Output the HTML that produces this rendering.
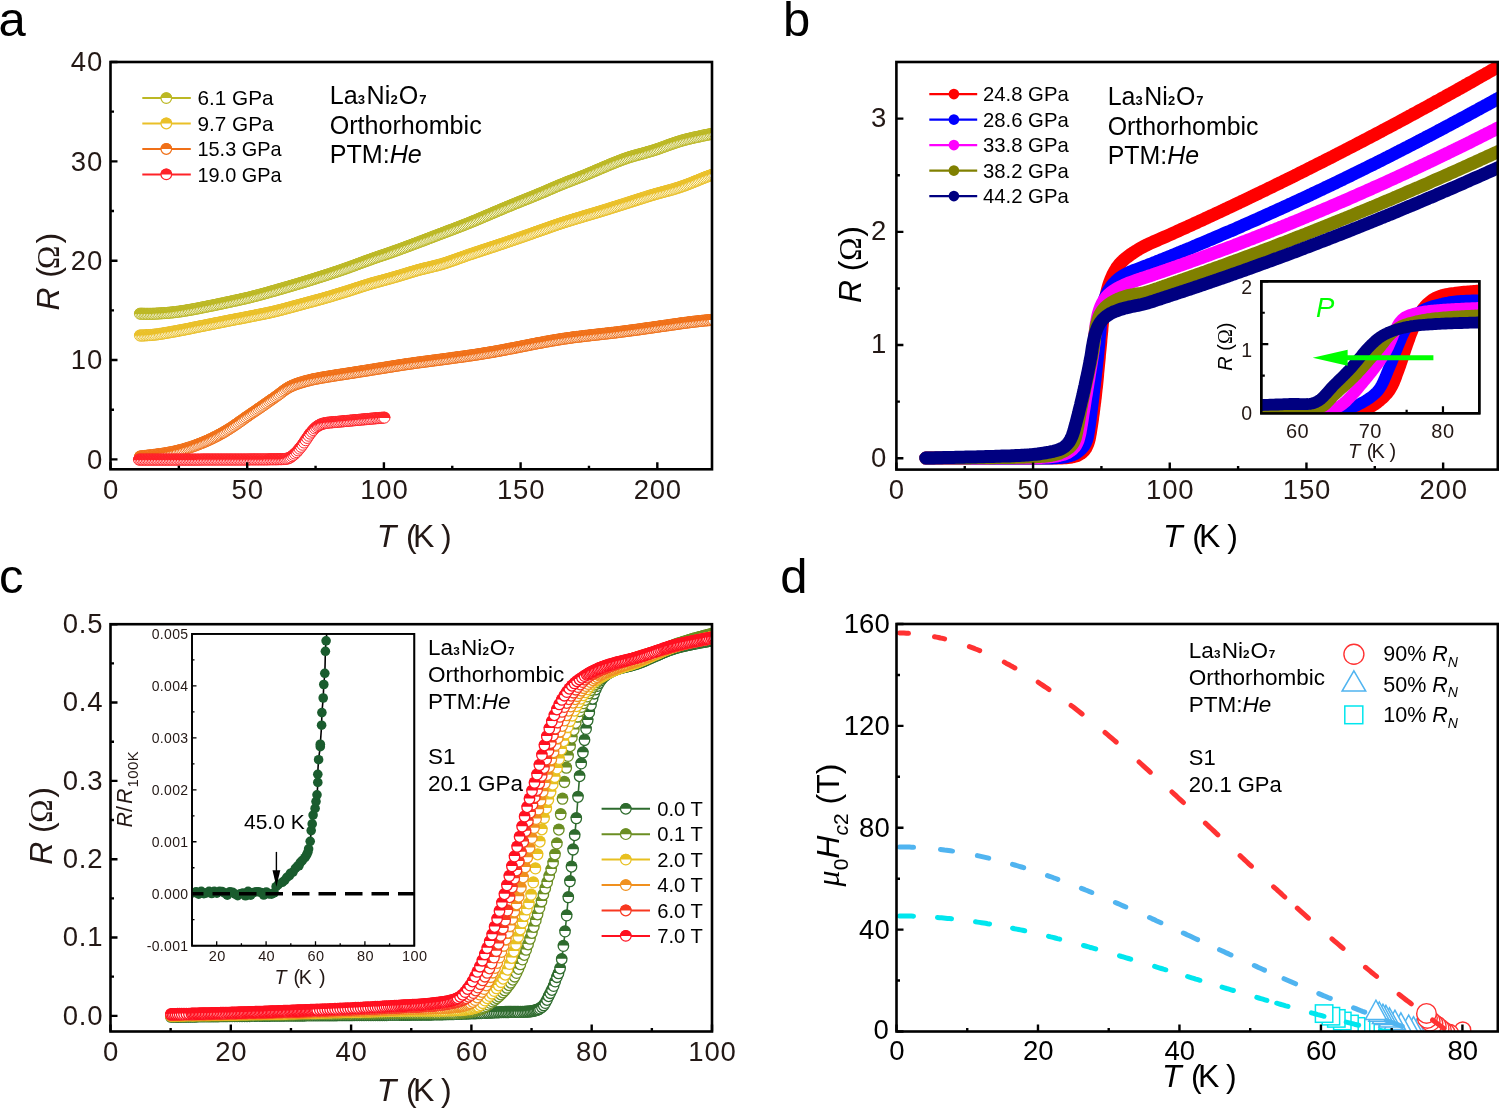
<!DOCTYPE html><html><head><meta charset="utf-8"><style>html,body{margin:0;padding:0;background:#fff;overflow:hidden}svg{display:block;will-change:transform}</style></head><body>
<svg width="1499" height="1108" viewBox="0 0 1499 1108" font-family='"Liberation Sans", sans-serif'>
<rect width="1499" height="1108" fill="#fff"/>
<text x="-1.5" y="36" text-anchor="start" fill="#000" style="font-size:49px;" font-family='"Liberation Sans", sans-serif' >a</text>
<text x="783" y="36" text-anchor="start" fill="#000" style="font-size:49px;" font-family='"Liberation Sans", sans-serif' >b</text>
<text x="-1" y="593" text-anchor="start" fill="#000" style="font-size:49px;" font-family='"Liberation Sans", sans-serif' >c</text>
<text x="780.2" y="593" text-anchor="start" fill="#000" style="font-size:49px;" font-family='"Liberation Sans", sans-serif' >d</text>
<defs><g id="hm"><circle r="5.3" fill="#fff" stroke="currentColor" stroke-width="1.2"/><path d="M-5.9 0A5.9 5.9 0 0 1 5.9 0Z" fill="currentColor"/></g><g id="hma"><circle r="5.55" fill="#fff" stroke="currentColor" stroke-width="1.0"/><path d="M-6.05 0.3A6.05 6.05 0 0 1 6.05 0.3Z" fill="currentColor"/></g><g id="hmc"><circle r="5.2" fill="#fff" stroke="currentColor" stroke-width="1.3"/><path d="M-5.85 -0.6A5.85 5.85 0 0 1 5.85 -0.6Z" fill="currentColor"/></g><clipPath id="clipA"><rect x="110.5" y="62.0" width="601.5" height="407.3"/></clipPath><clipPath id="clipB"><rect x="896.4" y="62.0" width="601.4" height="407.6"/></clipPath><clipPath id="clipBI"><rect x="1261.3" y="281.3" width="218.0" height="132.0"/></clipPath><clipPath id="clipC"><rect x="110.5" y="624.2" width="601.5" height="407.3"/></clipPath><clipPath id="clipCI"><rect x="192.0" y="633.9" width="222.3" height="311.8"/></clipPath><clipPath id="clipD"><rect x="896.5" y="624.0" width="601.3" height="407.5"/></clipPath></defs>
<g clip-path="url(#clipA)">
<g style="color:#bcb824"><use href="#hma" x="140.0" y="313.7"/><use href="#hma" x="141.5" y="313.7"/><use href="#hma" x="143.0" y="313.7"/><use href="#hma" x="144.6" y="313.8"/><use href="#hma" x="146.1" y="313.8"/><use href="#hma" x="147.6" y="313.8"/><use href="#hma" x="149.1" y="313.8"/><use href="#hma" x="150.7" y="313.8"/><use href="#hma" x="152.2" y="313.8"/><use href="#hma" x="153.7" y="313.7"/><use href="#hma" x="155.3" y="313.7"/><use href="#hma" x="156.8" y="313.6"/><use href="#hma" x="158.3" y="313.5"/><use href="#hma" x="159.8" y="313.4"/><use href="#hma" x="161.4" y="313.3"/><use href="#hma" x="162.9" y="313.2"/><use href="#hma" x="164.4" y="313.1"/><use href="#hma" x="166.0" y="313.0"/><use href="#hma" x="167.5" y="312.9"/><use href="#hma" x="169.0" y="312.7"/><use href="#hma" x="170.5" y="312.6"/><use href="#hma" x="172.1" y="312.4"/><use href="#hma" x="173.6" y="312.3"/><use href="#hma" x="175.1" y="312.1"/><use href="#hma" x="176.6" y="311.9"/><use href="#hma" x="178.2" y="311.7"/><use href="#hma" x="179.7" y="311.5"/><use href="#hma" x="181.2" y="311.3"/><use href="#hma" x="182.7" y="311.1"/><use href="#hma" x="184.2" y="310.8"/><use href="#hma" x="185.7" y="310.6"/><use href="#hma" x="187.3" y="310.3"/><use href="#hma" x="188.8" y="310.1"/><use href="#hma" x="190.3" y="309.8"/><use href="#hma" x="191.8" y="309.5"/><use href="#hma" x="193.3" y="309.3"/><use href="#hma" x="194.8" y="309.0"/><use href="#hma" x="196.3" y="308.7"/><use href="#hma" x="197.8" y="308.4"/><use href="#hma" x="199.3" y="308.1"/><use href="#hma" x="200.8" y="307.8"/><use href="#hma" x="202.3" y="307.5"/><use href="#hma" x="203.8" y="307.2"/><use href="#hma" x="205.3" y="306.9"/><use href="#hma" x="206.8" y="306.6"/><use href="#hma" x="208.3" y="306.3"/><use href="#hma" x="209.8" y="306.0"/><use href="#hma" x="211.3" y="305.7"/><use href="#hma" x="212.8" y="305.4"/><use href="#hma" x="214.3" y="305.1"/><use href="#hma" x="215.8" y="304.8"/><use href="#hma" x="217.3" y="304.5"/><use href="#hma" x="218.8" y="304.1"/><use href="#hma" x="220.3" y="303.8"/><use href="#hma" x="221.8" y="303.5"/><use href="#hma" x="223.3" y="303.2"/><use href="#hma" x="224.8" y="302.9"/><use href="#hma" x="226.3" y="302.5"/><use href="#hma" x="227.8" y="302.2"/><use href="#hma" x="229.3" y="301.9"/><use href="#hma" x="230.8" y="301.6"/><use href="#hma" x="232.3" y="301.2"/><use href="#hma" x="233.8" y="300.9"/><use href="#hma" x="235.3" y="300.6"/><use href="#hma" x="236.8" y="300.3"/><use href="#hma" x="238.3" y="300.0"/><use href="#hma" x="239.8" y="299.6"/><use href="#hma" x="241.3" y="299.3"/><use href="#hma" x="242.8" y="299.0"/><use href="#hma" x="244.3" y="298.6"/><use href="#hma" x="245.8" y="298.3"/><use href="#hma" x="247.3" y="297.9"/><use href="#hma" x="248.8" y="297.6"/><use href="#hma" x="250.3" y="297.2"/><use href="#hma" x="251.8" y="296.8"/><use href="#hma" x="253.3" y="296.4"/><use href="#hma" x="254.7" y="296.1"/><use href="#hma" x="256.2" y="295.7"/><use href="#hma" x="257.7" y="295.3"/><use href="#hma" x="259.2" y="294.9"/><use href="#hma" x="260.7" y="294.5"/><use href="#hma" x="262.2" y="294.1"/><use href="#hma" x="263.6" y="293.7"/><use href="#hma" x="265.1" y="293.3"/><use href="#hma" x="266.6" y="292.9"/><use href="#hma" x="268.1" y="292.5"/><use href="#hma" x="269.5" y="292.0"/><use href="#hma" x="271.0" y="291.6"/><use href="#hma" x="272.5" y="291.2"/><use href="#hma" x="274.0" y="290.8"/><use href="#hma" x="275.4" y="290.4"/><use href="#hma" x="276.9" y="290.0"/><use href="#hma" x="278.4" y="289.5"/><use href="#hma" x="279.9" y="289.1"/><use href="#hma" x="281.3" y="288.7"/><use href="#hma" x="282.8" y="288.3"/><use href="#hma" x="284.3" y="287.8"/><use href="#hma" x="285.8" y="287.4"/><use href="#hma" x="287.2" y="287.0"/><use href="#hma" x="288.7" y="286.6"/><use href="#hma" x="290.2" y="286.1"/><use href="#hma" x="291.6" y="285.7"/><use href="#hma" x="293.1" y="285.3"/><use href="#hma" x="294.6" y="284.8"/><use href="#hma" x="296.1" y="284.4"/><use href="#hma" x="297.5" y="283.9"/><use href="#hma" x="299.0" y="283.5"/><use href="#hma" x="300.5" y="283.1"/><use href="#hma" x="301.9" y="282.6"/><use href="#hma" x="303.4" y="282.2"/><use href="#hma" x="304.9" y="281.7"/><use href="#hma" x="306.3" y="281.3"/><use href="#hma" x="307.8" y="280.8"/><use href="#hma" x="309.3" y="280.4"/><use href="#hma" x="310.7" y="279.9"/><use href="#hma" x="312.2" y="279.5"/><use href="#hma" x="313.7" y="279.0"/><use href="#hma" x="315.1" y="278.6"/><use href="#hma" x="316.6" y="278.1"/><use href="#hma" x="318.0" y="277.6"/><use href="#hma" x="319.5" y="277.2"/><use href="#hma" x="321.0" y="276.7"/><use href="#hma" x="322.4" y="276.2"/><use href="#hma" x="323.9" y="275.8"/><use href="#hma" x="325.4" y="275.3"/><use href="#hma" x="326.8" y="274.8"/><use href="#hma" x="328.3" y="274.4"/><use href="#hma" x="329.7" y="273.9"/><use href="#hma" x="331.2" y="273.4"/><use href="#hma" x="332.6" y="272.9"/><use href="#hma" x="334.1" y="272.4"/><use href="#hma" x="335.5" y="272.0"/><use href="#hma" x="337.0" y="271.5"/><use href="#hma" x="338.5" y="271.0"/><use href="#hma" x="339.9" y="270.5"/><use href="#hma" x="341.4" y="270.0"/><use href="#hma" x="342.8" y="269.5"/><use href="#hma" x="344.3" y="269.0"/><use href="#hma" x="345.7" y="268.5"/><use href="#hma" x="347.1" y="268.0"/><use href="#hma" x="348.6" y="267.5"/><use href="#hma" x="350.0" y="266.9"/><use href="#hma" x="351.5" y="266.4"/><use href="#hma" x="352.9" y="265.9"/><use href="#hma" x="354.4" y="265.4"/><use href="#hma" x="355.8" y="264.8"/><use href="#hma" x="357.2" y="264.3"/><use href="#hma" x="358.7" y="263.8"/><use href="#hma" x="360.1" y="263.2"/><use href="#hma" x="361.5" y="262.7"/><use href="#hma" x="363.0" y="262.2"/><use href="#hma" x="364.4" y="261.6"/><use href="#hma" x="365.9" y="261.1"/><use href="#hma" x="367.3" y="260.6"/><use href="#hma" x="368.7" y="260.1"/><use href="#hma" x="370.2" y="259.6"/><use href="#hma" x="371.6" y="259.0"/><use href="#hma" x="373.1" y="258.5"/><use href="#hma" x="374.5" y="258.0"/><use href="#hma" x="376.0" y="257.5"/><use href="#hma" x="377.4" y="257.0"/><use href="#hma" x="378.9" y="256.5"/><use href="#hma" x="380.3" y="256.0"/><use href="#hma" x="381.8" y="255.5"/><use href="#hma" x="383.2" y="255.1"/><use href="#hma" x="384.7" y="254.6"/><use href="#hma" x="386.1" y="254.1"/><use href="#hma" x="387.6" y="253.6"/><use href="#hma" x="389.0" y="253.1"/><use href="#hma" x="390.5" y="252.6"/><use href="#hma" x="391.9" y="252.1"/><use href="#hma" x="393.4" y="251.5"/><use href="#hma" x="394.8" y="251.0"/><use href="#hma" x="396.3" y="250.5"/><use href="#hma" x="397.7" y="250.0"/><use href="#hma" x="399.2" y="249.5"/><use href="#hma" x="400.6" y="248.9"/><use href="#hma" x="402.0" y="248.4"/><use href="#hma" x="403.5" y="247.9"/><use href="#hma" x="404.9" y="247.4"/><use href="#hma" x="406.3" y="246.8"/><use href="#hma" x="407.8" y="246.3"/><use href="#hma" x="409.2" y="245.8"/><use href="#hma" x="410.7" y="245.2"/><use href="#hma" x="412.1" y="244.7"/><use href="#hma" x="413.5" y="244.1"/><use href="#hma" x="415.0" y="243.6"/><use href="#hma" x="416.4" y="243.1"/><use href="#hma" x="417.8" y="242.5"/><use href="#hma" x="419.3" y="242.0"/><use href="#hma" x="420.7" y="241.4"/><use href="#hma" x="422.1" y="240.9"/><use href="#hma" x="423.6" y="240.4"/><use href="#hma" x="425.0" y="239.8"/><use href="#hma" x="426.4" y="239.3"/><use href="#hma" x="427.9" y="238.7"/><use href="#hma" x="429.3" y="238.2"/><use href="#hma" x="430.7" y="237.6"/><use href="#hma" x="432.2" y="237.1"/><use href="#hma" x="433.6" y="236.5"/><use href="#hma" x="435.0" y="236.0"/><use href="#hma" x="436.5" y="235.4"/><use href="#hma" x="437.9" y="234.9"/><use href="#hma" x="439.3" y="234.3"/><use href="#hma" x="440.8" y="233.8"/><use href="#hma" x="442.2" y="233.3"/><use href="#hma" x="443.6" y="232.7"/><use href="#hma" x="445.1" y="232.2"/><use href="#hma" x="446.5" y="231.6"/><use href="#hma" x="447.9" y="231.1"/><use href="#hma" x="449.4" y="230.5"/><use href="#hma" x="450.8" y="230.0"/><use href="#hma" x="452.2" y="229.5"/><use href="#hma" x="453.7" y="228.9"/><use href="#hma" x="455.1" y="228.4"/><use href="#hma" x="456.5" y="227.8"/><use href="#hma" x="458.0" y="227.3"/><use href="#hma" x="459.4" y="226.7"/><use href="#hma" x="460.8" y="226.2"/><use href="#hma" x="462.3" y="225.6"/><use href="#hma" x="463.7" y="225.1"/><use href="#hma" x="465.1" y="224.5"/><use href="#hma" x="466.5" y="223.9"/><use href="#hma" x="468.0" y="223.4"/><use href="#hma" x="469.4" y="222.8"/><use href="#hma" x="470.8" y="222.2"/><use href="#hma" x="472.2" y="221.6"/><use href="#hma" x="473.6" y="221.1"/><use href="#hma" x="475.1" y="220.5"/><use href="#hma" x="476.5" y="219.9"/><use href="#hma" x="477.9" y="219.3"/><use href="#hma" x="479.3" y="218.7"/><use href="#hma" x="480.7" y="218.1"/><use href="#hma" x="482.1" y="217.5"/><use href="#hma" x="483.5" y="216.9"/><use href="#hma" x="484.9" y="216.3"/><use href="#hma" x="486.3" y="215.7"/><use href="#hma" x="487.8" y="215.1"/><use href="#hma" x="489.2" y="214.5"/><use href="#hma" x="490.6" y="213.9"/><use href="#hma" x="492.0" y="213.3"/><use href="#hma" x="493.4" y="212.7"/><use href="#hma" x="494.8" y="212.1"/><use href="#hma" x="496.2" y="211.5"/><use href="#hma" x="497.6" y="210.9"/><use href="#hma" x="499.1" y="210.3"/><use href="#hma" x="500.5" y="209.7"/><use href="#hma" x="501.9" y="209.1"/><use href="#hma" x="503.3" y="208.5"/><use href="#hma" x="504.7" y="207.9"/><use href="#hma" x="506.1" y="207.3"/><use href="#hma" x="507.5" y="206.7"/><use href="#hma" x="509.0" y="206.2"/><use href="#hma" x="510.4" y="205.6"/><use href="#hma" x="511.8" y="205.0"/><use href="#hma" x="513.2" y="204.4"/><use href="#hma" x="514.6" y="203.8"/><use href="#hma" x="516.1" y="203.2"/><use href="#hma" x="517.5" y="202.7"/><use href="#hma" x="518.9" y="202.1"/><use href="#hma" x="520.3" y="201.5"/><use href="#hma" x="521.7" y="200.9"/><use href="#hma" x="523.2" y="200.4"/><use href="#hma" x="524.6" y="199.8"/><use href="#hma" x="526.0" y="199.2"/><use href="#hma" x="527.4" y="198.7"/><use href="#hma" x="528.9" y="198.1"/><use href="#hma" x="530.3" y="197.5"/><use href="#hma" x="531.7" y="196.9"/><use href="#hma" x="533.1" y="196.4"/><use href="#hma" x="534.5" y="195.8"/><use href="#hma" x="536.0" y="195.2"/><use href="#hma" x="537.4" y="194.6"/><use href="#hma" x="538.8" y="194.0"/><use href="#hma" x="540.2" y="193.4"/><use href="#hma" x="541.6" y="192.9"/><use href="#hma" x="543.0" y="192.3"/><use href="#hma" x="544.4" y="191.7"/><use href="#hma" x="545.9" y="191.1"/><use href="#hma" x="547.3" y="190.4"/><use href="#hma" x="548.7" y="189.8"/><use href="#hma" x="550.1" y="189.2"/><use href="#hma" x="551.5" y="188.6"/><use href="#hma" x="552.9" y="188.0"/><use href="#hma" x="554.3" y="187.4"/><use href="#hma" x="555.7" y="186.8"/><use href="#hma" x="557.1" y="186.2"/><use href="#hma" x="558.5" y="185.6"/><use href="#hma" x="560.0" y="185.0"/><use href="#hma" x="561.4" y="184.4"/><use href="#hma" x="562.8" y="183.9"/><use href="#hma" x="564.2" y="183.3"/><use href="#hma" x="565.6" y="182.7"/><use href="#hma" x="567.1" y="182.1"/><use href="#hma" x="568.5" y="181.6"/><use href="#hma" x="569.9" y="181.0"/><use href="#hma" x="571.3" y="180.5"/><use href="#hma" x="572.8" y="179.9"/><use href="#hma" x="574.2" y="179.4"/><use href="#hma" x="575.6" y="178.8"/><use href="#hma" x="577.1" y="178.3"/><use href="#hma" x="578.5" y="177.7"/><use href="#hma" x="579.9" y="177.1"/><use href="#hma" x="581.4" y="176.6"/><use href="#hma" x="582.8" y="176.0"/><use href="#hma" x="584.2" y="175.5"/><use href="#hma" x="585.6" y="174.9"/><use href="#hma" x="587.0" y="174.3"/><use href="#hma" x="588.5" y="173.7"/><use href="#hma" x="589.9" y="173.1"/><use href="#hma" x="591.3" y="172.5"/><use href="#hma" x="592.7" y="171.9"/><use href="#hma" x="594.1" y="171.3"/><use href="#hma" x="595.5" y="170.7"/><use href="#hma" x="596.9" y="170.1"/><use href="#hma" x="598.3" y="169.5"/><use href="#hma" x="599.7" y="168.9"/><use href="#hma" x="601.1" y="168.3"/><use href="#hma" x="602.5" y="167.7"/><use href="#hma" x="604.0" y="167.1"/><use href="#hma" x="605.4" y="166.5"/><use href="#hma" x="606.8" y="165.9"/><use href="#hma" x="608.2" y="165.3"/><use href="#hma" x="609.6" y="164.7"/><use href="#hma" x="611.0" y="164.1"/><use href="#hma" x="612.5" y="163.5"/><use href="#hma" x="613.9" y="163.0"/><use href="#hma" x="615.3" y="162.4"/><use href="#hma" x="616.7" y="161.8"/><use href="#hma" x="618.1" y="161.3"/><use href="#hma" x="619.6" y="160.7"/><use href="#hma" x="621.0" y="160.2"/><use href="#hma" x="622.4" y="159.6"/><use href="#hma" x="623.9" y="159.1"/><use href="#hma" x="625.3" y="158.6"/><use href="#hma" x="626.8" y="158.1"/><use href="#hma" x="628.2" y="157.6"/><use href="#hma" x="629.7" y="157.1"/><use href="#hma" x="631.2" y="156.7"/><use href="#hma" x="632.6" y="156.2"/><use href="#hma" x="634.1" y="155.8"/><use href="#hma" x="635.6" y="155.4"/><use href="#hma" x="637.0" y="155.0"/><use href="#hma" x="638.5" y="154.6"/><use href="#hma" x="640.0" y="154.2"/><use href="#hma" x="641.5" y="153.8"/><use href="#hma" x="643.0" y="153.4"/><use href="#hma" x="644.4" y="153.0"/><use href="#hma" x="645.9" y="152.6"/><use href="#hma" x="647.4" y="152.1"/><use href="#hma" x="648.9" y="151.7"/><use href="#hma" x="650.3" y="151.3"/><use href="#hma" x="651.8" y="150.9"/><use href="#hma" x="653.3" y="150.4"/><use href="#hma" x="654.7" y="149.9"/><use href="#hma" x="656.2" y="149.5"/><use href="#hma" x="657.6" y="149.0"/><use href="#hma" x="659.1" y="148.5"/><use href="#hma" x="660.5" y="148.0"/><use href="#hma" x="662.0" y="147.4"/><use href="#hma" x="663.4" y="146.9"/><use href="#hma" x="664.9" y="146.4"/><use href="#hma" x="666.3" y="145.9"/><use href="#hma" x="667.7" y="145.3"/><use href="#hma" x="669.2" y="144.8"/><use href="#hma" x="670.6" y="144.3"/><use href="#hma" x="672.1" y="143.8"/><use href="#hma" x="673.5" y="143.3"/><use href="#hma" x="675.0" y="142.8"/><use href="#hma" x="676.4" y="142.3"/><use href="#hma" x="677.9" y="141.8"/><use href="#hma" x="679.3" y="141.4"/><use href="#hma" x="680.8" y="140.9"/><use href="#hma" x="682.3" y="140.5"/><use href="#hma" x="683.8" y="140.1"/><use href="#hma" x="685.2" y="139.7"/><use href="#hma" x="686.7" y="139.3"/><use href="#hma" x="688.2" y="138.9"/><use href="#hma" x="689.7" y="138.6"/><use href="#hma" x="691.2" y="138.2"/><use href="#hma" x="692.7" y="137.9"/><use href="#hma" x="694.2" y="137.5"/><use href="#hma" x="695.7" y="137.2"/><use href="#hma" x="697.2" y="136.9"/><use href="#hma" x="698.7" y="136.6"/><use href="#hma" x="700.2" y="136.3"/><use href="#hma" x="701.7" y="135.9"/><use href="#hma" x="703.2" y="135.6"/><use href="#hma" x="704.7" y="135.3"/><use href="#hma" x="706.2" y="135.0"/><use href="#hma" x="707.6" y="134.7"/><use href="#hma" x="709.2" y="134.4"/><use href="#hma" x="710.7" y="134.1"/><use href="#hma" x="712.2" y="133.8"/><use href="#hma" x="713.6" y="133.5"/><use href="#hma" x="715.1" y="133.3"/></g>
<g style="color:#eac028"><use href="#hma" x="140.0" y="335.5"/><use href="#hma" x="141.5" y="335.5"/><use href="#hma" x="143.0" y="335.5"/><use href="#hma" x="144.6" y="335.4"/><use href="#hma" x="146.1" y="335.3"/><use href="#hma" x="147.6" y="335.2"/><use href="#hma" x="149.1" y="335.1"/><use href="#hma" x="150.6" y="335.0"/><use href="#hma" x="152.2" y="334.9"/><use href="#hma" x="153.7" y="334.7"/><use href="#hma" x="155.2" y="334.6"/><use href="#hma" x="156.7" y="334.4"/><use href="#hma" x="158.3" y="334.2"/><use href="#hma" x="159.8" y="333.9"/><use href="#hma" x="161.3" y="333.7"/><use href="#hma" x="162.8" y="333.5"/><use href="#hma" x="164.3" y="333.2"/><use href="#hma" x="165.8" y="333.0"/><use href="#hma" x="167.3" y="332.7"/><use href="#hma" x="168.9" y="332.4"/><use href="#hma" x="170.4" y="332.2"/><use href="#hma" x="171.9" y="331.9"/><use href="#hma" x="173.4" y="331.6"/><use href="#hma" x="174.9" y="331.4"/><use href="#hma" x="176.4" y="331.1"/><use href="#hma" x="177.9" y="330.8"/><use href="#hma" x="179.4" y="330.5"/><use href="#hma" x="180.9" y="330.2"/><use href="#hma" x="182.4" y="329.9"/><use href="#hma" x="183.9" y="329.7"/><use href="#hma" x="185.4" y="329.4"/><use href="#hma" x="186.9" y="329.1"/><use href="#hma" x="188.4" y="328.8"/><use href="#hma" x="189.9" y="328.5"/><use href="#hma" x="191.4" y="328.1"/><use href="#hma" x="192.9" y="327.8"/><use href="#hma" x="194.5" y="327.5"/><use href="#hma" x="196.0" y="327.2"/><use href="#hma" x="197.5" y="326.9"/><use href="#hma" x="199.0" y="326.6"/><use href="#hma" x="200.5" y="326.3"/><use href="#hma" x="202.0" y="326.0"/><use href="#hma" x="203.5" y="325.7"/><use href="#hma" x="205.0" y="325.4"/><use href="#hma" x="206.5" y="325.1"/><use href="#hma" x="208.0" y="324.8"/><use href="#hma" x="209.5" y="324.5"/><use href="#hma" x="211.0" y="324.2"/><use href="#hma" x="212.5" y="323.9"/><use href="#hma" x="214.0" y="323.6"/><use href="#hma" x="215.5" y="323.3"/><use href="#hma" x="217.0" y="323.0"/><use href="#hma" x="218.5" y="322.7"/><use href="#hma" x="220.0" y="322.4"/><use href="#hma" x="221.5" y="322.1"/><use href="#hma" x="223.0" y="321.8"/><use href="#hma" x="224.5" y="321.5"/><use href="#hma" x="226.0" y="321.2"/><use href="#hma" x="227.5" y="320.9"/><use href="#hma" x="229.0" y="320.6"/><use href="#hma" x="230.5" y="320.3"/><use href="#hma" x="232.0" y="320.0"/><use href="#hma" x="233.5" y="319.7"/><use href="#hma" x="235.0" y="319.4"/><use href="#hma" x="236.6" y="319.1"/><use href="#hma" x="238.1" y="318.8"/><use href="#hma" x="239.6" y="318.6"/><use href="#hma" x="241.1" y="318.3"/><use href="#hma" x="242.6" y="318.0"/><use href="#hma" x="244.1" y="317.7"/><use href="#hma" x="245.6" y="317.4"/><use href="#hma" x="247.1" y="317.1"/><use href="#hma" x="248.6" y="316.8"/><use href="#hma" x="250.1" y="316.5"/><use href="#hma" x="251.6" y="316.2"/><use href="#hma" x="253.1" y="315.9"/><use href="#hma" x="254.6" y="315.6"/><use href="#hma" x="256.1" y="315.3"/><use href="#hma" x="257.6" y="315.0"/><use href="#hma" x="259.1" y="314.7"/><use href="#hma" x="260.6" y="314.4"/><use href="#hma" x="262.1" y="314.1"/><use href="#hma" x="263.6" y="313.8"/><use href="#hma" x="265.1" y="313.5"/><use href="#hma" x="266.6" y="313.2"/><use href="#hma" x="268.1" y="312.9"/><use href="#hma" x="269.6" y="312.5"/><use href="#hma" x="271.1" y="312.2"/><use href="#hma" x="272.6" y="311.9"/><use href="#hma" x="274.1" y="311.5"/><use href="#hma" x="275.6" y="311.2"/><use href="#hma" x="277.1" y="310.8"/><use href="#hma" x="278.6" y="310.4"/><use href="#hma" x="280.1" y="310.0"/><use href="#hma" x="281.6" y="309.7"/><use href="#hma" x="283.0" y="309.3"/><use href="#hma" x="284.5" y="308.9"/><use href="#hma" x="286.0" y="308.5"/><use href="#hma" x="287.5" y="308.1"/><use href="#hma" x="289.0" y="307.7"/><use href="#hma" x="290.4" y="307.3"/><use href="#hma" x="291.9" y="306.9"/><use href="#hma" x="293.4" y="306.5"/><use href="#hma" x="294.9" y="306.1"/><use href="#hma" x="296.4" y="305.7"/><use href="#hma" x="297.8" y="305.3"/><use href="#hma" x="299.3" y="304.9"/><use href="#hma" x="300.8" y="304.5"/><use href="#hma" x="302.3" y="304.1"/><use href="#hma" x="303.8" y="303.7"/><use href="#hma" x="305.2" y="303.3"/><use href="#hma" x="306.7" y="302.9"/><use href="#hma" x="308.2" y="302.5"/><use href="#hma" x="309.7" y="302.1"/><use href="#hma" x="311.2" y="301.7"/><use href="#hma" x="312.7" y="301.3"/><use href="#hma" x="314.1" y="300.9"/><use href="#hma" x="315.6" y="300.5"/><use href="#hma" x="317.1" y="300.1"/><use href="#hma" x="318.6" y="299.7"/><use href="#hma" x="320.1" y="299.3"/><use href="#hma" x="321.5" y="298.9"/><use href="#hma" x="323.0" y="298.5"/><use href="#hma" x="324.5" y="298.1"/><use href="#hma" x="326.0" y="297.6"/><use href="#hma" x="327.4" y="297.2"/><use href="#hma" x="328.9" y="296.8"/><use href="#hma" x="330.4" y="296.4"/><use href="#hma" x="331.8" y="295.9"/><use href="#hma" x="333.3" y="295.5"/><use href="#hma" x="334.8" y="295.0"/><use href="#hma" x="336.2" y="294.6"/><use href="#hma" x="337.7" y="294.1"/><use href="#hma" x="339.2" y="293.7"/><use href="#hma" x="340.6" y="293.2"/><use href="#hma" x="342.1" y="292.8"/><use href="#hma" x="343.6" y="292.3"/><use href="#hma" x="345.0" y="291.9"/><use href="#hma" x="346.5" y="291.4"/><use href="#hma" x="348.0" y="291.0"/><use href="#hma" x="349.4" y="290.5"/><use href="#hma" x="350.9" y="290.0"/><use href="#hma" x="352.3" y="289.6"/><use href="#hma" x="353.8" y="289.1"/><use href="#hma" x="355.3" y="288.6"/><use href="#hma" x="356.7" y="288.1"/><use href="#hma" x="358.2" y="287.7"/><use href="#hma" x="359.6" y="287.2"/><use href="#hma" x="361.1" y="286.7"/><use href="#hma" x="362.6" y="286.2"/><use href="#hma" x="364.0" y="285.8"/><use href="#hma" x="365.5" y="285.3"/><use href="#hma" x="366.9" y="284.9"/><use href="#hma" x="368.4" y="284.4"/><use href="#hma" x="369.9" y="284.0"/><use href="#hma" x="371.3" y="283.5"/><use href="#hma" x="372.8" y="283.1"/><use href="#hma" x="374.3" y="282.7"/><use href="#hma" x="375.8" y="282.3"/><use href="#hma" x="377.2" y="281.9"/><use href="#hma" x="378.7" y="281.5"/><use href="#hma" x="380.2" y="281.1"/><use href="#hma" x="381.7" y="280.7"/><use href="#hma" x="383.2" y="280.3"/><use href="#hma" x="384.6" y="279.9"/><use href="#hma" x="386.1" y="279.5"/><use href="#hma" x="387.6" y="279.1"/><use href="#hma" x="389.1" y="278.7"/><use href="#hma" x="390.6" y="278.2"/><use href="#hma" x="392.0" y="277.8"/><use href="#hma" x="393.5" y="277.4"/><use href="#hma" x="395.0" y="277.0"/><use href="#hma" x="396.5" y="276.6"/><use href="#hma" x="397.9" y="276.1"/><use href="#hma" x="399.4" y="275.7"/><use href="#hma" x="400.9" y="275.3"/><use href="#hma" x="402.3" y="274.8"/><use href="#hma" x="403.8" y="274.4"/><use href="#hma" x="405.3" y="273.9"/><use href="#hma" x="406.7" y="273.5"/><use href="#hma" x="408.2" y="273.0"/><use href="#hma" x="409.7" y="272.6"/><use href="#hma" x="411.1" y="272.1"/><use href="#hma" x="412.6" y="271.7"/><use href="#hma" x="414.1" y="271.3"/><use href="#hma" x="415.6" y="270.8"/><use href="#hma" x="417.0" y="270.4"/><use href="#hma" x="418.5" y="270.0"/><use href="#hma" x="420.0" y="269.6"/><use href="#hma" x="421.5" y="269.2"/><use href="#hma" x="423.0" y="268.8"/><use href="#hma" x="424.4" y="268.5"/><use href="#hma" x="425.9" y="268.1"/><use href="#hma" x="427.4" y="267.8"/><use href="#hma" x="428.9" y="267.4"/><use href="#hma" x="430.4" y="267.0"/><use href="#hma" x="431.9" y="266.7"/><use href="#hma" x="433.4" y="266.3"/><use href="#hma" x="434.9" y="265.9"/><use href="#hma" x="436.4" y="265.6"/><use href="#hma" x="437.8" y="265.2"/><use href="#hma" x="439.3" y="264.8"/><use href="#hma" x="440.8" y="264.4"/><use href="#hma" x="442.3" y="264.0"/><use href="#hma" x="443.7" y="263.5"/><use href="#hma" x="445.2" y="263.1"/><use href="#hma" x="446.7" y="262.6"/><use href="#hma" x="448.1" y="262.1"/><use href="#hma" x="449.6" y="261.6"/><use href="#hma" x="451.0" y="261.1"/><use href="#hma" x="452.5" y="260.6"/><use href="#hma" x="453.9" y="260.1"/><use href="#hma" x="455.4" y="259.6"/><use href="#hma" x="456.8" y="259.1"/><use href="#hma" x="458.2" y="258.5"/><use href="#hma" x="459.7" y="258.0"/><use href="#hma" x="461.1" y="257.5"/><use href="#hma" x="462.6" y="257.0"/><use href="#hma" x="464.0" y="256.5"/><use href="#hma" x="465.5" y="256.0"/><use href="#hma" x="466.9" y="255.4"/><use href="#hma" x="468.3" y="254.9"/><use href="#hma" x="469.8" y="254.4"/><use href="#hma" x="471.3" y="254.0"/><use href="#hma" x="472.7" y="253.5"/><use href="#hma" x="474.2" y="253.0"/><use href="#hma" x="475.6" y="252.5"/><use href="#hma" x="477.1" y="252.0"/><use href="#hma" x="478.5" y="251.6"/><use href="#hma" x="480.0" y="251.1"/><use href="#hma" x="481.4" y="250.6"/><use href="#hma" x="482.9" y="250.1"/><use href="#hma" x="484.4" y="249.6"/><use href="#hma" x="485.8" y="249.2"/><use href="#hma" x="487.3" y="248.7"/><use href="#hma" x="488.7" y="248.2"/><use href="#hma" x="490.2" y="247.7"/><use href="#hma" x="491.6" y="247.2"/><use href="#hma" x="493.1" y="246.8"/><use href="#hma" x="494.6" y="246.3"/><use href="#hma" x="496.0" y="245.8"/><use href="#hma" x="497.5" y="245.3"/><use href="#hma" x="498.9" y="244.8"/><use href="#hma" x="500.4" y="244.3"/><use href="#hma" x="501.8" y="243.9"/><use href="#hma" x="503.3" y="243.4"/><use href="#hma" x="504.7" y="242.9"/><use href="#hma" x="506.2" y="242.4"/><use href="#hma" x="507.6" y="241.9"/><use href="#hma" x="509.1" y="241.4"/><use href="#hma" x="510.5" y="240.9"/><use href="#hma" x="512.0" y="240.4"/><use href="#hma" x="513.4" y="239.9"/><use href="#hma" x="514.9" y="239.4"/><use href="#hma" x="516.3" y="238.9"/><use href="#hma" x="517.8" y="238.4"/><use href="#hma" x="519.2" y="237.9"/><use href="#hma" x="520.7" y="237.4"/><use href="#hma" x="522.1" y="236.9"/><use href="#hma" x="523.6" y="236.4"/><use href="#hma" x="525.0" y="235.9"/><use href="#hma" x="526.5" y="235.4"/><use href="#hma" x="527.9" y="234.9"/><use href="#hma" x="529.4" y="234.4"/><use href="#hma" x="530.8" y="233.9"/><use href="#hma" x="532.3" y="233.4"/><use href="#hma" x="533.7" y="232.8"/><use href="#hma" x="535.2" y="232.3"/><use href="#hma" x="536.6" y="231.8"/><use href="#hma" x="538.1" y="231.3"/><use href="#hma" x="539.5" y="230.8"/><use href="#hma" x="540.9" y="230.3"/><use href="#hma" x="542.4" y="229.8"/><use href="#hma" x="543.8" y="229.3"/><use href="#hma" x="545.3" y="228.8"/><use href="#hma" x="546.7" y="228.3"/><use href="#hma" x="548.2" y="227.8"/><use href="#hma" x="549.6" y="227.2"/><use href="#hma" x="551.1" y="226.7"/><use href="#hma" x="552.5" y="226.2"/><use href="#hma" x="554.0" y="225.7"/><use href="#hma" x="555.4" y="225.2"/><use href="#hma" x="556.9" y="224.7"/><use href="#hma" x="558.3" y="224.2"/><use href="#hma" x="559.8" y="223.7"/><use href="#hma" x="561.2" y="223.3"/><use href="#hma" x="562.7" y="222.8"/><use href="#hma" x="564.1" y="222.3"/><use href="#hma" x="565.6" y="221.8"/><use href="#hma" x="567.1" y="221.4"/><use href="#hma" x="568.5" y="220.9"/><use href="#hma" x="570.0" y="220.5"/><use href="#hma" x="571.4" y="220.0"/><use href="#hma" x="572.9" y="219.6"/><use href="#hma" x="574.4" y="219.1"/><use href="#hma" x="575.8" y="218.7"/><use href="#hma" x="577.3" y="218.2"/><use href="#hma" x="578.8" y="217.8"/><use href="#hma" x="580.3" y="217.4"/><use href="#hma" x="581.7" y="216.9"/><use href="#hma" x="583.2" y="216.5"/><use href="#hma" x="584.7" y="216.0"/><use href="#hma" x="586.1" y="215.6"/><use href="#hma" x="587.6" y="215.2"/><use href="#hma" x="589.1" y="214.7"/><use href="#hma" x="590.5" y="214.3"/><use href="#hma" x="592.0" y="213.9"/><use href="#hma" x="593.5" y="213.4"/><use href="#hma" x="595.0" y="213.0"/><use href="#hma" x="596.4" y="212.6"/><use href="#hma" x="597.9" y="212.1"/><use href="#hma" x="599.4" y="211.7"/><use href="#hma" x="600.8" y="211.2"/><use href="#hma" x="602.3" y="210.8"/><use href="#hma" x="603.8" y="210.3"/><use href="#hma" x="605.2" y="209.9"/><use href="#hma" x="606.7" y="209.4"/><use href="#hma" x="608.2" y="209.0"/><use href="#hma" x="609.6" y="208.5"/><use href="#hma" x="611.1" y="208.0"/><use href="#hma" x="612.5" y="207.6"/><use href="#hma" x="614.0" y="207.1"/><use href="#hma" x="615.5" y="206.7"/><use href="#hma" x="616.9" y="206.2"/><use href="#hma" x="618.4" y="205.7"/><use href="#hma" x="619.9" y="205.3"/><use href="#hma" x="621.3" y="204.8"/><use href="#hma" x="622.8" y="204.4"/><use href="#hma" x="624.2" y="203.9"/><use href="#hma" x="625.7" y="203.4"/><use href="#hma" x="627.2" y="203.0"/><use href="#hma" x="628.6" y="202.5"/><use href="#hma" x="630.1" y="202.0"/><use href="#hma" x="631.5" y="201.6"/><use href="#hma" x="633.0" y="201.1"/><use href="#hma" x="634.5" y="200.6"/><use href="#hma" x="635.9" y="200.2"/><use href="#hma" x="637.4" y="199.7"/><use href="#hma" x="638.8" y="199.2"/><use href="#hma" x="640.3" y="198.8"/><use href="#hma" x="641.8" y="198.3"/><use href="#hma" x="643.2" y="197.8"/><use href="#hma" x="644.7" y="197.4"/><use href="#hma" x="646.2" y="196.9"/><use href="#hma" x="647.6" y="196.4"/><use href="#hma" x="649.1" y="196.0"/><use href="#hma" x="650.5" y="195.5"/><use href="#hma" x="652.0" y="195.1"/><use href="#hma" x="653.5" y="194.7"/><use href="#hma" x="655.0" y="194.2"/><use href="#hma" x="656.4" y="193.8"/><use href="#hma" x="657.9" y="193.4"/><use href="#hma" x="659.4" y="193.0"/><use href="#hma" x="660.9" y="192.6"/><use href="#hma" x="662.3" y="192.2"/><use href="#hma" x="663.8" y="191.8"/><use href="#hma" x="665.3" y="191.4"/><use href="#hma" x="666.8" y="191.0"/><use href="#hma" x="668.3" y="190.6"/><use href="#hma" x="669.7" y="190.2"/><use href="#hma" x="671.2" y="189.8"/><use href="#hma" x="672.7" y="189.4"/><use href="#hma" x="674.2" y="188.9"/><use href="#hma" x="675.6" y="188.5"/><use href="#hma" x="677.1" y="188.0"/><use href="#hma" x="678.6" y="187.6"/><use href="#hma" x="680.0" y="187.1"/><use href="#hma" x="681.5" y="186.6"/><use href="#hma" x="682.9" y="186.1"/><use href="#hma" x="684.4" y="185.6"/><use href="#hma" x="685.8" y="185.1"/><use href="#hma" x="687.2" y="184.5"/><use href="#hma" x="688.7" y="184.0"/><use href="#hma" x="690.1" y="183.4"/><use href="#hma" x="691.5" y="182.9"/><use href="#hma" x="692.9" y="182.3"/><use href="#hma" x="694.4" y="181.7"/><use href="#hma" x="695.8" y="181.1"/><use href="#hma" x="697.2" y="180.6"/><use href="#hma" x="698.6" y="180.0"/><use href="#hma" x="700.0" y="179.4"/><use href="#hma" x="701.5" y="178.8"/><use href="#hma" x="702.9" y="178.2"/><use href="#hma" x="704.3" y="177.7"/><use href="#hma" x="705.7" y="177.1"/><use href="#hma" x="707.1" y="176.6"/><use href="#hma" x="708.6" y="176.1"/><use href="#hma" x="710.0" y="175.5"/><use href="#hma" x="711.4" y="175.1"/><use href="#hma" x="712.9" y="174.6"/><use href="#hma" x="714.3" y="174.2"/></g>
<g style="color:#f07018"><use href="#hma" x="140.1" y="456.5"/><use href="#hma" x="141.6" y="456.3"/><use href="#hma" x="143.1" y="456.2"/><use href="#hma" x="144.6" y="456.0"/><use href="#hma" x="146.2" y="455.8"/><use href="#hma" x="147.7" y="455.6"/><use href="#hma" x="149.2" y="455.5"/><use href="#hma" x="150.7" y="455.3"/><use href="#hma" x="152.3" y="455.1"/><use href="#hma" x="153.8" y="454.9"/><use href="#hma" x="155.3" y="454.7"/><use href="#hma" x="156.8" y="454.5"/><use href="#hma" x="158.4" y="454.3"/><use href="#hma" x="159.9" y="454.1"/><use href="#hma" x="161.4" y="453.9"/><use href="#hma" x="162.9" y="453.7"/><use href="#hma" x="164.4" y="453.4"/><use href="#hma" x="165.9" y="453.2"/><use href="#hma" x="167.4" y="452.9"/><use href="#hma" x="169.0" y="452.6"/><use href="#hma" x="170.5" y="452.4"/><use href="#hma" x="172.0" y="452.1"/><use href="#hma" x="173.5" y="451.7"/><use href="#hma" x="175.0" y="451.4"/><use href="#hma" x="176.5" y="451.1"/><use href="#hma" x="177.9" y="450.7"/><use href="#hma" x="179.4" y="450.3"/><use href="#hma" x="180.9" y="450.0"/><use href="#hma" x="182.4" y="449.6"/><use href="#hma" x="183.9" y="449.2"/><use href="#hma" x="185.4" y="448.7"/><use href="#hma" x="186.8" y="448.3"/><use href="#hma" x="188.3" y="447.8"/><use href="#hma" x="189.7" y="447.4"/><use href="#hma" x="191.2" y="446.9"/><use href="#hma" x="192.7" y="446.4"/><use href="#hma" x="194.1" y="445.9"/><use href="#hma" x="195.5" y="445.4"/><use href="#hma" x="197.0" y="444.8"/><use href="#hma" x="198.4" y="444.3"/><use href="#hma" x="199.8" y="443.7"/><use href="#hma" x="201.3" y="443.2"/><use href="#hma" x="202.7" y="442.6"/><use href="#hma" x="204.1" y="442.0"/><use href="#hma" x="205.5" y="441.4"/><use href="#hma" x="206.9" y="440.8"/><use href="#hma" x="208.3" y="440.2"/><use href="#hma" x="209.7" y="439.5"/><use href="#hma" x="211.1" y="438.9"/><use href="#hma" x="212.5" y="438.2"/><use href="#hma" x="213.8" y="437.5"/><use href="#hma" x="215.2" y="436.8"/><use href="#hma" x="216.6" y="436.2"/><use href="#hma" x="217.9" y="435.4"/><use href="#hma" x="219.3" y="434.7"/><use href="#hma" x="220.6" y="434.0"/><use href="#hma" x="222.0" y="433.2"/><use href="#hma" x="223.3" y="432.5"/><use href="#hma" x="224.6" y="431.7"/><use href="#hma" x="226.2" y="430.8"/><use href="#hma" x="227.7" y="429.8"/><use href="#hma" x="229.2" y="428.9"/><use href="#hma" x="230.7" y="427.9"/><use href="#hma" x="232.3" y="426.9"/><use href="#hma" x="233.8" y="425.9"/><use href="#hma" x="235.3" y="424.8"/><use href="#hma" x="236.9" y="423.8"/><use href="#hma" x="238.4" y="422.7"/><use href="#hma" x="239.9" y="421.6"/><use href="#hma" x="241.5" y="420.6"/><use href="#hma" x="243.0" y="419.5"/><use href="#hma" x="244.5" y="418.4"/><use href="#hma" x="246.0" y="417.3"/><use href="#hma" x="247.6" y="416.3"/><use href="#hma" x="249.1" y="415.2"/><use href="#hma" x="250.6" y="414.1"/><use href="#hma" x="252.2" y="413.1"/><use href="#hma" x="253.7" y="412.0"/><use href="#hma" x="255.3" y="411.0"/><use href="#hma" x="256.8" y="409.9"/><use href="#hma" x="258.3" y="408.8"/><use href="#hma" x="259.9" y="407.8"/><use href="#hma" x="261.4" y="406.7"/><use href="#hma" x="262.9" y="405.7"/><use href="#hma" x="264.5" y="404.6"/><use href="#hma" x="266.0" y="403.5"/><use href="#hma" x="267.5" y="402.5"/><use href="#hma" x="269.1" y="401.4"/><use href="#hma" x="270.6" y="400.3"/><use href="#hma" x="272.1" y="399.3"/><use href="#hma" x="273.7" y="398.2"/><use href="#hma" x="275.2" y="397.1"/><use href="#hma" x="276.7" y="396.0"/><use href="#hma" x="278.2" y="394.9"/><use href="#hma" x="279.7" y="393.8"/><use href="#hma" x="281.3" y="392.6"/><use href="#hma" x="282.8" y="391.4"/><use href="#hma" x="284.4" y="390.3"/><use href="#hma" x="285.9" y="389.2"/><use href="#hma" x="287.4" y="388.2"/><use href="#hma" x="288.7" y="387.5"/><use href="#hma" x="290.1" y="386.7"/><use href="#hma" x="291.4" y="386.1"/><use href="#hma" x="292.8" y="385.5"/><use href="#hma" x="294.2" y="384.9"/><use href="#hma" x="295.7" y="384.3"/><use href="#hma" x="297.1" y="383.8"/><use href="#hma" x="298.6" y="383.3"/><use href="#hma" x="300.0" y="382.8"/><use href="#hma" x="301.5" y="382.4"/><use href="#hma" x="303.0" y="382.0"/><use href="#hma" x="304.4" y="381.5"/><use href="#hma" x="305.9" y="381.1"/><use href="#hma" x="307.4" y="380.7"/><use href="#hma" x="308.9" y="380.4"/><use href="#hma" x="310.4" y="380.0"/><use href="#hma" x="311.9" y="379.6"/><use href="#hma" x="313.4" y="379.3"/><use href="#hma" x="314.8" y="379.0"/><use href="#hma" x="316.4" y="378.7"/><use href="#hma" x="317.9" y="378.4"/><use href="#hma" x="319.4" y="378.1"/><use href="#hma" x="320.9" y="377.8"/><use href="#hma" x="322.4" y="377.6"/><use href="#hma" x="323.9" y="377.3"/><use href="#hma" x="325.4" y="377.1"/><use href="#hma" x="326.9" y="376.8"/><use href="#hma" x="328.4" y="376.6"/><use href="#hma" x="329.9" y="376.3"/><use href="#hma" x="331.5" y="376.1"/><use href="#hma" x="333.0" y="375.8"/><use href="#hma" x="334.5" y="375.6"/><use href="#hma" x="336.0" y="375.3"/><use href="#hma" x="337.5" y="375.1"/><use href="#hma" x="339.0" y="374.9"/><use href="#hma" x="340.5" y="374.6"/><use href="#hma" x="342.1" y="374.4"/><use href="#hma" x="343.6" y="374.2"/><use href="#hma" x="345.1" y="373.9"/><use href="#hma" x="346.6" y="373.7"/><use href="#hma" x="348.1" y="373.5"/><use href="#hma" x="349.6" y="373.2"/><use href="#hma" x="351.2" y="373.0"/><use href="#hma" x="352.7" y="372.8"/><use href="#hma" x="354.2" y="372.5"/><use href="#hma" x="355.7" y="372.3"/><use href="#hma" x="357.2" y="372.1"/><use href="#hma" x="358.7" y="371.8"/><use href="#hma" x="360.2" y="371.6"/><use href="#hma" x="361.8" y="371.3"/><use href="#hma" x="363.3" y="371.1"/><use href="#hma" x="364.8" y="370.9"/><use href="#hma" x="366.3" y="370.6"/><use href="#hma" x="367.8" y="370.4"/><use href="#hma" x="369.3" y="370.1"/><use href="#hma" x="370.8" y="369.9"/><use href="#hma" x="372.4" y="369.6"/><use href="#hma" x="373.9" y="369.4"/><use href="#hma" x="375.4" y="369.1"/><use href="#hma" x="376.9" y="368.9"/><use href="#hma" x="378.4" y="368.6"/><use href="#hma" x="379.9" y="368.4"/><use href="#hma" x="381.4" y="368.2"/><use href="#hma" x="383.0" y="367.9"/><use href="#hma" x="384.5" y="367.7"/><use href="#hma" x="386.0" y="367.4"/><use href="#hma" x="387.5" y="367.2"/><use href="#hma" x="389.0" y="366.9"/><use href="#hma" x="390.5" y="366.7"/><use href="#hma" x="392.0" y="366.5"/><use href="#hma" x="393.5" y="366.2"/><use href="#hma" x="395.1" y="366.0"/><use href="#hma" x="396.6" y="365.7"/><use href="#hma" x="398.1" y="365.5"/><use href="#hma" x="399.6" y="365.3"/><use href="#hma" x="401.1" y="365.0"/><use href="#hma" x="402.6" y="364.8"/><use href="#hma" x="404.2" y="364.6"/><use href="#hma" x="405.7" y="364.3"/><use href="#hma" x="407.2" y="364.1"/><use href="#hma" x="408.7" y="363.9"/><use href="#hma" x="410.2" y="363.7"/><use href="#hma" x="411.7" y="363.5"/><use href="#hma" x="413.3" y="363.2"/><use href="#hma" x="414.8" y="363.0"/><use href="#hma" x="416.3" y="362.8"/><use href="#hma" x="417.8" y="362.6"/><use href="#hma" x="419.3" y="362.4"/><use href="#hma" x="420.9" y="362.2"/><use href="#hma" x="422.4" y="362.0"/><use href="#hma" x="423.9" y="361.8"/><use href="#hma" x="425.4" y="361.6"/><use href="#hma" x="426.9" y="361.4"/><use href="#hma" x="428.5" y="361.2"/><use href="#hma" x="430.0" y="361.0"/><use href="#hma" x="431.5" y="360.8"/><use href="#hma" x="433.0" y="360.6"/><use href="#hma" x="434.5" y="360.4"/><use href="#hma" x="436.1" y="360.2"/><use href="#hma" x="437.6" y="360.0"/><use href="#hma" x="439.1" y="359.8"/><use href="#hma" x="440.6" y="359.6"/><use href="#hma" x="442.1" y="359.4"/><use href="#hma" x="443.7" y="359.2"/><use href="#hma" x="445.2" y="359.0"/><use href="#hma" x="446.7" y="358.8"/><use href="#hma" x="448.2" y="358.6"/><use href="#hma" x="449.7" y="358.4"/><use href="#hma" x="451.3" y="358.1"/><use href="#hma" x="452.8" y="357.9"/><use href="#hma" x="454.3" y="357.7"/><use href="#hma" x="455.8" y="357.5"/><use href="#hma" x="457.3" y="357.3"/><use href="#hma" x="458.9" y="357.1"/><use href="#hma" x="460.4" y="356.9"/><use href="#hma" x="461.9" y="356.7"/><use href="#hma" x="463.4" y="356.5"/><use href="#hma" x="464.9" y="356.3"/><use href="#hma" x="466.4" y="356.1"/><use href="#hma" x="468.0" y="355.8"/><use href="#hma" x="469.5" y="355.6"/><use href="#hma" x="471.0" y="355.4"/><use href="#hma" x="472.5" y="355.2"/><use href="#hma" x="474.0" y="355.0"/><use href="#hma" x="475.5" y="354.7"/><use href="#hma" x="477.1" y="354.5"/><use href="#hma" x="478.6" y="354.3"/><use href="#hma" x="480.1" y="354.0"/><use href="#hma" x="481.6" y="353.8"/><use href="#hma" x="483.1" y="353.5"/><use href="#hma" x="484.6" y="353.3"/><use href="#hma" x="486.1" y="353.0"/><use href="#hma" x="487.7" y="352.8"/><use href="#hma" x="489.2" y="352.5"/><use href="#hma" x="490.7" y="352.3"/><use href="#hma" x="492.2" y="352.0"/><use href="#hma" x="493.7" y="351.8"/><use href="#hma" x="495.2" y="351.5"/><use href="#hma" x="496.7" y="351.2"/><use href="#hma" x="498.2" y="350.9"/><use href="#hma" x="499.7" y="350.7"/><use href="#hma" x="501.2" y="350.4"/><use href="#hma" x="502.8" y="350.1"/><use href="#hma" x="504.3" y="349.8"/><use href="#hma" x="505.8" y="349.5"/><use href="#hma" x="507.3" y="349.2"/><use href="#hma" x="508.8" y="348.9"/><use href="#hma" x="510.3" y="348.6"/><use href="#hma" x="511.8" y="348.4"/><use href="#hma" x="513.3" y="348.1"/><use href="#hma" x="514.8" y="347.8"/><use href="#hma" x="516.3" y="347.5"/><use href="#hma" x="517.8" y="347.2"/><use href="#hma" x="519.3" y="346.9"/><use href="#hma" x="520.8" y="346.6"/><use href="#hma" x="522.3" y="346.3"/><use href="#hma" x="523.8" y="346.0"/><use href="#hma" x="525.3" y="345.7"/><use href="#hma" x="526.8" y="345.4"/><use href="#hma" x="528.3" y="345.1"/><use href="#hma" x="529.8" y="344.8"/><use href="#hma" x="531.3" y="344.5"/><use href="#hma" x="532.8" y="344.2"/><use href="#hma" x="534.4" y="343.9"/><use href="#hma" x="535.9" y="343.6"/><use href="#hma" x="537.4" y="343.3"/><use href="#hma" x="538.9" y="343.0"/><use href="#hma" x="540.4" y="342.8"/><use href="#hma" x="541.9" y="342.5"/><use href="#hma" x="543.4" y="342.2"/><use href="#hma" x="544.9" y="341.9"/><use href="#hma" x="546.4" y="341.6"/><use href="#hma" x="547.9" y="341.4"/><use href="#hma" x="549.4" y="341.1"/><use href="#hma" x="550.9" y="340.8"/><use href="#hma" x="552.4" y="340.6"/><use href="#hma" x="554.0" y="340.3"/><use href="#hma" x="555.5" y="340.1"/><use href="#hma" x="557.0" y="339.8"/><use href="#hma" x="558.5" y="339.6"/><use href="#hma" x="560.0" y="339.3"/><use href="#hma" x="561.5" y="339.1"/><use href="#hma" x="563.0" y="338.8"/><use href="#hma" x="564.6" y="338.6"/><use href="#hma" x="566.1" y="338.4"/><use href="#hma" x="567.6" y="338.2"/><use href="#hma" x="569.1" y="338.0"/><use href="#hma" x="570.6" y="337.8"/><use href="#hma" x="572.1" y="337.5"/><use href="#hma" x="573.7" y="337.3"/><use href="#hma" x="575.2" y="337.1"/><use href="#hma" x="576.7" y="336.9"/><use href="#hma" x="578.2" y="336.8"/><use href="#hma" x="579.8" y="336.6"/><use href="#hma" x="581.3" y="336.4"/><use href="#hma" x="582.8" y="336.2"/><use href="#hma" x="584.3" y="336.0"/><use href="#hma" x="585.8" y="335.8"/><use href="#hma" x="587.4" y="335.7"/><use href="#hma" x="588.9" y="335.5"/><use href="#hma" x="590.4" y="335.3"/><use href="#hma" x="591.9" y="335.1"/><use href="#hma" x="593.5" y="335.0"/><use href="#hma" x="595.0" y="334.8"/><use href="#hma" x="596.5" y="334.6"/><use href="#hma" x="598.0" y="334.5"/><use href="#hma" x="599.6" y="334.3"/><use href="#hma" x="601.1" y="334.1"/><use href="#hma" x="602.6" y="333.9"/><use href="#hma" x="604.1" y="333.8"/><use href="#hma" x="605.6" y="333.6"/><use href="#hma" x="607.2" y="333.4"/><use href="#hma" x="608.7" y="333.3"/><use href="#hma" x="610.2" y="333.1"/><use href="#hma" x="611.7" y="332.9"/><use href="#hma" x="613.3" y="332.7"/><use href="#hma" x="614.8" y="332.6"/><use href="#hma" x="616.3" y="332.4"/><use href="#hma" x="617.8" y="332.2"/><use href="#hma" x="619.4" y="332.0"/><use href="#hma" x="620.9" y="331.8"/><use href="#hma" x="622.4" y="331.6"/><use href="#hma" x="623.9" y="331.4"/><use href="#hma" x="625.4" y="331.2"/><use href="#hma" x="627.0" y="331.0"/><use href="#hma" x="628.5" y="330.8"/><use href="#hma" x="630.0" y="330.6"/><use href="#hma" x="631.5" y="330.4"/><use href="#hma" x="633.0" y="330.2"/><use href="#hma" x="634.6" y="330.0"/><use href="#hma" x="636.1" y="329.8"/><use href="#hma" x="637.6" y="329.6"/><use href="#hma" x="639.1" y="329.4"/><use href="#hma" x="640.6" y="329.2"/><use href="#hma" x="642.2" y="328.9"/><use href="#hma" x="643.7" y="328.7"/><use href="#hma" x="645.2" y="328.5"/><use href="#hma" x="646.7" y="328.3"/><use href="#hma" x="648.2" y="328.1"/><use href="#hma" x="649.7" y="327.9"/><use href="#hma" x="651.3" y="327.7"/><use href="#hma" x="652.8" y="327.4"/><use href="#hma" x="654.3" y="327.2"/><use href="#hma" x="655.8" y="327.0"/><use href="#hma" x="657.3" y="326.8"/><use href="#hma" x="658.8" y="326.6"/><use href="#hma" x="660.4" y="326.3"/><use href="#hma" x="661.9" y="326.1"/><use href="#hma" x="663.4" y="325.9"/><use href="#hma" x="664.9" y="325.7"/><use href="#hma" x="666.4" y="325.5"/><use href="#hma" x="668.0" y="325.3"/><use href="#hma" x="669.5" y="325.0"/><use href="#hma" x="671.0" y="324.8"/><use href="#hma" x="672.5" y="324.6"/><use href="#hma" x="674.0" y="324.4"/><use href="#hma" x="675.5" y="324.2"/><use href="#hma" x="677.1" y="324.0"/><use href="#hma" x="678.6" y="323.7"/><use href="#hma" x="680.1" y="323.5"/><use href="#hma" x="681.6" y="323.3"/><use href="#hma" x="683.1" y="323.1"/><use href="#hma" x="684.7" y="322.9"/><use href="#hma" x="686.2" y="322.7"/><use href="#hma" x="687.7" y="322.5"/><use href="#hma" x="689.2" y="322.3"/><use href="#hma" x="690.7" y="322.1"/><use href="#hma" x="692.3" y="321.9"/><use href="#hma" x="693.8" y="321.7"/><use href="#hma" x="695.3" y="321.6"/><use href="#hma" x="696.8" y="321.4"/><use href="#hma" x="698.4" y="321.2"/><use href="#hma" x="699.9" y="321.0"/><use href="#hma" x="701.4" y="320.9"/><use href="#hma" x="702.9" y="320.7"/><use href="#hma" x="704.5" y="320.6"/><use href="#hma" x="706.0" y="320.4"/><use href="#hma" x="707.5" y="320.3"/><use href="#hma" x="709.0" y="320.2"/><use href="#hma" x="710.6" y="320.0"/><use href="#hma" x="712.1" y="319.9"/><use href="#hma" x="713.6" y="319.8"/></g>
<g style="color:#ff2228"><use href="#hma" x="139.0" y="459.6"/><use href="#hma" x="140.5" y="459.6"/><use href="#hma" x="142.0" y="459.6"/><use href="#hma" x="143.6" y="459.6"/><use href="#hma" x="145.1" y="459.6"/><use href="#hma" x="146.7" y="459.6"/><use href="#hma" x="148.2" y="459.6"/><use href="#hma" x="149.7" y="459.6"/><use href="#hma" x="151.3" y="459.6"/><use href="#hma" x="152.8" y="459.6"/><use href="#hma" x="154.3" y="459.6"/><use href="#hma" x="155.9" y="459.6"/><use href="#hma" x="157.4" y="459.6"/><use href="#hma" x="158.9" y="459.6"/><use href="#hma" x="160.5" y="459.6"/><use href="#hma" x="162.0" y="459.6"/><use href="#hma" x="163.5" y="459.6"/><use href="#hma" x="165.1" y="459.6"/><use href="#hma" x="166.6" y="459.6"/><use href="#hma" x="168.1" y="459.6"/><use href="#hma" x="169.7" y="459.6"/><use href="#hma" x="171.2" y="459.6"/><use href="#hma" x="172.7" y="459.6"/><use href="#hma" x="174.3" y="459.6"/><use href="#hma" x="175.8" y="459.6"/><use href="#hma" x="177.3" y="459.6"/><use href="#hma" x="178.9" y="459.6"/><use href="#hma" x="180.4" y="459.6"/><use href="#hma" x="181.9" y="459.6"/><use href="#hma" x="183.5" y="459.6"/><use href="#hma" x="185.0" y="459.6"/><use href="#hma" x="186.5" y="459.6"/><use href="#hma" x="188.1" y="459.6"/><use href="#hma" x="189.6" y="459.6"/><use href="#hma" x="191.1" y="459.6"/><use href="#hma" x="192.7" y="459.6"/><use href="#hma" x="194.2" y="459.6"/><use href="#hma" x="195.7" y="459.6"/><use href="#hma" x="197.3" y="459.6"/><use href="#hma" x="198.8" y="459.6"/><use href="#hma" x="200.3" y="459.6"/><use href="#hma" x="201.9" y="459.5"/><use href="#hma" x="203.4" y="459.5"/><use href="#hma" x="204.9" y="459.5"/><use href="#hma" x="206.5" y="459.5"/><use href="#hma" x="208.0" y="459.5"/><use href="#hma" x="209.5" y="459.5"/><use href="#hma" x="211.1" y="459.5"/><use href="#hma" x="212.6" y="459.5"/><use href="#hma" x="214.1" y="459.5"/><use href="#hma" x="215.7" y="459.5"/><use href="#hma" x="217.2" y="459.5"/><use href="#hma" x="218.7" y="459.5"/><use href="#hma" x="220.3" y="459.5"/><use href="#hma" x="221.8" y="459.5"/><use href="#hma" x="223.3" y="459.5"/><use href="#hma" x="224.9" y="459.5"/><use href="#hma" x="226.4" y="459.5"/><use href="#hma" x="227.9" y="459.5"/><use href="#hma" x="229.5" y="459.5"/><use href="#hma" x="231.0" y="459.5"/><use href="#hma" x="232.5" y="459.5"/><use href="#hma" x="234.1" y="459.5"/><use href="#hma" x="235.6" y="459.5"/><use href="#hma" x="237.1" y="459.5"/><use href="#hma" x="238.7" y="459.5"/><use href="#hma" x="240.2" y="459.5"/><use href="#hma" x="241.7" y="459.5"/><use href="#hma" x="243.3" y="459.5"/><use href="#hma" x="244.8" y="459.5"/><use href="#hma" x="246.3" y="459.5"/><use href="#hma" x="247.9" y="459.5"/><use href="#hma" x="249.4" y="459.4"/><use href="#hma" x="250.9" y="459.4"/><use href="#hma" x="252.5" y="459.4"/><use href="#hma" x="254.0" y="459.4"/><use href="#hma" x="255.5" y="459.4"/><use href="#hma" x="257.1" y="459.4"/><use href="#hma" x="258.6" y="459.4"/><use href="#hma" x="260.1" y="459.4"/><use href="#hma" x="261.7" y="459.4"/><use href="#hma" x="263.2" y="459.4"/><use href="#hma" x="264.7" y="459.4"/><use href="#hma" x="266.3" y="459.4"/><use href="#hma" x="267.8" y="459.4"/><use href="#hma" x="269.3" y="459.3"/><use href="#hma" x="270.9" y="459.3"/><use href="#hma" x="272.4" y="459.3"/><use href="#hma" x="273.9" y="459.3"/><use href="#hma" x="275.5" y="459.3"/><use href="#hma" x="277.0" y="459.3"/><use href="#hma" x="278.5" y="459.2"/><use href="#hma" x="280.1" y="459.2"/><use href="#hma" x="281.6" y="459.2"/><use href="#hma" x="283.1" y="459.1"/><use href="#hma" x="284.7" y="459.0"/><use href="#hma" x="286.1" y="458.8"/><use href="#hma" x="287.6" y="458.5"/><use href="#hma" x="289.1" y="458.0"/><use href="#hma" x="290.5" y="457.3"/><use href="#hma" x="292.0" y="456.2"/><use href="#hma" x="293.5" y="455.0"/><use href="#hma" x="295.0" y="453.6"/><use href="#hma" x="296.6" y="452.1"/><use href="#hma" x="298.1" y="450.4"/><use href="#hma" x="299.6" y="448.6"/><use href="#hma" x="301.1" y="446.8"/><use href="#hma" x="302.6" y="444.7"/><use href="#hma" x="304.1" y="442.5"/><use href="#hma" x="305.7" y="440.2"/><use href="#hma" x="307.2" y="437.9"/><use href="#hma" x="308.7" y="435.7"/><use href="#hma" x="310.2" y="433.6"/><use href="#hma" x="311.8" y="431.7"/><use href="#hma" x="313.3" y="430.0"/><use href="#hma" x="314.8" y="428.4"/><use href="#hma" x="316.3" y="427.1"/><use href="#hma" x="317.9" y="426.0"/><use href="#hma" x="319.2" y="425.2"/><use href="#hma" x="320.6" y="424.5"/><use href="#hma" x="322.0" y="424.0"/><use href="#hma" x="323.4" y="423.5"/><use href="#hma" x="324.9" y="423.2"/><use href="#hma" x="326.4" y="422.9"/><use href="#hma" x="327.9" y="422.7"/><use href="#hma" x="329.5" y="422.5"/><use href="#hma" x="331.0" y="422.4"/><use href="#hma" x="332.5" y="422.3"/><use href="#hma" x="334.1" y="422.1"/><use href="#hma" x="335.6" y="422.0"/><use href="#hma" x="337.1" y="421.9"/><use href="#hma" x="338.6" y="421.7"/><use href="#hma" x="340.2" y="421.6"/><use href="#hma" x="341.7" y="421.4"/><use href="#hma" x="343.2" y="421.3"/><use href="#hma" x="344.7" y="421.1"/><use href="#hma" x="346.3" y="421.0"/><use href="#hma" x="347.8" y="420.9"/><use href="#hma" x="349.3" y="420.7"/><use href="#hma" x="350.8" y="420.6"/><use href="#hma" x="352.4" y="420.4"/><use href="#hma" x="353.9" y="420.3"/><use href="#hma" x="355.4" y="420.1"/><use href="#hma" x="357.0" y="420.0"/><use href="#hma" x="358.5" y="419.9"/><use href="#hma" x="360.0" y="419.7"/><use href="#hma" x="361.5" y="419.6"/><use href="#hma" x="363.1" y="419.4"/><use href="#hma" x="364.6" y="419.3"/><use href="#hma" x="366.1" y="419.2"/><use href="#hma" x="367.6" y="419.0"/><use href="#hma" x="369.2" y="418.9"/><use href="#hma" x="370.7" y="418.7"/><use href="#hma" x="372.2" y="418.6"/><use href="#hma" x="373.7" y="418.5"/><use href="#hma" x="375.3" y="418.3"/><use href="#hma" x="376.8" y="418.2"/><use href="#hma" x="378.3" y="418.1"/><use href="#hma" x="379.9" y="417.9"/><use href="#hma" x="381.4" y="417.8"/><use href="#hma" x="382.9" y="417.7"/><use href="#hma" x="384.4" y="417.6"/></g>
</g>
<rect x="110.5" y="62" width="601.5" height="407.3" fill="none" stroke="#000" stroke-width="2.6"/>
<path d="M110.5 469.3V462.3M247.2 469.3V462.3M383.91 469.3V462.3M520.61 469.3V462.3M657.32 469.3V462.3M178.85 469.3V465.8M315.56 469.3V465.8M452.26 469.3V465.8M588.97 469.3V465.8M110.5 459.37H117.5M110.5 360.02H117.5M110.5 260.68H117.5M110.5 161.34H117.5M110.5 62H117.5M110.5 409.7H114M110.5 310.35H114M110.5 211.01H114M110.5 111.67H114" stroke="#000" stroke-width="2.4" fill="none"/>
<text x="103" y="468.67" text-anchor="end" fill="#231815" style="font-size:27.5px;letter-spacing:0.8px;" font-family='"Liberation Sans", sans-serif' >0</text>
<text x="103" y="369.32" text-anchor="end" fill="#231815" style="font-size:27.5px;letter-spacing:0.8px;" font-family='"Liberation Sans", sans-serif' >10</text>
<text x="103" y="269.98" text-anchor="end" fill="#231815" style="font-size:27.5px;letter-spacing:0.8px;" font-family='"Liberation Sans", sans-serif' >20</text>
<text x="103" y="170.64" text-anchor="end" fill="#231815" style="font-size:27.5px;letter-spacing:0.8px;" font-family='"Liberation Sans", sans-serif' >30</text>
<text x="103" y="71.3" text-anchor="end" fill="#231815" style="font-size:27.5px;letter-spacing:0.8px;" font-family='"Liberation Sans", sans-serif' >40</text>
<text x="111" y="499.2" text-anchor="middle" fill="#231815" style="font-size:27.5px;letter-spacing:0.8px;" font-family='"Liberation Sans", sans-serif' >0</text>
<text x="247.7" y="499.2" text-anchor="middle" fill="#231815" style="font-size:27.5px;letter-spacing:0.8px;" font-family='"Liberation Sans", sans-serif' >50</text>
<text x="384.41" y="499.2" text-anchor="middle" fill="#231815" style="font-size:27.5px;letter-spacing:0.8px;" font-family='"Liberation Sans", sans-serif' >100</text>
<text x="521.11" y="499.2" text-anchor="middle" fill="#231815" style="font-size:27.5px;letter-spacing:0.8px;" font-family='"Liberation Sans", sans-serif' >150</text>
<text x="657.82" y="499.2" text-anchor="middle" fill="#231815" style="font-size:27.5px;letter-spacing:0.8px;" font-family='"Liberation Sans", sans-serif' >200</text>
<text transform="translate(58.9 310.4) rotate(-90)" y="0" fill="#231815" style="font-size:32px"><tspan x="0.0" font-style="italic">R</tspan><tspan x="32.7">(</tspan><tspan x="41.2" font-family="Liberation Serif">Ω</tspan><tspan x="66.9">)</tspan></text>
<text y="546.8" fill="#231815" style="font-size:32px"><tspan x="376.8" font-style="italic">T</tspan><tspan x="406.0">(</tspan><tspan x="413.1">K</tspan><tspan x="441.0">)</tspan></text>
<path d="M142.3 98.1H190.8" stroke="#bcb824" stroke-width="2"/>
<use href="#hm" x="166.3" y="98.1" style="color:#bcb824"/>
<text x="197.5" y="105.4" fill="#000" style="font-size:21px" textLength="76" lengthAdjust="spacingAndGlyphs">6.1 GPa</text>
<path d="M142.3 123.5H190.8" stroke="#eac028" stroke-width="2"/>
<use href="#hm" x="166.3" y="123.5" style="color:#eac028"/>
<text x="197.5" y="130.8" fill="#000" style="font-size:21px" textLength="76" lengthAdjust="spacingAndGlyphs">9.7 GPa</text>
<path d="M142.3 149.0H190.8" stroke="#f07018" stroke-width="2"/>
<use href="#hm" x="166.3" y="149.0" style="color:#f07018"/>
<text x="197.5" y="156.3" fill="#000" style="font-size:21px" textLength="84" lengthAdjust="spacingAndGlyphs">15.3 GPa</text>
<path d="M142.3 174.4H190.8" stroke="#ff2228" stroke-width="2"/>
<use href="#hm" x="166.3" y="174.4" style="color:#ff2228"/>
<text x="197.5" y="181.8" fill="#000" style="font-size:21px" textLength="84" lengthAdjust="spacingAndGlyphs">19.0 GPa</text>
<text x="329.7" y="103.6" fill="#000" style="font-size:25.1px">La<tspan dx="0.2" style="font-size:13.1px;font-weight:bold">3</tspan><tspan dx="1.5">Ni</tspan><tspan dx="0.2" style="font-size:13.1px;font-weight:bold">2</tspan><tspan dx="0.9">O</tspan><tspan dx="0.9" style="font-size:13.1px;font-weight:bold">7</tspan></text>
<text x="329.7" y="134" fill="#000" style="font-size:25.1px">Orthorhombic</text>
<text x="329.7" y="162.7" fill="#000" style="font-size:25.1px">PTM:<tspan font-style="italic">He</tspan></text>
<g clip-path="url(#clipB)">
<path d="M925.8 458.1L926.9 458.1L928.4 458.1L930.1 458.1L931.9 458.1L933.8 458.1L935.8 458.1L937.8 458.1L939.8 458.1L941.8 458.1L943.8 458.1L945.8 458.1L947.8 458.1L949.8 458.1L951.8 458.1L953.8 458.1L955.8 458.1L957.8 458.1L959.8 458.0L961.8 458.0L963.8 458.0L965.8 458.0L967.8 458.0L969.8 458.0L971.8 458.0L973.8 458.0L975.8 458.0L977.8 458.0L979.8 458.0L981.8 458.0L983.8 458.0L985.8 458.0L987.8 458.0L989.8 458.0L991.8 458.0L993.8 458.0L995.8 458.0L997.8 458.0L999.8 458.0L1001.8 458.0L1003.8 458.0L1005.8 458.0L1007.8 458.0L1009.8 458.0L1011.8 458.0L1013.8 458.0L1015.8 458.0L1017.8 458.0L1019.8 458.0L1021.8 458.0L1023.8 458.0L1025.8 458.0L1027.8 458.0L1029.8 458.0L1031.8 458.0L1033.8 458.0L1035.8 458.0L1037.8 458.0L1039.8 458.0L1041.8 458.0L1043.8 458.0L1045.8 458.0L1047.8 458.0L1049.8 458.0L1051.8 458.0L1053.8 458.0L1055.8 458.0L1057.8 457.9L1059.8 457.9L1061.8 457.9L1063.8 457.8L1065.8 457.7L1067.8 457.5L1069.8 457.3L1071.7 457.0L1073.7 456.6L1075.5 456.1L1077.4 455.5L1079.1 454.6L1080.7 453.6L1082.2 452.4L1083.6 451.1L1084.8 449.6L1085.9 448.0L1086.8 446.2L1087.6 444.4L1088.2 442.6L1088.8 440.7L1089.3 438.8L1089.7 436.8L1090.0 434.8L1090.4 432.9L1090.7 430.9L1091.0 428.9L1091.3 427.0L1091.6 425.0L1091.9 423.0L1092.2 421.0L1092.5 419.0L1092.7 417.1L1093.0 415.1L1093.3 413.1L1093.5 411.1L1093.8 409.1L1094.0 407.1L1094.3 405.2L1094.5 403.2L1094.8 401.2L1095.0 399.2L1095.3 397.2L1095.5 395.2L1095.7 393.2L1095.9 391.3L1096.1 389.3L1096.4 387.3L1096.6 385.3L1096.8 383.3L1097.0 381.3L1097.2 379.3L1097.4 377.3L1097.6 375.3L1097.7 373.3L1097.9 371.4L1098.1 369.4L1098.3 367.4L1098.5 365.4L1098.7 363.4L1098.9 361.4L1099.1 359.4L1099.3 357.4L1099.4 355.4L1099.6 353.4L1099.8 351.4L1100.0 349.5L1100.2 347.5L1100.4 345.5L1100.6 343.5L1100.8 341.5L1100.9 339.5L1101.1 337.5L1101.3 335.5L1101.5 333.5L1101.7 331.5L1101.9 329.5L1102.0 327.5L1102.2 325.6L1102.4 323.6L1102.6 321.6L1102.8 319.6L1103.1 317.6L1103.3 315.6L1103.5 313.6L1103.7 311.6L1104.0 309.7L1104.2 307.7L1104.5 305.7L1104.8 303.7L1105.1 301.7L1105.4 299.8L1105.8 297.8L1106.1 295.8L1106.5 293.9L1106.9 291.9L1107.4 290.0L1107.9 288.0L1108.4 286.1L1109.0 284.2L1109.7 282.3L1110.4 280.4L1111.1 278.6L1111.9 276.8L1112.7 274.9L1113.6 273.2L1114.6 271.4L1115.6 269.7L1116.6 268.0L1117.8 266.4L1119.0 264.8L1120.3 263.3L1121.7 261.9L1123.1 260.5L1124.6 259.2L1126.1 257.9L1127.7 256.7L1129.3 255.5L1130.9 254.3L1132.6 253.2L1134.2 252.1L1135.9 251.0L1137.6 250.0L1139.3 248.9L1141.1 247.9L1142.8 247.0L1144.6 246.0L1146.4 245.1L1148.2 244.2L1150.0 243.4L1151.8 242.6L1153.6 241.8L1155.5 241.0L1157.3 240.2L1159.1 239.4L1161.0 238.6L1162.8 237.8L1164.6 237.0L1166.5 236.2L1168.3 235.4L1170.1 234.6L1171.9 233.8L1173.8 232.9L1175.6 232.1L1177.4 231.3L1179.2 230.5L1181.0 229.6L1182.9 228.8L1184.7 228.0L1186.5 227.2L1188.3 226.3L1190.2 225.5L1192.0 224.7L1193.8 223.8L1195.6 223.0L1197.4 222.2L1199.2 221.3L1201.1 220.5L1202.9 219.7L1204.7 218.8L1206.5 218.0L1208.3 217.1L1210.1 216.3L1211.9 215.5L1213.8 214.6L1215.6 213.8L1217.4 212.9L1219.2 212.1L1221.0 211.2L1222.8 210.4L1224.6 209.5L1226.4 208.7L1228.2 207.8L1230.1 207.0L1231.9 206.1L1233.7 205.3L1235.5 204.4L1237.3 203.5L1239.1 202.7L1240.9 201.8L1242.7 201.0L1244.5 200.1L1246.3 199.2L1248.1 198.4L1249.9 197.5L1251.7 196.6L1253.5 195.8L1255.3 194.9L1257.1 194.0L1258.9 193.2L1260.7 192.3L1262.5 191.4L1264.3 190.6L1266.1 189.7L1267.9 188.8L1269.7 187.9L1271.5 187.1L1273.3 186.2L1275.1 185.3L1276.9 184.4L1278.7 183.5L1280.5 182.7L1282.3 181.8L1284.1 180.9L1285.9 180.0L1287.7 179.1L1289.5 178.2L1291.3 177.4L1293.1 176.5L1294.9 175.6L1296.6 174.7L1298.4 173.8L1300.2 172.9L1302.0 172.0L1303.8 171.1L1305.6 170.2L1307.4 169.3L1309.2 168.4L1311.0 167.5L1312.7 166.6L1314.5 165.7L1316.3 164.8L1318.1 163.9L1319.9 163.0L1321.7 162.1L1323.5 161.2L1325.2 160.3L1327.0 159.4L1328.8 158.5L1330.6 157.6L1332.4 156.7L1334.1 155.8L1335.9 154.9L1337.7 153.9L1339.5 153.0L1341.3 152.1L1343.0 151.2L1344.8 150.3L1346.6 149.4L1348.4 148.4L1350.1 147.5L1351.9 146.6L1353.7 145.7L1355.5 144.8L1357.2 143.8L1359.0 142.9L1360.8 142.0L1362.6 141.1L1364.3 140.1L1366.1 139.2L1367.9 138.3L1369.7 137.4L1371.4 136.4L1373.2 135.5L1375.0 134.6L1376.7 133.6L1378.5 132.7L1380.3 131.8L1382.0 130.8L1383.8 129.9L1385.6 128.9L1387.3 128.0L1389.1 127.1L1390.9 126.1L1392.6 125.2L1394.4 124.2L1396.2 123.3L1397.9 122.4L1399.7 121.4L1401.4 120.5L1403.2 119.5L1405.0 118.6L1406.7 117.6L1408.5 116.7L1410.2 115.7L1412.0 114.8L1413.8 113.8L1415.5 112.9L1417.3 111.9L1419.0 110.9L1420.8 110.0L1422.5 109.0L1424.3 108.1L1426.1 107.1L1427.8 106.2L1429.6 105.2L1431.3 104.2L1433.1 103.3L1434.8 102.3L1436.6 101.3L1438.3 100.4L1440.1 99.4L1441.8 98.4L1443.6 97.5L1445.3 96.5L1447.1 95.5L1448.8 94.6L1450.6 93.6L1452.3 92.6L1454.1 91.6L1455.8 90.7L1457.6 89.7L1459.3 88.7L1461.1 87.7L1462.8 86.8L1464.5 85.8L1466.3 84.8L1468.0 83.8L1469.8 82.8L1471.5 81.9L1473.3 80.9L1475.0 79.9L1476.7 78.9L1478.5 77.9L1480.2 76.9L1482.0 75.9L1483.7 75.0L1485.4 74.0L1487.2 73.0L1488.9 72.0L1490.6 71.0L1492.4 70.0L1494.1 69.0L1495.7 68.1L1497.2 67.2L1498.6 66.4L1499.7 65.8L1500.2 65.5" fill="none" stroke="#ff0000" stroke-width="13" stroke-linecap="round" stroke-linejoin="round"/>
<path d="M925.8 458.1L926.9 458.1L928.4 458.1L930.1 458.1L931.9 458.1L933.8 458.1L935.8 458.1L937.8 458.1L939.8 458.1L941.8 458.1L943.8 458.1L945.8 458.1L947.8 458.1L949.8 458.1L951.8 458.1L953.8 458.1L955.8 458.1L957.8 458.1L959.8 458.0L961.8 458.0L963.8 458.0L965.8 458.0L967.8 458.0L969.8 458.0L971.8 458.0L973.8 458.0L975.8 458.0L977.8 458.0L979.8 458.0L981.8 458.0L983.8 458.0L985.8 458.0L987.8 458.0L989.8 458.0L991.8 458.0L993.8 458.0L995.8 458.0L997.8 458.0L999.8 458.0L1001.8 458.0L1003.8 458.0L1005.8 458.0L1007.8 458.0L1009.8 458.0L1011.8 458.0L1013.8 458.0L1015.8 458.0L1017.8 458.0L1019.8 458.0L1021.8 458.1L1023.8 458.1L1025.8 458.1L1027.8 458.1L1029.8 458.1L1031.8 458.1L1033.8 458.1L1035.8 458.1L1037.8 458.1L1039.8 458.1L1041.8 458.1L1043.8 458.1L1045.8 458.0L1047.8 458.0L1049.8 458.0L1051.8 457.9L1053.8 457.8L1055.8 457.8L1057.8 457.6L1059.8 457.5L1061.8 457.3L1063.7 457.0L1065.7 456.7L1067.6 456.3L1069.6 455.8L1071.4 455.2L1073.3 454.4L1075.0 453.6L1076.7 452.6L1078.3 451.4L1079.8 450.2L1081.2 448.8L1082.5 447.4L1083.7 445.9L1084.7 444.2L1085.6 442.5L1086.3 440.7L1086.9 438.9L1087.4 437.0L1087.8 435.0L1088.1 433.1L1088.5 431.1L1088.8 429.1L1089.1 427.1L1089.3 425.2L1089.6 423.2L1089.9 421.2L1090.1 419.2L1090.4 417.2L1090.6 415.2L1090.9 413.3L1091.1 411.3L1091.4 409.3L1091.6 407.3L1091.9 405.3L1092.1 403.3L1092.4 401.4L1092.6 399.4L1092.9 397.4L1093.1 395.4L1093.3 393.4L1093.6 391.4L1093.8 389.4L1094.0 387.5L1094.3 385.5L1094.5 383.5L1094.7 381.5L1095.0 379.5L1095.2 377.5L1095.4 375.5L1095.6 373.5L1095.9 371.6L1096.1 369.6L1096.3 367.6L1096.5 365.6L1096.7 363.6L1096.9 361.6L1097.2 359.6L1097.4 357.6L1097.6 355.6L1097.8 353.7L1098.0 351.7L1098.2 349.7L1098.4 347.7L1098.6 345.7L1098.8 343.7L1099.0 341.7L1099.1 339.7L1099.3 337.7L1099.5 335.7L1099.7 333.8L1099.9 331.8L1100.0 329.8L1100.2 327.8L1100.4 325.8L1100.6 323.8L1100.8 321.8L1101.0 319.8L1101.2 317.8L1101.5 315.8L1101.7 313.9L1102.0 311.9L1102.3 309.9L1102.6 307.9L1103.0 306.0L1103.4 304.0L1103.9 302.1L1104.4 300.2L1105.0 298.3L1105.7 296.4L1106.5 294.6L1107.4 292.8L1108.3 291.1L1109.4 289.4L1110.5 287.7L1111.6 286.1L1112.9 284.6L1114.2 283.1L1115.6 281.6L1117.0 280.3L1118.5 279.0L1120.1 277.8L1121.7 276.6L1123.4 275.6L1125.1 274.6L1126.9 273.6L1128.7 272.8L1130.5 271.9L1132.3 271.1L1134.2 270.4L1136.0 269.7L1137.9 269.0L1139.8 268.3L1141.7 267.6L1143.5 266.9L1145.4 266.2L1147.3 265.5L1149.1 264.7L1151.0 264.0L1152.9 263.3L1154.7 262.5L1156.6 261.8L1158.4 261.0L1160.3 260.3L1162.1 259.5L1164.0 258.8L1165.9 258.0L1167.7 257.3L1169.6 256.5L1171.4 255.8L1173.3 255.0L1175.1 254.3L1177.0 253.5L1178.8 252.7L1180.7 252.0L1182.5 251.2L1184.4 250.5L1186.2 249.7L1188.1 248.9L1189.9 248.2L1191.8 247.4L1193.6 246.6L1195.4 245.9L1197.3 245.1L1199.1 244.3L1201.0 243.5L1202.8 242.8L1204.7 242.0L1206.5 241.2L1208.3 240.4L1210.2 239.6L1212.0 238.9L1213.9 238.1L1215.7 237.3L1217.5 236.5L1219.4 235.7L1221.2 234.9L1223.1 234.1L1224.9 233.3L1226.7 232.5L1228.6 231.7L1230.4 231.0L1232.2 230.2L1234.1 229.4L1235.9 228.6L1237.7 227.8L1239.6 227.0L1241.4 226.2L1243.2 225.3L1245.1 224.5L1246.9 223.7L1248.7 222.9L1250.5 222.1L1252.4 221.3L1254.2 220.5L1256.0 219.7L1257.9 218.9L1259.7 218.0L1261.5 217.2L1263.3 216.4L1265.2 215.6L1267.0 214.8L1268.8 213.9L1270.6 213.1L1272.4 212.3L1274.3 211.5L1276.1 210.6L1277.9 209.8L1279.7 209.0L1281.5 208.2L1283.4 207.3L1285.2 206.5L1287.0 205.7L1288.8 204.8L1290.6 204.0L1292.5 203.1L1294.3 202.3L1296.1 201.5L1297.9 200.6L1299.7 199.8L1301.5 198.9L1303.3 198.1L1305.1 197.2L1307.0 196.4L1308.8 195.5L1310.6 194.7L1312.4 193.8L1314.2 193.0L1316.0 192.1L1317.8 191.3L1319.6 190.4L1321.4 189.6L1323.2 188.7L1325.0 187.8L1326.8 187.0L1328.6 186.1L1330.4 185.3L1332.3 184.4L1334.1 183.5L1335.9 182.7L1337.7 181.8L1339.5 180.9L1341.3 180.0L1343.1 179.2L1344.9 178.3L1346.7 177.4L1348.5 176.5L1350.3 175.7L1352.0 174.8L1353.8 173.9L1355.6 173.0L1357.4 172.1L1359.2 171.3L1361.0 170.4L1362.8 169.5L1364.6 168.6L1366.4 167.7L1368.2 166.8L1370.0 165.9L1371.8 165.0L1373.6 164.2L1375.4 163.3L1377.1 162.4L1378.9 161.5L1380.7 160.6L1382.5 159.7L1384.3 158.8L1386.1 157.9L1387.9 157.0L1389.6 156.1L1391.4 155.2L1393.2 154.3L1395.0 153.4L1396.8 152.4L1398.6 151.5L1400.3 150.6L1402.1 149.7L1403.9 148.8L1405.7 147.9L1407.5 147.0L1409.2 146.1L1411.0 145.1L1412.8 144.2L1414.6 143.3L1416.3 142.4L1418.1 141.5L1419.9 140.5L1421.7 139.6L1423.4 138.7L1425.2 137.8L1427.0 136.8L1428.8 135.9L1430.5 135.0L1432.3 134.1L1434.1 133.1L1435.8 132.2L1437.6 131.3L1439.4 130.3L1441.1 129.4L1442.9 128.5L1444.7 127.5L1446.4 126.6L1448.2 125.6L1450.0 124.7L1451.7 123.8L1453.5 122.8L1455.3 121.9L1457.0 120.9L1458.8 120.0L1460.6 119.0L1462.3 118.1L1464.1 117.1L1465.8 116.2L1467.6 115.2L1469.3 114.3L1471.1 113.3L1472.9 112.4L1474.6 111.4L1476.4 110.5L1478.1 109.5L1479.9 108.5L1481.6 107.6L1483.4 106.6L1485.1 105.6L1486.9 104.7L1488.7 103.7L1490.4 102.8L1492.1 101.8L1493.8 100.8L1495.5 99.9L1497.0 99.1L1498.4 98.3L1499.6 97.7L1500.0 97.4" fill="none" stroke="#0000ff" stroke-width="13" stroke-linecap="round" stroke-linejoin="round"/>
<path d="M925.8 458.1L926.9 458.1L928.4 458.1L930.1 458.1L931.9 458.1L933.8 458.1L935.8 458.1L937.8 458.0L939.8 458.0L941.8 458.0L943.8 458.0L945.8 458.0L947.8 458.0L949.8 458.0L951.8 458.0L953.8 458.0L955.8 458.0L957.8 458.0L959.8 458.0L961.8 458.0L963.8 458.0L965.8 457.9L967.8 457.9L969.8 457.9L971.8 457.9L973.8 457.9L975.8 457.9L977.8 457.9L979.8 457.9L981.8 457.9L983.8 457.9L985.8 457.9L987.8 457.9L989.8 457.8L991.8 457.8L993.8 457.8L995.8 457.8L997.8 457.8L999.8 457.8L1001.8 457.8L1003.8 457.8L1005.8 457.8L1007.8 457.8L1009.8 457.8L1011.8 457.8L1013.8 457.8L1015.8 457.8L1017.8 457.8L1019.8 457.8L1021.8 457.8L1023.8 457.8L1025.8 457.8L1027.8 457.8L1029.8 457.7L1031.8 457.7L1033.8 457.7L1035.8 457.6L1037.8 457.5L1039.8 457.5L1041.8 457.4L1043.8 457.2L1045.8 457.1L1047.8 457.0L1049.8 456.8L1051.8 456.6L1053.7 456.3L1055.7 456.0L1057.7 455.7L1059.6 455.3L1061.6 454.8L1063.4 454.3L1065.3 453.6L1067.1 452.8L1068.8 451.8L1070.4 450.8L1072.0 449.6L1073.4 448.2L1074.7 446.8L1075.8 445.2L1076.7 443.5L1077.5 441.8L1078.2 439.9L1078.7 438.0L1079.2 436.1L1079.7 434.1L1080.1 432.2L1080.4 430.2L1080.8 428.3L1081.1 426.3L1081.5 424.3L1081.8 422.3L1082.1 420.4L1082.4 418.4L1082.7 416.4L1083.0 414.4L1083.3 412.5L1083.6 410.5L1084.0 408.5L1084.3 406.5L1084.6 404.6L1084.9 402.6L1085.2 400.6L1085.5 398.6L1085.8 396.7L1086.2 394.7L1086.5 392.7L1086.8 390.7L1087.1 388.8L1087.5 386.8L1087.8 384.8L1088.1 382.8L1088.4 380.9L1088.8 378.9L1089.1 376.9L1089.4 374.9L1089.7 373.0L1090.0 371.0L1090.3 369.0L1090.7 367.0L1091.0 365.1L1091.3 363.1L1091.6 361.1L1091.9 359.1L1092.2 357.2L1092.5 355.2L1092.8 353.2L1093.0 351.2L1093.3 349.2L1093.5 347.3L1093.8 345.3L1094.0 343.3L1094.2 341.3L1094.4 339.3L1094.6 337.3L1094.8 335.3L1095.0 333.3L1095.3 331.3L1095.5 329.4L1095.8 327.4L1096.0 325.4L1096.3 323.4L1096.7 321.5L1097.1 319.5L1097.5 317.5L1097.9 315.6L1098.4 313.7L1099.0 311.7L1099.6 309.8L1100.2 308.0L1101.0 306.1L1101.8 304.3L1102.7 302.6L1103.7 300.8L1104.8 299.2L1106.0 297.6L1107.3 296.1L1108.7 294.7L1110.2 293.4L1111.7 292.2L1113.3 291.0L1115.0 289.9L1116.7 288.9L1118.4 287.9L1120.2 286.9L1122.0 286.1L1123.8 285.2L1125.6 284.4L1127.4 283.6L1129.3 282.9L1131.1 282.2L1133.0 281.5L1134.9 280.8L1136.8 280.1L1138.7 279.5L1140.6 278.9L1142.5 278.2L1144.4 277.6L1146.3 277.0L1148.2 276.3L1150.1 275.7L1152.0 275.1L1153.9 274.4L1155.8 273.8L1157.6 273.1L1159.5 272.5L1161.4 271.8L1163.3 271.2L1165.2 270.5L1167.1 269.9L1169.0 269.2L1170.9 268.5L1172.8 267.9L1174.7 267.2L1176.5 266.6L1178.4 265.9L1180.3 265.2L1182.2 264.6L1184.1 263.9L1186.0 263.2L1187.9 262.6L1189.7 261.9L1191.6 261.2L1193.5 260.5L1195.4 259.9L1197.3 259.2L1199.1 258.5L1201.0 257.8L1202.9 257.1L1204.8 256.4L1206.7 255.8L1208.5 255.1L1210.4 254.4L1212.3 253.7L1214.2 253.0L1216.0 252.3L1217.9 251.6L1219.8 250.9L1221.7 250.2L1223.5 249.5L1225.4 248.8L1227.3 248.1L1229.2 247.4L1231.0 246.7L1232.9 246.0L1234.8 245.3L1236.6 244.5L1238.5 243.8L1240.4 243.1L1242.2 242.4L1244.1 241.7L1246.0 241.0L1247.8 240.2L1249.7 239.5L1251.6 238.8L1253.4 238.1L1255.3 237.3L1257.2 236.6L1259.0 235.9L1260.9 235.2L1262.7 234.4L1264.6 233.7L1266.5 233.0L1268.3 232.2L1270.2 231.5L1272.0 230.7L1273.9 230.0L1275.7 229.3L1277.6 228.5L1279.5 227.8L1281.3 227.0L1283.2 226.3L1285.0 225.5L1286.9 224.8L1288.7 224.0L1290.6 223.3L1292.4 222.5L1294.3 221.7L1296.1 221.0L1298.0 220.2L1299.8 219.5L1301.7 218.7L1303.5 217.9L1305.4 217.2L1307.2 216.4L1309.1 215.6L1310.9 214.9L1312.8 214.1L1314.6 213.3L1316.5 212.5L1318.3 211.8L1320.1 211.0L1322.0 210.2L1323.8 209.4L1325.7 208.7L1327.5 207.9L1329.3 207.1L1331.2 206.3L1333.0 205.5L1334.9 204.7L1336.7 203.9L1338.5 203.1L1340.4 202.3L1342.2 201.6L1344.0 200.8L1345.9 200.0L1347.7 199.2L1349.5 198.4L1351.4 197.6L1353.2 196.8L1355.0 196.0L1356.9 195.1L1358.7 194.3L1360.5 193.5L1362.4 192.7L1364.2 191.9L1366.0 191.1L1367.8 190.3L1369.7 189.5L1371.5 188.7L1373.3 187.8L1375.1 187.0L1377.0 186.2L1378.8 185.4L1380.6 184.6L1382.4 183.7L1384.3 182.9L1386.1 182.1L1387.9 181.2L1389.7 180.4L1391.5 179.6L1393.3 178.8L1395.2 177.9L1397.0 177.1L1398.8 176.2L1400.6 175.4L1402.4 174.6L1404.2 173.7L1406.1 172.9L1407.9 172.0L1409.7 171.2L1411.5 170.3L1413.3 169.5L1415.1 168.7L1416.9 167.8L1418.7 167.0L1420.5 166.1L1422.4 165.2L1424.2 164.4L1426.0 163.5L1427.8 162.7L1429.6 161.8L1431.4 161.0L1433.2 160.1L1435.0 159.2L1436.8 158.4L1438.6 157.5L1440.4 156.6L1442.2 155.8L1444.0 154.9L1445.8 154.0L1447.6 153.2L1449.4 152.3L1451.2 151.4L1453.0 150.5L1454.8 149.6L1456.6 148.8L1458.4 147.9L1460.2 147.0L1462.0 146.1L1463.8 145.2L1465.6 144.4L1467.4 143.5L1469.2 142.6L1471.0 141.7L1472.7 140.8L1474.5 139.9L1476.3 139.0L1478.1 138.1L1479.9 137.2L1481.7 136.3L1483.5 135.4L1485.3 134.5L1487.0 133.6L1488.8 132.7L1490.6 131.8L1492.4 130.9L1494.1 130.1L1495.7 129.2L1497.2 128.5L1498.5 127.8L1499.6 127.3L1499.6 127.3" fill="none" stroke="#ff00ff" stroke-width="13" stroke-linecap="round" stroke-linejoin="round"/>
<path d="M925.8 458.1L926.9 458.1L928.4 458.1L930.1 458.1L931.9 458.1L933.8 458.0L935.8 458.0L937.8 458.0L939.8 458.0L941.8 458.0L943.8 458.0L945.8 458.0L947.8 458.0L949.8 458.0L951.8 458.0L953.8 457.9L955.8 457.9L957.8 457.9L959.8 457.9L961.8 457.9L963.8 457.9L965.8 457.9L967.8 457.9L969.8 457.9L971.8 457.8L973.8 457.8L975.8 457.8L977.8 457.8L979.8 457.8L981.8 457.8L983.8 457.8L985.8 457.7L987.8 457.7L989.8 457.7L991.8 457.7L993.8 457.7L995.8 457.6L997.8 457.6L999.8 457.6L1001.8 457.6L1003.8 457.5L1005.8 457.5L1007.8 457.5L1009.8 457.5L1011.8 457.4L1013.8 457.4L1015.8 457.3L1017.8 457.3L1019.8 457.3L1021.8 457.2L1023.8 457.2L1025.8 457.1L1027.8 457.0L1029.8 457.0L1031.8 456.9L1033.8 456.8L1035.8 456.7L1037.8 456.6L1039.8 456.5L1041.8 456.3L1043.8 456.2L1045.8 456.0L1047.7 455.8L1049.7 455.5L1051.7 455.2L1053.6 454.8L1055.6 454.4L1057.5 453.8L1059.4 453.2L1061.2 452.4L1063.0 451.6L1064.7 450.7L1066.4 449.6L1068.0 448.5L1069.5 447.3L1070.9 446.0L1072.1 444.5L1073.2 442.9L1074.0 441.2L1074.8 439.4L1075.4 437.6L1075.9 435.7L1076.3 433.7L1076.8 431.8L1077.1 429.8L1077.5 427.8L1077.9 425.9L1078.2 423.9L1078.6 421.9L1078.9 420.0L1079.3 418.0L1079.6 416.0L1080.0 414.1L1080.3 412.1L1080.7 410.1L1081.0 408.1L1081.4 406.2L1081.8 404.2L1082.1 402.3L1082.5 400.3L1082.9 398.3L1083.3 396.4L1083.7 394.4L1084.1 392.4L1084.5 390.5L1084.9 388.5L1085.3 386.6L1085.8 384.6L1086.2 382.7L1086.6 380.7L1087.0 378.8L1087.5 376.8L1087.9 374.8L1088.3 372.9L1088.7 370.9L1089.1 369.0L1089.6 367.0L1090.0 365.1L1090.4 363.1L1090.8 361.2L1091.2 359.2L1091.6 357.2L1092.0 355.3L1092.3 353.3L1092.7 351.3L1093.0 349.4L1093.4 347.4L1093.6 345.4L1093.9 343.4L1094.2 341.5L1094.4 339.5L1094.6 337.5L1094.9 335.5L1095.1 333.5L1095.4 331.5L1095.7 329.6L1096.0 327.6L1096.4 325.6L1096.9 323.7L1097.4 321.8L1097.9 319.9L1098.6 318.0L1099.3 316.1L1100.2 314.4L1101.1 312.6L1102.2 311.0L1103.4 309.4L1104.7 307.9L1106.1 306.5L1107.6 305.3L1109.2 304.1L1110.8 303.0L1112.5 301.9L1114.2 301.0L1116.0 300.1L1117.8 299.2L1119.7 298.5L1121.5 297.7L1123.4 297.1L1125.3 296.5L1127.2 295.9L1129.2 295.4L1131.1 295.0L1133.1 294.7L1135.0 294.3L1137.0 294.0L1139.0 293.7L1140.9 293.4L1142.9 293.0L1144.8 292.6L1146.8 292.1L1148.7 291.5L1150.6 290.9L1152.5 290.3L1154.4 289.6L1156.3 288.9L1158.1 288.3L1160.0 287.6L1161.9 287.0L1163.8 286.3L1165.7 285.7L1167.6 285.0L1169.5 284.3L1171.4 283.7L1173.3 283.0L1175.2 282.4L1177.0 281.7L1178.9 281.1L1180.8 280.4L1182.7 279.8L1184.6 279.1L1186.5 278.4L1188.4 277.8L1190.3 277.1L1192.1 276.4L1194.0 275.8L1195.9 275.1L1197.8 274.4L1199.7 273.8L1201.6 273.1L1203.5 272.4L1205.3 271.8L1207.2 271.1L1209.1 270.4L1211.0 269.7L1212.9 269.1L1214.7 268.4L1216.6 267.7L1218.5 267.0L1220.4 266.3L1222.3 265.7L1224.1 265.0L1226.0 264.3L1227.9 263.6L1229.8 262.9L1231.7 262.2L1233.5 261.5L1235.4 260.8L1237.3 260.2L1239.2 259.5L1241.0 258.8L1242.9 258.1L1244.8 257.4L1246.7 256.7L1248.5 256.0L1250.4 255.3L1252.3 254.6L1254.2 253.9L1256.0 253.2L1257.9 252.5L1259.8 251.8L1261.6 251.1L1263.5 250.3L1265.4 249.6L1267.3 248.9L1269.1 248.2L1271.0 247.5L1272.9 246.8L1274.7 246.1L1276.6 245.4L1278.5 244.6L1280.3 243.9L1282.2 243.2L1284.1 242.5L1285.9 241.8L1287.8 241.0L1289.7 240.3L1291.5 239.6L1293.4 238.9L1295.3 238.1L1297.1 237.4L1299.0 236.7L1300.8 236.0L1302.7 235.2L1304.6 234.5L1306.4 233.8L1308.3 233.0L1310.1 232.3L1312.0 231.6L1313.9 230.8L1315.7 230.1L1317.6 229.3L1319.4 228.6L1321.3 227.9L1323.2 227.1L1325.0 226.4L1326.9 225.6L1328.7 224.9L1330.6 224.1L1332.4 223.4L1334.3 222.6L1336.1 221.9L1338.0 221.1L1339.9 220.4L1341.7 219.6L1343.6 218.9L1345.4 218.1L1347.3 217.4L1349.1 216.6L1351.0 215.9L1352.8 215.1L1354.7 214.3L1356.5 213.6L1358.4 212.8L1360.2 212.0L1362.1 211.3L1363.9 210.5L1365.7 209.8L1367.6 209.0L1369.4 208.2L1371.3 207.4L1373.1 206.7L1375.0 205.9L1376.8 205.1L1378.7 204.4L1380.5 203.6L1382.4 202.8L1384.2 202.0L1386.0 201.2L1387.9 200.5L1389.7 199.7L1391.6 198.9L1393.4 198.1L1395.2 197.3L1397.1 196.6L1398.9 195.8L1400.8 195.0L1402.6 194.2L1404.4 193.4L1406.3 192.6L1408.1 191.8L1409.9 191.0L1411.8 190.2L1413.6 189.4L1415.5 188.6L1417.3 187.9L1419.1 187.1L1421.0 186.3L1422.8 185.5L1424.6 184.7L1426.5 183.9L1428.3 183.1L1430.1 182.2L1431.9 181.4L1433.8 180.6L1435.6 179.8L1437.4 179.0L1439.3 178.2L1441.1 177.4L1442.9 176.6L1444.8 175.8L1446.6 175.0L1448.4 174.2L1450.2 173.3L1452.1 172.5L1453.9 171.7L1455.7 170.9L1457.5 170.1L1459.4 169.3L1461.2 168.4L1463.0 167.6L1464.8 166.8L1466.7 166.0L1468.5 165.1L1470.3 164.3L1472.1 163.5L1473.9 162.7L1475.8 161.8L1477.6 161.0L1479.4 160.2L1481.2 159.3L1483.0 158.5L1484.9 157.7L1486.7 156.8L1488.5 156.0L1490.3 155.2L1492.1 154.4L1493.8 153.5L1495.5 152.8L1497.0 152.1L1498.4 151.5L1499.4 151.0L1499.4 151.0" fill="none" stroke="#808000" stroke-width="13" stroke-linecap="round" stroke-linejoin="round"/>
<path d="M925.8 458.0L926.9 458.0L928.4 458.0L930.1 457.9L931.9 457.9L933.8 457.9L935.8 457.8L937.8 457.8L939.8 457.7L941.8 457.7L943.8 457.6L945.8 457.6L947.8 457.5L949.8 457.5L951.8 457.4L953.8 457.4L955.8 457.3L957.8 457.3L959.8 457.2L961.8 457.2L963.8 457.2L965.8 457.1L967.8 457.1L969.8 457.0L971.8 457.0L973.8 456.9L975.8 456.9L977.8 456.8L979.8 456.8L981.8 456.7L983.8 456.7L985.8 456.6L987.8 456.5L989.8 456.5L991.8 456.4L993.8 456.4L995.8 456.3L997.8 456.3L999.8 456.2L1001.8 456.1L1003.8 456.1L1005.8 456.0L1007.8 455.9L1009.8 455.9L1011.8 455.8L1013.8 455.7L1015.8 455.6L1017.8 455.5L1019.8 455.4L1021.8 455.3L1023.8 455.2L1025.7 455.1L1027.7 454.9L1029.7 454.8L1031.7 454.6L1033.7 454.4L1035.7 454.2L1037.7 454.0L1039.7 453.7L1041.6 453.4L1043.6 453.1L1045.6 452.8L1047.6 452.4L1049.5 452.1L1051.5 451.7L1053.4 451.3L1055.4 450.8L1057.3 450.3L1059.1 449.6L1060.9 448.9L1062.7 448.0L1064.3 446.9L1065.8 445.7L1067.1 444.3L1068.4 442.8L1069.5 441.2L1070.5 439.5L1071.3 437.8L1072.1 435.9L1072.8 434.1L1073.4 432.2L1074.0 430.3L1074.5 428.3L1075.0 426.4L1075.6 424.5L1076.1 422.5L1076.6 420.6L1077.1 418.7L1077.6 416.7L1078.1 414.8L1078.6 412.9L1079.0 410.9L1079.5 409.0L1080.0 407.0L1080.5 405.1L1080.9 403.1L1081.4 401.2L1081.9 399.2L1082.3 397.3L1082.8 395.4L1083.2 393.4L1083.7 391.5L1084.1 389.5L1084.5 387.5L1085.0 385.6L1085.4 383.6L1085.8 381.7L1086.2 379.7L1086.6 377.8L1087.1 375.8L1087.5 373.9L1087.9 371.9L1088.3 369.9L1088.7 368.0L1089.1 366.0L1089.5 364.1L1089.9 362.1L1090.2 360.1L1090.6 358.2L1091.0 356.2L1091.3 354.2L1091.6 352.3L1091.9 350.3L1092.2 348.3L1092.5 346.3L1092.9 344.4L1093.2 342.4L1093.6 340.4L1094.0 338.5L1094.5 336.5L1095.0 334.6L1095.6 332.7L1096.2 330.8L1096.9 329.0L1097.7 327.1L1098.6 325.4L1099.5 323.6L1100.6 322.0L1101.8 320.5L1103.2 319.0L1104.6 317.7L1106.1 316.4L1107.7 315.3L1109.4 314.2L1111.1 313.2L1112.9 312.3L1114.7 311.5L1116.6 310.8L1118.4 310.1L1120.3 309.4L1122.2 308.9L1124.2 308.3L1126.1 307.8L1128.0 307.4L1130.0 306.9L1131.9 306.5L1133.9 306.1L1135.9 305.7L1137.8 305.3L1139.8 304.9L1141.7 304.5L1143.7 304.0L1145.6 303.5L1147.5 303.0L1149.4 302.4L1151.3 301.8L1153.3 301.2L1155.1 300.5L1157.0 299.9L1158.9 299.3L1160.8 298.7L1162.7 298.0L1164.6 297.4L1166.5 296.8L1168.4 296.2L1170.3 295.5L1172.2 294.9L1174.1 294.3L1176.0 293.7L1177.9 293.0L1179.8 292.4L1181.7 291.8L1183.6 291.2L1185.5 290.5L1187.4 289.9L1189.3 289.3L1191.2 288.6L1193.1 288.0L1195.0 287.3L1196.9 286.7L1198.8 286.1L1200.7 285.4L1202.6 284.8L1204.5 284.1L1206.4 283.5L1208.3 282.8L1210.2 282.2L1212.1 281.5L1214.0 280.9L1215.8 280.2L1217.7 279.6L1219.6 278.9L1221.5 278.3L1223.4 277.6L1225.3 277.0L1227.2 276.3L1229.1 275.6L1231.0 275.0L1232.8 274.3L1234.7 273.7L1236.6 273.0L1238.5 272.3L1240.4 271.7L1242.3 271.0L1244.2 270.3L1246.0 269.6L1247.9 269.0L1249.8 268.3L1251.7 267.6L1253.6 266.9L1255.5 266.3L1257.3 265.6L1259.2 264.9L1261.1 264.2L1263.0 263.5L1264.9 262.9L1266.7 262.2L1268.6 261.5L1270.5 260.8L1272.4 260.1L1274.2 259.4L1276.1 258.7L1278.0 258.1L1279.9 257.4L1281.8 256.7L1283.6 256.0L1285.5 255.3L1287.4 254.6L1289.3 253.9L1291.1 253.2L1293.0 252.5L1294.9 251.8L1296.7 251.1L1298.6 250.4L1300.5 249.7L1302.4 249.0L1304.2 248.2L1306.1 247.5L1308.0 246.8L1309.8 246.1L1311.7 245.4L1313.6 244.7L1315.4 244.0L1317.3 243.3L1319.2 242.5L1321.0 241.8L1322.9 241.1L1324.8 240.4L1326.6 239.7L1328.5 238.9L1330.4 238.2L1332.2 237.5L1334.1 236.8L1336.0 236.0L1337.8 235.3L1339.7 234.6L1341.5 233.9L1343.4 233.1L1345.3 232.4L1347.1 231.7L1349.0 230.9L1350.8 230.2L1352.7 229.4L1354.6 228.7L1356.4 228.0L1358.3 227.2L1360.1 226.5L1362.0 225.7L1363.9 225.0L1365.7 224.3L1367.6 223.5L1369.4 222.8L1371.3 222.0L1373.1 221.3L1375.0 220.5L1376.8 219.8L1378.7 219.0L1380.5 218.2L1382.4 217.5L1384.2 216.7L1386.1 216.0L1387.9 215.2L1389.8 214.5L1391.6 213.7L1393.5 212.9L1395.3 212.2L1397.2 211.4L1399.0 210.6L1400.9 209.9L1402.7 209.1L1404.6 208.3L1406.4 207.6L1408.3 206.8L1410.1 206.0L1412.0 205.3L1413.8 204.5L1415.6 203.7L1417.5 202.9L1419.3 202.1L1421.2 201.4L1423.0 200.6L1424.9 199.8L1426.7 199.0L1428.5 198.2L1430.4 197.5L1432.2 196.7L1434.1 195.9L1435.9 195.1L1437.7 194.3L1439.6 193.5L1441.4 192.7L1443.2 191.9L1445.1 191.1L1446.9 190.4L1448.8 189.6L1450.6 188.8L1452.4 188.0L1454.3 187.2L1456.1 186.4L1457.9 185.6L1459.8 184.8L1461.6 184.0L1463.4 183.2L1465.2 182.4L1467.1 181.5L1468.9 180.7L1470.7 179.9L1472.6 179.1L1474.4 178.3L1476.2 177.5L1478.1 176.7L1479.9 175.9L1481.7 175.1L1483.5 174.2L1485.4 173.4L1487.2 172.6L1489.0 171.8L1490.8 171.0L1492.6 170.2L1494.4 169.4L1496.1 168.6L1497.6 167.9L1498.9 167.3L1500.0 166.9L1500.0 166.9" fill="none" stroke="#000080" stroke-width="13" stroke-linecap="round" stroke-linejoin="round"/>
</g>
<rect x="896.4" y="62" width="601.4" height="407.6" fill="none" stroke="#000" stroke-width="2.6"/>
<path d="M896.4 469.6V462.6M1033.08 469.6V462.6M1169.76 469.6V462.6M1306.45 469.6V462.6M1443.13 469.6V462.6M964.74 469.6V466.1M1101.42 469.6V466.1M1238.1 469.6V466.1M1374.79 469.6V466.1M896.4 458.28H903.4M896.4 345.06H903.4M896.4 231.83H903.4M896.4 118.61H903.4M896.4 401.67H899.9M896.4 288.44H899.9M896.4 175.22H899.9" stroke="#000" stroke-width="2.4" fill="none"/>
<text x="887" y="466.58" text-anchor="end" fill="#231815" style="font-size:27.5px;letter-spacing:0.8px;" font-family='"Liberation Sans", sans-serif' >0</text>
<text x="887" y="353.36" text-anchor="end" fill="#231815" style="font-size:27.5px;letter-spacing:0.8px;" font-family='"Liberation Sans", sans-serif' >1</text>
<text x="887" y="240.13" text-anchor="end" fill="#231815" style="font-size:27.5px;letter-spacing:0.8px;" font-family='"Liberation Sans", sans-serif' >2</text>
<text x="887" y="126.91" text-anchor="end" fill="#231815" style="font-size:27.5px;letter-spacing:0.8px;" font-family='"Liberation Sans", sans-serif' >3</text>
<text x="896.9" y="499.2" text-anchor="middle" fill="#231815" style="font-size:27.5px;letter-spacing:0.8px;" font-family='"Liberation Sans", sans-serif' >0</text>
<text x="1033.58" y="499.2" text-anchor="middle" fill="#231815" style="font-size:27.5px;letter-spacing:0.8px;" font-family='"Liberation Sans", sans-serif' >50</text>
<text x="1170.26" y="499.2" text-anchor="middle" fill="#231815" style="font-size:27.5px;letter-spacing:0.8px;" font-family='"Liberation Sans", sans-serif' >100</text>
<text x="1306.95" y="499.2" text-anchor="middle" fill="#231815" style="font-size:27.5px;letter-spacing:0.8px;" font-family='"Liberation Sans", sans-serif' >150</text>
<text x="1443.63" y="499.2" text-anchor="middle" fill="#231815" style="font-size:27.5px;letter-spacing:0.8px;" font-family='"Liberation Sans", sans-serif' >200</text>
<text transform="translate(861.1 303.1) rotate(-90)" y="0" fill="#000" style="font-size:32px"><tspan x="0.0" font-style="italic">R</tspan><tspan x="31.8">(</tspan><tspan x="42.0" font-family="Liberation Serif">Ω</tspan><tspan x="66.3">)</tspan></text>
<text y="546.8" fill="#000" style="font-size:32px"><tspan x="1163.0" font-style="italic">T</tspan><tspan x="1192.3">(</tspan><tspan x="1199.0">K</tspan><tspan x="1227.3">)</tspan></text>
<path d="M929.3 94.1H977.2" stroke="#ff0000" stroke-width="2.2"/><circle cx="953.9" cy="94.1" r="5.3" fill="#ff0000"/>
<text x="983" y="101.1" text-anchor="start" fill="#000" style="font-size:20.3px;" font-family='"Liberation Sans", sans-serif' >24.8 GPa</text>
<path d="M929.3 119.6H977.2" stroke="#0000ff" stroke-width="2.2"/><circle cx="953.9" cy="119.6" r="5.3" fill="#0000ff"/>
<text x="983" y="126.6" text-anchor="start" fill="#000" style="font-size:20.3px;" font-family='"Liberation Sans", sans-serif' >28.6 GPa</text>
<path d="M929.3 145.1H977.2" stroke="#ff00ff" stroke-width="2.2"/><circle cx="953.9" cy="145.1" r="5.3" fill="#ff00ff"/>
<text x="983" y="152.1" text-anchor="start" fill="#000" style="font-size:20.3px;" font-family='"Liberation Sans", sans-serif' >33.8 GPa</text>
<path d="M929.3 170.6H977.2" stroke="#808000" stroke-width="2.2"/><circle cx="953.9" cy="170.6" r="5.3" fill="#808000"/>
<text x="983" y="177.6" text-anchor="start" fill="#000" style="font-size:20.3px;" font-family='"Liberation Sans", sans-serif' >38.2 GPa</text>
<path d="M929.3 196.1H977.2" stroke="#000080" stroke-width="2.2"/><circle cx="953.9" cy="196.1" r="5.3" fill="#000080"/>
<text x="983" y="203.1" text-anchor="start" fill="#000" style="font-size:20.3px;" font-family='"Liberation Sans", sans-serif' >44.2 GPa</text>
<text x="1107.7" y="104.9" fill="#000" style="font-size:24.9px">La<tspan dx="0.2" style="font-size:12.9px;font-weight:bold">3</tspan><tspan dx="1.5">Ni</tspan><tspan dx="0.2" style="font-size:12.9px;font-weight:bold">2</tspan><tspan dx="0.9">O</tspan><tspan dx="0.9" style="font-size:12.9px;font-weight:bold">7</tspan></text>
<text x="1107.7" y="134.5" fill="#000" style="font-size:24.9px">Orthorhombic</text>
<text x="1107.7" y="163.7" fill="#000" style="font-size:24.9px">PTM:<tspan font-style="italic">He</tspan></text>
<rect x="1261.3" y="281.3" width="218" height="132" fill="#fff" stroke="#000" stroke-width="2.4"/>
<path d="M1297.63 413.3V406.3M1370.3 413.3V406.3M1442.97 413.3V406.3M1333.97 413.3V409.8M1406.63 413.3V409.8M1261.3 407.01H1268.3M1261.3 344.16H1268.3M1261.3 281.3H1268.3M1261.3 375.59H1264.8M1261.3 312.73H1264.8" stroke="#000" stroke-width="2.2" fill="none"/>
<g clip-path="url(#clipBI)">
<path d="M1257.2 412.0L1258.4 412.0L1260.1 412.0L1262.0 412.0L1264.0 412.0L1266.0 412.0L1268.0 412.0L1270.0 412.0L1272.0 412.0L1274.0 412.0L1276.0 412.0L1278.0 412.0L1280.0 412.0L1282.0 412.0L1284.0 412.0L1286.0 412.0L1288.0 412.0L1290.0 412.0L1292.0 411.9L1294.0 411.9L1296.0 411.9L1298.0 411.9L1300.0 411.9L1302.0 411.9L1304.0 411.9L1306.0 411.9L1308.0 411.9L1310.0 411.9L1312.0 411.9L1314.0 411.9L1316.0 411.9L1318.0 411.9L1320.0 411.9L1322.0 411.9L1324.0 411.8L1326.0 411.8L1328.0 411.8L1330.0 411.8L1332.0 411.8L1334.0 411.8L1336.0 411.7L1338.0 411.7L1340.0 411.7L1342.0 411.6L1344.0 411.6L1346.0 411.5L1348.0 411.3L1350.0 411.2L1352.0 411.0L1354.0 410.9L1356.0 410.7L1358.0 410.5L1359.9 410.4L1361.9 410.1L1363.9 409.7L1365.8 409.2L1367.7 408.6L1369.5 407.8L1371.3 406.9L1373.0 405.9L1374.7 404.8L1376.3 403.7L1377.9 402.5L1379.5 401.2L1381.0 399.9L1382.5 398.6L1384.0 397.2L1385.3 395.8L1386.7 394.3L1388.0 392.8L1389.2 391.2L1390.3 389.5L1391.3 387.8L1392.3 386.1L1393.1 384.3L1394.0 382.5L1394.7 380.6L1395.5 378.8L1396.2 376.9L1396.8 375.0L1397.5 373.1L1398.2 371.3L1398.9 369.4L1399.6 367.5L1400.3 365.6L1400.9 363.7L1401.6 361.8L1402.2 359.9L1402.9 358.0L1403.5 356.1L1404.1 354.2L1404.7 352.3L1405.3 350.4L1405.9 348.5L1406.6 346.6L1407.2 344.8L1407.9 342.9L1408.6 341.0L1409.3 339.1L1409.9 337.2L1410.6 335.3L1411.3 333.5L1412.1 331.6L1412.8 329.8L1413.6 327.9L1414.4 326.1L1415.2 324.2L1415.9 322.4L1416.7 320.5L1417.4 318.7L1418.2 316.9L1419.1 315.0L1420.0 313.3L1420.9 311.5L1422.0 309.8L1423.1 308.2L1424.4 306.6L1425.7 305.1L1427.1 303.7L1428.6 302.4L1430.1 301.1L1431.7 299.9L1433.4 298.9L1435.1 297.9L1436.9 297.0L1438.8 296.3L1440.7 295.6L1442.6 295.0L1444.5 294.5L1446.4 294.1L1448.4 293.7L1450.4 293.3L1452.4 293.0L1454.3 292.8L1456.3 292.5L1458.3 292.3L1460.3 292.1L1462.3 291.9L1464.3 291.7L1466.3 291.5L1468.3 291.3L1470.2 291.2L1472.2 291.0L1474.2 290.8L1476.2 290.7L1478.2 290.5L1480.0 290.4L1481.5 290.2L1482.0 290.2" fill="none" stroke="#ff0000" stroke-width="11.8" stroke-linecap="round" stroke-linejoin="round"/>
<path d="M1257.2 411.5L1258.4 411.5L1260.1 411.5L1262.0 411.5L1264.0 411.4L1266.0 411.4L1268.0 411.4L1270.0 411.4L1272.0 411.4L1274.0 411.4L1276.0 411.4L1278.0 411.4L1280.0 411.4L1282.0 411.3L1284.0 411.3L1286.0 411.3L1288.0 411.3L1290.0 411.3L1292.0 411.3L1294.0 411.3L1296.0 411.2L1298.0 411.2L1300.0 411.2L1302.0 411.2L1304.0 411.2L1306.0 411.2L1308.0 411.1L1310.0 411.1L1312.0 411.1L1314.0 411.1L1316.0 411.1L1318.0 411.0L1320.0 411.0L1322.0 411.0L1324.0 410.9L1326.0 410.9L1328.0 410.8L1330.0 410.8L1332.0 410.7L1334.0 410.6L1336.0 410.4L1338.0 410.2L1340.0 410.0L1341.9 409.7L1343.9 409.5L1345.9 409.2L1347.8 408.8L1349.8 408.3L1351.7 407.7L1353.5 406.9L1355.4 406.1L1357.2 405.3L1358.9 404.4L1360.7 403.4L1362.5 402.5L1364.2 401.5L1365.9 400.5L1367.6 399.4L1369.3 398.3L1370.9 397.1L1372.5 395.9L1374.0 394.6L1375.5 393.3L1376.9 391.9L1378.2 390.4L1379.4 388.8L1380.5 387.1L1381.5 385.4L1382.4 383.6L1383.3 381.8L1384.1 380.0L1384.9 378.2L1385.7 376.3L1386.4 374.5L1387.2 372.6L1387.9 370.8L1388.7 368.9L1389.5 367.1L1390.3 365.2L1391.1 363.4L1391.8 361.5L1392.6 359.7L1393.3 357.8L1394.0 356.0L1394.7 354.1L1395.5 352.2L1396.2 350.4L1397.0 348.5L1397.7 346.7L1398.5 344.8L1399.2 343.0L1400.0 341.1L1400.8 339.3L1401.5 337.4L1402.3 335.6L1403.2 333.8L1404.0 332.0L1405.0 330.2L1406.0 328.5L1407.0 326.8L1408.1 325.1L1409.2 323.4L1410.3 321.8L1411.5 320.2L1412.7 318.6L1414.0 317.1L1415.4 315.6L1416.8 314.3L1418.4 313.0L1420.0 311.8L1421.7 310.8L1423.4 309.9L1425.2 309.0L1427.1 308.2L1428.9 307.5L1430.8 306.8L1432.7 306.2L1434.6 305.6L1436.5 305.1L1438.5 304.6L1440.4 304.1L1442.4 303.7L1444.3 303.2L1446.3 302.8L1448.3 302.5L1450.2 302.1L1452.2 301.8L1454.2 301.6L1456.2 301.4L1458.2 301.2L1460.2 301.0L1462.1 300.9L1464.1 300.8L1466.1 300.7L1468.1 300.6L1470.1 300.6L1472.1 300.5L1474.1 300.5L1476.1 300.5L1478.1 300.4L1479.9 300.4L1481.4 300.4L1482.0 300.4" fill="none" stroke="#0000ff" stroke-width="11.8" stroke-linecap="round" stroke-linejoin="round"/>
<path d="M1257.2 411.0L1258.4 411.0L1260.1 410.9L1262.0 410.9L1264.0 410.9L1266.0 410.8L1268.0 410.8L1270.0 410.8L1272.0 410.7L1274.0 410.7L1276.0 410.7L1278.0 410.7L1280.0 410.6L1282.0 410.6L1284.0 410.6L1286.0 410.5L1288.0 410.5L1290.0 410.5L1292.0 410.4L1294.0 410.4L1296.0 410.3L1298.0 410.3L1300.0 410.3L1302.0 410.2L1304.0 410.2L1306.0 410.1L1308.0 410.1L1310.0 410.0L1312.0 409.9L1314.0 409.9L1316.0 409.8L1318.0 409.7L1320.0 409.6L1322.0 409.4L1324.0 409.3L1326.0 409.0L1327.9 408.8L1329.9 408.5L1331.9 408.3L1333.9 408.0L1335.8 407.6L1337.7 407.1L1339.5 406.3L1341.2 405.2L1342.8 404.1L1344.3 402.8L1345.8 401.5L1347.2 400.1L1348.6 398.7L1350.0 397.2L1351.4 395.8L1352.7 394.3L1354.1 392.8L1355.4 391.3L1356.7 389.8L1358.0 388.3L1359.3 386.7L1360.6 385.2L1361.9 383.7L1363.2 382.1L1364.4 380.6L1365.7 379.1L1367.0 377.5L1368.2 376.0L1369.5 374.4L1370.7 372.8L1372.0 371.3L1373.2 369.7L1374.4 368.1L1375.6 366.5L1376.8 364.9L1378.0 363.3L1379.2 361.7L1380.3 360.0L1381.4 358.4L1382.6 356.7L1383.6 355.0L1384.7 353.3L1385.7 351.6L1386.6 349.8L1387.5 348.1L1388.4 346.3L1389.2 344.4L1390.0 342.6L1390.8 340.8L1391.6 338.9L1392.4 337.1L1393.1 335.2L1393.9 333.4L1394.7 331.6L1395.5 329.7L1396.4 327.9L1397.3 326.2L1398.3 324.5L1399.4 322.8L1400.7 321.2L1402.0 319.8L1403.5 318.5L1405.1 317.3L1406.8 316.4L1408.6 315.6L1410.5 314.9L1412.4 314.3L1414.3 313.7L1416.3 313.2L1418.2 312.8L1420.2 312.4L1422.1 312.0L1424.1 311.7L1426.1 311.4L1428.1 311.2L1430.1 310.9L1432.0 310.7L1434.0 310.5L1436.0 310.4L1438.0 310.2L1440.0 310.0L1442.0 309.9L1444.0 309.7L1446.0 309.6L1448.0 309.4L1450.0 309.3L1452.0 309.2L1454.0 309.1L1456.0 309.0L1458.0 308.9L1460.0 308.8L1462.0 308.7L1464.0 308.6L1466.0 308.5L1468.0 308.4L1470.0 308.3L1472.0 308.2L1474.0 308.2L1476.0 308.1L1477.9 308.0L1479.8 307.9L1481.5 307.8L1482.8 307.8L1482.8 307.8" fill="none" stroke="#ff00ff" stroke-width="11.8" stroke-linecap="round" stroke-linejoin="round"/>
<path d="M1257.2 410.5L1258.4 410.5L1260.1 410.4L1262.0 410.4L1264.0 410.4L1266.0 410.3L1268.0 410.3L1270.0 410.2L1272.0 410.2L1274.0 410.2L1276.0 410.1L1278.0 410.1L1280.0 410.1L1282.0 410.0L1284.0 410.0L1286.0 409.9L1288.0 409.9L1290.0 409.8L1292.0 409.8L1294.0 409.7L1296.0 409.6L1298.0 409.6L1300.0 409.5L1302.0 409.4L1304.0 409.4L1306.0 409.3L1308.0 409.3L1310.0 409.2L1312.0 409.1L1314.0 409.0L1315.9 408.7L1317.9 408.3L1319.8 407.7L1321.6 406.9L1323.3 406.0L1324.9 404.8L1326.4 403.5L1327.7 402.1L1329.1 400.6L1330.4 399.1L1331.8 397.6L1333.2 396.2L1334.6 394.8L1336.1 393.5L1337.6 392.1L1339.0 390.8L1340.5 389.4L1342.0 388.1L1343.5 386.7L1345.0 385.4L1346.5 384.0L1347.9 382.7L1349.4 381.3L1350.8 379.9L1352.2 378.5L1353.7 377.1L1355.1 375.7L1356.5 374.3L1357.8 372.8L1359.2 371.3L1360.5 369.9L1361.9 368.4L1363.2 366.9L1364.5 365.4L1365.8 363.9L1367.2 362.4L1368.5 360.9L1369.8 359.3L1371.1 357.8L1372.4 356.3L1373.7 354.8L1375.0 353.3L1376.3 351.7L1377.5 350.2L1378.8 348.7L1380.1 347.1L1381.3 345.5L1382.6 344.0L1383.8 342.4L1385.0 340.8L1386.2 339.2L1387.5 337.7L1388.8 336.2L1390.2 334.7L1391.6 333.3L1393.1 332.0L1394.6 330.7L1396.2 329.4L1397.8 328.3L1399.5 327.2L1401.2 326.3L1403.1 325.5L1404.9 324.7L1406.8 324.1L1408.7 323.5L1410.6 322.9L1412.5 322.4L1414.5 321.9L1416.4 321.4L1418.4 321.0L1420.3 320.6L1422.3 320.2L1424.3 319.9L1426.2 319.5L1428.2 319.2L1430.2 319.0L1432.2 318.7L1434.2 318.4L1436.1 318.2L1438.1 318.0L1440.1 317.8L1442.1 317.6L1444.1 317.4L1446.1 317.3L1448.1 317.1L1450.1 317.0L1452.1 316.8L1454.1 316.7L1456.1 316.6L1458.1 316.5L1460.1 316.3L1462.1 316.2L1464.1 316.1L1466.1 316.0L1468.1 315.9L1470.1 315.8L1472.0 315.7L1474.0 315.6L1476.0 315.5L1478.0 315.3L1479.8 315.2L1481.3 315.2L1481.9 315.1" fill="none" stroke="#808000" stroke-width="11.8" stroke-linecap="round" stroke-linejoin="round"/>
<path d="M1257.2 405.2L1258.4 405.1L1260.1 405.1L1262.0 405.0L1264.0 404.9L1266.0 404.9L1268.0 404.8L1270.0 404.7L1272.0 404.7L1274.0 404.6L1276.0 404.5L1278.0 404.5L1280.0 404.4L1282.0 404.3L1284.0 404.2L1286.0 404.2L1288.0 404.1L1290.0 404.0L1292.0 404.0L1294.0 404.0L1296.0 404.0L1298.0 404.0L1300.0 404.1L1302.0 404.1L1304.0 404.2L1306.0 404.1L1308.0 404.0L1309.9 403.8L1311.9 403.5L1313.8 403.0L1315.7 402.3L1317.4 401.4L1319.1 400.4L1320.7 399.2L1322.2 397.9L1323.7 396.5L1325.0 395.1L1326.4 393.6L1327.7 392.1L1329.0 390.6L1330.3 389.1L1331.7 387.6L1333.0 386.1L1334.4 384.7L1335.9 383.3L1337.3 381.9L1338.7 380.5L1340.1 379.1L1341.6 377.7L1343.0 376.3L1344.4 374.9L1345.8 373.5L1347.2 372.0L1348.6 370.6L1349.9 369.1L1351.3 367.6L1352.6 366.2L1353.9 364.6L1355.2 363.1L1356.5 361.6L1357.8 360.1L1359.1 358.5L1360.4 357.0L1361.7 355.5L1362.9 353.9L1364.2 352.4L1365.5 350.9L1366.9 349.4L1368.2 347.9L1369.6 346.5L1371.0 345.0L1372.4 343.6L1373.9 342.3L1375.3 340.9L1376.9 339.6L1378.4 338.4L1380.0 337.2L1381.7 336.1L1383.4 335.1L1385.2 334.1L1387.0 333.3L1388.8 332.4L1390.6 331.7L1392.5 331.0L1394.4 330.3L1396.3 329.7L1398.2 329.1L1400.1 328.6L1402.1 328.1L1404.0 327.6L1406.0 327.2L1407.9 326.8L1409.9 326.5L1411.9 326.1L1413.9 325.9L1415.8 325.6L1417.8 325.4L1419.8 325.2L1421.8 325.0L1423.8 324.8L1425.8 324.7L1427.8 324.5L1429.8 324.4L1431.8 324.3L1433.8 324.1L1435.8 324.0L1437.8 323.9L1439.8 323.8L1441.8 323.7L1443.8 323.6L1445.8 323.5L1447.8 323.4L1449.8 323.4L1451.8 323.3L1453.8 323.2L1455.8 323.2L1457.8 323.1L1459.8 323.0L1461.8 323.0L1463.8 322.9L1465.8 322.8L1467.8 322.8L1469.7 322.7L1471.7 322.7L1473.7 322.6L1475.7 322.6L1477.7 322.5L1479.6 322.4L1481.3 322.4L1482.6 322.3L1482.6 322.3" fill="none" stroke="#000080" stroke-width="11.8" stroke-linecap="round" stroke-linejoin="round"/>
</g>
<rect x="1261.3" y="281.3" width="218.0" height="132.0" fill="none" stroke="#000" stroke-width="2.4"/>
<text x="1252" y="419.81" text-anchor="end" fill="#231815" style="font-size:19.5px;" font-family='"Liberation Sans", sans-serif' >0</text>
<text x="1252" y="356.96" text-anchor="end" fill="#231815" style="font-size:19.5px;" font-family='"Liberation Sans", sans-serif' >1</text>
<text x="1252" y="294.1" text-anchor="end" fill="#231815" style="font-size:19.5px;" font-family='"Liberation Sans", sans-serif' >2</text>
<text x="1297.63" y="438" text-anchor="middle" fill="#231815" style="font-size:20px;letter-spacing:0.5px;" font-family='"Liberation Sans", sans-serif' >60</text>
<text x="1370.3" y="438" text-anchor="middle" fill="#231815" style="font-size:20px;letter-spacing:0.5px;" font-family='"Liberation Sans", sans-serif' >70</text>
<text x="1442.97" y="438" text-anchor="middle" fill="#231815" style="font-size:20px;letter-spacing:0.5px;" font-family='"Liberation Sans", sans-serif' >80</text>
<text transform="translate(1231.9 370.7) rotate(-90)" fill="#000" style="font-size:20px"><tspan font-style="italic">R</tspan> (<tspan font-family="Liberation Serif">Ω</tspan>)</text>
<text y="457.7" fill="#231815" style="font-size:20px"><tspan x="1348" font-style="italic">T</tspan><tspan x="1366.7">(</tspan><tspan x="1371.5">K</tspan><tspan x="1389.4">)</tspan></text>
<path d="M1433.4 357.8H1340" stroke="#00ff00" stroke-width="5"/><path d="M1312.7 357.8L1347.6 349.8V365.8Z" fill="#00ff00"/>
<text x="1316" y="316.9" fill="#00ff00" style="font-size:27.5px;font-style:italic">P</text>
<g clip-path="url(#clipC)">
<path d="M171.0 1017.0C192.5 1016.8 256.8 1016.2 300.0 1015.8C343.2 1015.4 396.7 1015.3 430.0 1014.8C463.3 1014.2 482.1 1013.3 500.0 1012.5C517.9 1011.7 529.0 1013.1 537.4 1010.0C545.8 1006.9 546.9 998.9 550.1 993.6C553.3 988.4 554.7 982.7 556.4 978.5C558.1 974.3 559.2 972.8 560.2 968.4C561.2 964.0 561.8 959.4 562.7 951.9C563.7 944.4 564.9 933.8 565.9 923.5C566.9 913.2 568.1 898.7 569.0 890.0C569.9 881.3 570.4 877.7 571.1 871.2C571.8 864.7 572.4 857.2 573.0 851.0C573.6 844.8 574.3 840.2 574.9 833.9C575.5 827.6 576.0 823.0 576.8 813.1C577.6 803.2 578.9 783.6 579.8 774.4C580.7 765.2 581.4 763.6 582.2 757.9C583.0 752.2 583.8 745.3 584.5 740.3C585.2 735.3 585.6 732.0 586.3 728.0C587.0 724.0 587.8 720.1 588.6 716.3C589.4 712.5 590.1 708.7 591.0 705.1C591.9 701.5 592.7 697.9 593.9 694.6C595.1 691.3 596.3 688.1 598.0 685.2C599.7 682.3 601.0 679.5 603.9 677.0C606.8 674.5 609.6 672.2 615.6 669.9C621.6 667.5 630.1 666.5 640.0 662.9C649.9 659.3 662.3 652.3 675.0 648.5C687.7 644.7 709.2 641.4 716.0 640.0" fill="none" stroke="#2e6b2e" stroke-width="1.6"/>
<g style="color:#2e6b2e"><use href="#hmc" x="171.0" y="1017.0"/><use href="#hmc" x="173.3" y="1017.0"/><use href="#hmc" x="175.9" y="1017.0"/><use href="#hmc" x="177.2" y="1016.9"/><use href="#hmc" x="178.7" y="1016.9"/><use href="#hmc" x="180.2" y="1016.9"/><use href="#hmc" x="181.7" y="1016.9"/><use href="#hmc" x="183.4" y="1016.9"/><use href="#hmc" x="185.0" y="1016.9"/><use href="#hmc" x="186.7" y="1016.9"/><use href="#hmc" x="188.5" y="1016.8"/><use href="#hmc" x="190.4" y="1016.8"/><use href="#hmc" x="192.2" y="1016.8"/><use href="#hmc" x="194.2" y="1016.8"/><use href="#hmc" x="196.1" y="1016.8"/><use href="#hmc" x="198.1" y="1016.7"/><use href="#hmc" x="200.2" y="1016.7"/><use href="#hmc" x="202.3" y="1016.7"/><use href="#hmc" x="204.4" y="1016.7"/><use href="#hmc" x="206.6" y="1016.7"/><use href="#hmc" x="208.8" y="1016.6"/><use href="#hmc" x="211.0" y="1016.6"/><use href="#hmc" x="213.3" y="1016.6"/><use href="#hmc" x="215.6" y="1016.6"/><use href="#hmc" x="217.9" y="1016.6"/><use href="#hmc" x="220.2" y="1016.5"/><use href="#hmc" x="222.6" y="1016.5"/><use href="#hmc" x="225.0" y="1016.5"/><use href="#hmc" x="227.4" y="1016.5"/><use href="#hmc" x="229.8" y="1016.4"/><use href="#hmc" x="232.2" y="1016.4"/><use href="#hmc" x="234.7" y="1016.4"/><use href="#hmc" x="237.2" y="1016.4"/><use href="#hmc" x="239.6" y="1016.3"/><use href="#hmc" x="242.1" y="1016.3"/><use href="#hmc" x="244.6" y="1016.3"/><use href="#hmc" x="247.1" y="1016.3"/><use href="#hmc" x="249.6" y="1016.3"/><use href="#hmc" x="252.1" y="1016.2"/><use href="#hmc" x="254.7" y="1016.2"/><use href="#hmc" x="257.2" y="1016.2"/><use href="#hmc" x="259.7" y="1016.2"/><use href="#hmc" x="262.2" y="1016.1"/><use href="#hmc" x="264.7" y="1016.1"/><use href="#hmc" x="267.1" y="1016.1"/><use href="#hmc" x="269.6" y="1016.1"/><use href="#hmc" x="272.1" y="1016.0"/><use href="#hmc" x="274.5" y="1016.0"/><use href="#hmc" x="276.9" y="1016.0"/><use href="#hmc" x="279.4" y="1016.0"/><use href="#hmc" x="281.8" y="1016.0"/><use href="#hmc" x="284.1" y="1015.9"/><use href="#hmc" x="286.5" y="1015.9"/><use href="#hmc" x="288.8" y="1015.9"/><use href="#hmc" x="291.1" y="1015.9"/><use href="#hmc" x="293.4" y="1015.9"/><use href="#hmc" x="295.6" y="1015.8"/><use href="#hmc" x="297.8" y="1015.8"/><use href="#hmc" x="300.0" y="1015.8"/><use href="#hmc" x="302.2" y="1015.8"/><use href="#hmc" x="304.3" y="1015.8"/><use href="#hmc" x="306.5" y="1015.7"/><use href="#hmc" x="308.8" y="1015.7"/><use href="#hmc" x="311.0" y="1015.7"/><use href="#hmc" x="313.2" y="1015.7"/><use href="#hmc" x="315.5" y="1015.7"/><use href="#hmc" x="317.7" y="1015.7"/><use href="#hmc" x="320.0" y="1015.7"/><use href="#hmc" x="322.3" y="1015.6"/><use href="#hmc" x="324.6" y="1015.6"/><use href="#hmc" x="326.9" y="1015.6"/><use href="#hmc" x="329.2" y="1015.6"/><use href="#hmc" x="331.5" y="1015.6"/><use href="#hmc" x="333.8" y="1015.6"/><use href="#hmc" x="336.2" y="1015.6"/><use href="#hmc" x="338.5" y="1015.5"/><use href="#hmc" x="340.8" y="1015.5"/><use href="#hmc" x="343.1" y="1015.5"/><use href="#hmc" x="345.5" y="1015.5"/><use href="#hmc" x="347.8" y="1015.5"/><use href="#hmc" x="350.1" y="1015.5"/><use href="#hmc" x="352.5" y="1015.5"/><use href="#hmc" x="354.8" y="1015.4"/><use href="#hmc" x="357.1" y="1015.4"/><use href="#hmc" x="359.5" y="1015.4"/><use href="#hmc" x="361.8" y="1015.4"/><use href="#hmc" x="364.1" y="1015.4"/><use href="#hmc" x="366.4" y="1015.4"/><use href="#hmc" x="368.7" y="1015.4"/><use href="#hmc" x="371.0" y="1015.4"/><use href="#hmc" x="373.3" y="1015.3"/><use href="#hmc" x="375.5" y="1015.3"/><use href="#hmc" x="377.8" y="1015.3"/><use href="#hmc" x="380.0" y="1015.3"/><use href="#hmc" x="382.3" y="1015.3"/><use href="#hmc" x="384.5" y="1015.3"/><use href="#hmc" x="386.7" y="1015.3"/><use href="#hmc" x="388.9" y="1015.2"/><use href="#hmc" x="391.1" y="1015.2"/><use href="#hmc" x="393.2" y="1015.2"/><use href="#hmc" x="395.4" y="1015.2"/><use href="#hmc" x="397.5" y="1015.2"/><use href="#hmc" x="399.6" y="1015.2"/><use href="#hmc" x="401.7" y="1015.1"/><use href="#hmc" x="403.8" y="1015.1"/><use href="#hmc" x="405.8" y="1015.1"/><use href="#hmc" x="407.8" y="1015.1"/><use href="#hmc" x="409.8" y="1015.1"/><use href="#hmc" x="411.8" y="1015.0"/><use href="#hmc" x="413.7" y="1015.0"/><use href="#hmc" x="415.7" y="1015.0"/><use href="#hmc" x="417.6" y="1015.0"/><use href="#hmc" x="419.4" y="1015.0"/><use href="#hmc" x="421.3" y="1014.9"/><use href="#hmc" x="423.1" y="1014.9"/><use href="#hmc" x="424.9" y="1014.9"/><use href="#hmc" x="426.6" y="1014.9"/><use href="#hmc" x="428.3" y="1014.8"/><use href="#hmc" x="430.0" y="1014.8"/><use href="#hmc" x="431.7" y="1014.8"/><use href="#hmc" x="433.3" y="1014.7"/><use href="#hmc" x="434.9" y="1014.7"/><use href="#hmc" x="436.5" y="1014.7"/><use href="#hmc" x="438.0" y="1014.7"/><use href="#hmc" x="439.6" y="1014.6"/><use href="#hmc" x="441.1" y="1014.6"/><use href="#hmc" x="442.6" y="1014.6"/><use href="#hmc" x="444.1" y="1014.5"/><use href="#hmc" x="445.5" y="1014.5"/><use href="#hmc" x="446.9" y="1014.5"/><use href="#hmc" x="448.4" y="1014.4"/><use href="#hmc" x="449.8" y="1014.4"/><use href="#hmc" x="451.1" y="1014.4"/><use href="#hmc" x="452.5" y="1014.3"/><use href="#hmc" x="453.8" y="1014.3"/><use href="#hmc" x="455.1" y="1014.2"/><use href="#hmc" x="456.4" y="1014.2"/><use href="#hmc" x="459.0" y="1014.1"/><use href="#hmc" x="461.5" y="1014.1"/><use href="#hmc" x="463.9" y="1014.0"/><use href="#hmc" x="466.2" y="1013.9"/><use href="#hmc" x="468.5" y="1013.8"/><use href="#hmc" x="470.8" y="1013.7"/><use href="#hmc" x="473.0" y="1013.7"/><use href="#hmc" x="475.1" y="1013.6"/><use href="#hmc" x="477.2" y="1013.5"/><use href="#hmc" x="479.3" y="1013.4"/><use href="#hmc" x="481.3" y="1013.3"/><use href="#hmc" x="483.3" y="1013.2"/><use href="#hmc" x="485.2" y="1013.2"/><use href="#hmc" x="487.2" y="1013.1"/><use href="#hmc" x="489.0" y="1013.0"/><use href="#hmc" x="490.9" y="1012.9"/><use href="#hmc" x="492.8" y="1012.8"/><use href="#hmc" x="494.6" y="1012.7"/><use href="#hmc" x="496.4" y="1012.7"/><use href="#hmc" x="498.2" y="1012.6"/><use href="#hmc" x="500.0" y="1012.5"/><use href="#hmc" x="501.8" y="1012.4"/><use href="#hmc" x="503.5" y="1012.4"/><use href="#hmc" x="505.2" y="1012.3"/><use href="#hmc" x="506.8" y="1012.3"/><use href="#hmc" x="508.4" y="1012.3"/><use href="#hmc" x="510.0" y="1012.2"/><use href="#hmc" x="511.5" y="1012.2"/><use href="#hmc" x="513.0" y="1012.2"/><use href="#hmc" x="514.4" y="1012.2"/><use href="#hmc" x="515.8" y="1012.2"/><use href="#hmc" x="517.2" y="1012.2"/><use href="#hmc" x="518.5" y="1012.2"/><use href="#hmc" x="520.4" y="1012.2"/><use href="#hmc" x="522.3" y="1012.1"/><use href="#hmc" x="524.1" y="1012.1"/><use href="#hmc" x="525.8" y="1012.0"/><use href="#hmc" x="527.4" y="1011.9"/><use href="#hmc" x="529.0" y="1011.8"/><use href="#hmc" x="530.6" y="1011.6"/><use href="#hmc" x="532.0" y="1011.4"/><use href="#hmc" x="533.4" y="1011.1"/><use href="#hmc" x="534.8" y="1010.8"/><use href="#hmc" x="536.1" y="1010.4"/><use href="#hmc" x="537.4" y="1010.0"/><use href="#hmc" x="538.6" y="1009.5"/><use href="#hmc" x="540.0" y="1008.7"/><use href="#hmc" x="541.9" y="1007.3"/><use href="#hmc" x="543.7" y="1005.5"/><use href="#hmc" x="545.3" y="1003.2"/><use href="#hmc" x="547.0" y="1000.1"/><use href="#hmc" x="548.6" y="996.4"/><use href="#hmc" x="550.3" y="993.3"/><use href="#hmc" x="551.9" y="990.1"/><use href="#hmc" x="553.6" y="986.2"/><use href="#hmc" x="555.2" y="981.7"/><use href="#hmc" x="556.9" y="977.3"/><use href="#hmc" x="558.5" y="973.5"/><use href="#hmc" x="560.1" y="968.6"/><use href="#hmc" x="561.7" y="959.4"/><use href="#hmc" x="563.4" y="946.2"/><use href="#hmc" x="565.0" y="931.7"/><use href="#hmc" x="566.7" y="915.7"/><use href="#hmc" x="568.3" y="897.5"/><use href="#hmc" x="569.9" y="881.5"/><use href="#hmc" x="571.5" y="866.9"/><use href="#hmc" x="573.1" y="849.8"/><use href="#hmc" x="574.7" y="835.4"/><use href="#hmc" x="576.3" y="818.5"/><use href="#hmc" x="578.0" y="797.1"/><use href="#hmc" x="579.6" y="776.4"/><use href="#hmc" x="581.2" y="763.7"/><use href="#hmc" x="582.9" y="752.8"/><use href="#hmc" x="584.5" y="740.3"/><use href="#hmc" x="586.1" y="729.2"/><use href="#hmc" x="587.7" y="720.5"/><use href="#hmc" x="589.3" y="712.7"/><use href="#hmc" x="591.0" y="705.3"/><use href="#hmc" x="592.6" y="698.9"/><use href="#hmc" x="594.2" y="693.8"/><use href="#hmc" x="595.8" y="689.6"/><use href="#hmc" x="597.4" y="686.2"/><use href="#hmc" x="599.1" y="683.3"/><use href="#hmc" x="600.7" y="680.7"/><use href="#hmc" x="602.3" y="678.6"/><use href="#hmc" x="604.0" y="676.9"/><use href="#hmc" x="605.7" y="675.5"/><use href="#hmc" x="607.4" y="674.2"/><use href="#hmc" x="609.1" y="673.0"/><use href="#hmc" x="610.3" y="672.3"/><use href="#hmc" x="611.6" y="671.6"/><use href="#hmc" x="612.8" y="671.1"/><use href="#hmc" x="614.2" y="670.5"/><use href="#hmc" x="615.6" y="669.9"/><use href="#hmc" x="616.8" y="669.4"/><use href="#hmc" x="618.1" y="669.0"/><use href="#hmc" x="619.5" y="668.6"/><use href="#hmc" x="620.9" y="668.2"/><use href="#hmc" x="622.4" y="667.8"/><use href="#hmc" x="623.9" y="667.4"/><use href="#hmc" x="625.5" y="667.1"/><use href="#hmc" x="627.2" y="666.7"/><use href="#hmc" x="628.4" y="666.3"/><use href="#hmc" x="629.7" y="666.0"/><use href="#hmc" x="631.1" y="665.7"/><use href="#hmc" x="632.4" y="665.3"/><use href="#hmc" x="633.8" y="664.9"/><use href="#hmc" x="635.2" y="664.5"/><use href="#hmc" x="636.6" y="664.1"/><use href="#hmc" x="638.0" y="663.6"/><use href="#hmc" x="639.5" y="663.1"/><use href="#hmc" x="641.0" y="662.5"/><use href="#hmc" x="642.5" y="661.9"/><use href="#hmc" x="644.1" y="661.3"/><use href="#hmc" x="645.7" y="660.6"/><use href="#hmc" x="647.3" y="659.9"/><use href="#hmc" x="649.0" y="659.2"/><use href="#hmc" x="650.7" y="658.4"/><use href="#hmc" x="652.4" y="657.7"/><use href="#hmc" x="654.1" y="656.9"/><use href="#hmc" x="655.9" y="656.1"/><use href="#hmc" x="657.1" y="655.5"/><use href="#hmc" x="658.3" y="655.0"/><use href="#hmc" x="659.5" y="654.5"/><use href="#hmc" x="660.7" y="653.9"/><use href="#hmc" x="661.9" y="653.4"/><use href="#hmc" x="663.1" y="652.9"/><use href="#hmc" x="664.3" y="652.4"/><use href="#hmc" x="665.6" y="651.9"/><use href="#hmc" x="666.8" y="651.4"/><use href="#hmc" x="668.1" y="650.9"/><use href="#hmc" x="669.3" y="650.4"/><use href="#hmc" x="670.6" y="650.0"/><use href="#hmc" x="671.8" y="649.5"/><use href="#hmc" x="673.1" y="649.1"/><use href="#hmc" x="674.4" y="648.7"/><use href="#hmc" x="675.6" y="648.3"/><use href="#hmc" x="677.0" y="647.9"/><use href="#hmc" x="678.3" y="647.6"/><use href="#hmc" x="679.8" y="647.2"/><use href="#hmc" x="681.2" y="646.8"/><use href="#hmc" x="682.7" y="646.5"/><use href="#hmc" x="684.2" y="646.1"/><use href="#hmc" x="685.8" y="645.8"/><use href="#hmc" x="687.4" y="645.4"/><use href="#hmc" x="688.9" y="645.1"/><use href="#hmc" x="690.5" y="644.8"/><use href="#hmc" x="692.1" y="644.4"/><use href="#hmc" x="693.7" y="644.1"/><use href="#hmc" x="695.3" y="643.8"/><use href="#hmc" x="696.9" y="643.5"/><use href="#hmc" x="698.5" y="643.2"/><use href="#hmc" x="700.0" y="642.9"/><use href="#hmc" x="701.5" y="642.6"/><use href="#hmc" x="703.0" y="642.4"/><use href="#hmc" x="704.4" y="642.1"/><use href="#hmc" x="705.8" y="641.9"/><use href="#hmc" x="707.2" y="641.6"/><use href="#hmc" x="708.5" y="641.4"/><use href="#hmc" x="710.3" y="641.1"/><use href="#hmc" x="712.0" y="640.8"/><use href="#hmc" x="713.5" y="640.5"/><use href="#hmc" x="714.9" y="640.2"/></g>
<g style="color:#6b8e23"><use href="#hmc" x="171.0" y="1016.5"/><use href="#hmc" x="172.4" y="1016.5"/><use href="#hmc" x="174.0" y="1016.5"/><use href="#hmc" x="175.7" y="1016.4"/><use href="#hmc" x="177.6" y="1016.4"/><use href="#hmc" x="179.6" y="1016.4"/><use href="#hmc" x="181.7" y="1016.3"/><use href="#hmc" x="184.0" y="1016.3"/><use href="#hmc" x="186.4" y="1016.3"/><use href="#hmc" x="188.9" y="1016.2"/><use href="#hmc" x="191.4" y="1016.2"/><use href="#hmc" x="192.8" y="1016.2"/><use href="#hmc" x="194.1" y="1016.2"/><use href="#hmc" x="195.5" y="1016.1"/><use href="#hmc" x="196.9" y="1016.1"/><use href="#hmc" x="198.3" y="1016.1"/><use href="#hmc" x="199.7" y="1016.1"/><use href="#hmc" x="201.1" y="1016.0"/><use href="#hmc" x="202.6" y="1016.0"/><use href="#hmc" x="204.0" y="1016.0"/><use href="#hmc" x="205.5" y="1016.0"/><use href="#hmc" x="207.0" y="1016.0"/><use href="#hmc" x="208.5" y="1015.9"/><use href="#hmc" x="210.0" y="1015.9"/><use href="#hmc" x="211.5" y="1015.9"/><use href="#hmc" x="213.0" y="1015.9"/><use href="#hmc" x="214.5" y="1015.8"/><use href="#hmc" x="216.1" y="1015.8"/><use href="#hmc" x="217.6" y="1015.8"/><use href="#hmc" x="219.1" y="1015.8"/><use href="#hmc" x="220.7" y="1015.8"/><use href="#hmc" x="222.2" y="1015.7"/><use href="#hmc" x="223.7" y="1015.7"/><use href="#hmc" x="225.3" y="1015.7"/><use href="#hmc" x="226.8" y="1015.7"/><use href="#hmc" x="228.3" y="1015.6"/><use href="#hmc" x="229.8" y="1015.6"/><use href="#hmc" x="231.4" y="1015.6"/><use href="#hmc" x="232.9" y="1015.6"/><use href="#hmc" x="234.4" y="1015.5"/><use href="#hmc" x="235.9" y="1015.5"/><use href="#hmc" x="237.3" y="1015.5"/><use href="#hmc" x="238.8" y="1015.5"/><use href="#hmc" x="240.3" y="1015.5"/><use href="#hmc" x="241.7" y="1015.4"/><use href="#hmc" x="243.1" y="1015.4"/><use href="#hmc" x="244.5" y="1015.4"/><use href="#hmc" x="245.9" y="1015.4"/><use href="#hmc" x="247.3" y="1015.3"/><use href="#hmc" x="248.7" y="1015.3"/><use href="#hmc" x="250.0" y="1015.3"/><use href="#hmc" x="251.3" y="1015.3"/><use href="#hmc" x="252.7" y="1015.3"/><use href="#hmc" x="254.0" y="1015.2"/><use href="#hmc" x="255.3" y="1015.2"/><use href="#hmc" x="256.7" y="1015.2"/><use href="#hmc" x="258.0" y="1015.2"/><use href="#hmc" x="259.3" y="1015.1"/><use href="#hmc" x="260.7" y="1015.1"/><use href="#hmc" x="262.0" y="1015.1"/><use href="#hmc" x="263.4" y="1015.1"/><use href="#hmc" x="264.7" y="1015.1"/><use href="#hmc" x="266.1" y="1015.0"/><use href="#hmc" x="267.5" y="1015.0"/><use href="#hmc" x="268.8" y="1015.0"/><use href="#hmc" x="270.2" y="1015.0"/><use href="#hmc" x="271.5" y="1014.9"/><use href="#hmc" x="272.9" y="1014.9"/><use href="#hmc" x="274.2" y="1014.9"/><use href="#hmc" x="275.6" y="1014.9"/><use href="#hmc" x="277.0" y="1014.9"/><use href="#hmc" x="278.3" y="1014.8"/><use href="#hmc" x="279.7" y="1014.8"/><use href="#hmc" x="281.0" y="1014.8"/><use href="#hmc" x="282.4" y="1014.8"/><use href="#hmc" x="283.8" y="1014.7"/><use href="#hmc" x="285.1" y="1014.7"/><use href="#hmc" x="286.5" y="1014.7"/><use href="#hmc" x="287.8" y="1014.7"/><use href="#hmc" x="289.2" y="1014.6"/><use href="#hmc" x="290.6" y="1014.6"/><use href="#hmc" x="291.9" y="1014.6"/><use href="#hmc" x="293.3" y="1014.6"/><use href="#hmc" x="294.6" y="1014.5"/><use href="#hmc" x="296.0" y="1014.5"/><use href="#hmc" x="297.3" y="1014.5"/><use href="#hmc" x="298.7" y="1014.5"/><use href="#hmc" x="300.0" y="1014.5"/><use href="#hmc" x="301.4" y="1014.4"/><use href="#hmc" x="302.7" y="1014.4"/><use href="#hmc" x="304.0" y="1014.4"/><use href="#hmc" x="305.4" y="1014.4"/><use href="#hmc" x="306.7" y="1014.3"/><use href="#hmc" x="308.0" y="1014.3"/><use href="#hmc" x="309.4" y="1014.3"/><use href="#hmc" x="310.7" y="1014.3"/><use href="#hmc" x="312.0" y="1014.3"/><use href="#hmc" x="313.3" y="1014.2"/><use href="#hmc" x="314.6" y="1014.2"/><use href="#hmc" x="315.9" y="1014.2"/><use href="#hmc" x="317.2" y="1014.2"/><use href="#hmc" x="319.8" y="1014.1"/><use href="#hmc" x="322.4" y="1014.1"/><use href="#hmc" x="325.0" y="1014.1"/><use href="#hmc" x="327.5" y="1014.0"/><use href="#hmc" x="330.0" y="1014.0"/><use href="#hmc" x="332.5" y="1014.0"/><use href="#hmc" x="335.0" y="1013.9"/><use href="#hmc" x="337.4" y="1013.9"/><use href="#hmc" x="339.9" y="1013.9"/><use href="#hmc" x="342.3" y="1013.9"/><use href="#hmc" x="344.7" y="1013.8"/><use href="#hmc" x="347.1" y="1013.8"/><use href="#hmc" x="349.4" y="1013.8"/><use href="#hmc" x="351.8" y="1013.8"/><use href="#hmc" x="354.2" y="1013.7"/><use href="#hmc" x="356.5" y="1013.7"/><use href="#hmc" x="358.8" y="1013.7"/><use href="#hmc" x="361.1" y="1013.7"/><use href="#hmc" x="363.5" y="1013.7"/><use href="#hmc" x="365.8" y="1013.6"/><use href="#hmc" x="368.1" y="1013.6"/><use href="#hmc" x="370.3" y="1013.6"/><use href="#hmc" x="372.6" y="1013.6"/><use href="#hmc" x="374.9" y="1013.6"/><use href="#hmc" x="377.2" y="1013.5"/><use href="#hmc" x="379.5" y="1013.5"/><use href="#hmc" x="381.7" y="1013.5"/><use href="#hmc" x="384.0" y="1013.5"/><use href="#hmc" x="386.3" y="1013.4"/><use href="#hmc" x="388.6" y="1013.4"/><use href="#hmc" x="390.8" y="1013.4"/><use href="#hmc" x="393.1" y="1013.4"/><use href="#hmc" x="395.4" y="1013.4"/><use href="#hmc" x="397.7" y="1013.3"/><use href="#hmc" x="400.0" y="1013.3"/><use href="#hmc" x="402.3" y="1013.3"/><use href="#hmc" x="404.7" y="1013.3"/><use href="#hmc" x="407.1" y="1013.3"/><use href="#hmc" x="409.5" y="1013.3"/><use href="#hmc" x="411.9" y="1013.3"/><use href="#hmc" x="414.4" y="1013.3"/><use href="#hmc" x="416.9" y="1013.3"/><use href="#hmc" x="419.4" y="1013.3"/><use href="#hmc" x="421.9" y="1013.3"/><use href="#hmc" x="424.4" y="1013.4"/><use href="#hmc" x="426.9" y="1013.4"/><use href="#hmc" x="429.4" y="1013.4"/><use href="#hmc" x="431.8" y="1013.4"/><use href="#hmc" x="434.3" y="1013.4"/><use href="#hmc" x="436.7" y="1013.5"/><use href="#hmc" x="439.2" y="1013.5"/><use href="#hmc" x="441.6" y="1013.5"/><use href="#hmc" x="443.9" y="1013.4"/><use href="#hmc" x="446.2" y="1013.4"/><use href="#hmc" x="448.5" y="1013.4"/><use href="#hmc" x="450.7" y="1013.4"/><use href="#hmc" x="452.9" y="1013.3"/><use href="#hmc" x="455.0" y="1013.2"/><use href="#hmc" x="457.1" y="1013.2"/><use href="#hmc" x="459.1" y="1013.1"/><use href="#hmc" x="461.0" y="1012.9"/><use href="#hmc" x="462.8" y="1012.8"/><use href="#hmc" x="464.6" y="1012.7"/><use href="#hmc" x="466.3" y="1012.5"/><use href="#hmc" x="467.9" y="1012.3"/><use href="#hmc" x="469.4" y="1012.1"/><use href="#hmc" x="470.8" y="1011.9"/><use href="#hmc" x="472.2" y="1011.6"/><use href="#hmc" x="474.1" y="1011.3"/><use href="#hmc" x="475.8" y="1010.9"/><use href="#hmc" x="477.4" y="1010.4"/><use href="#hmc" x="478.8" y="1010.0"/><use href="#hmc" x="480.2" y="1009.5"/><use href="#hmc" x="481.4" y="1009.0"/><use href="#hmc" x="482.9" y="1008.3"/><use href="#hmc" x="484.3" y="1007.6"/><use href="#hmc" x="486.2" y="1006.4"/><use href="#hmc" x="488.3" y="1004.9"/><use href="#hmc" x="490.5" y="1003.2"/><use href="#hmc" x="492.5" y="1001.7"/><use href="#hmc" x="494.7" y="1000.1"/><use href="#hmc" x="496.8" y="998.4"/><use href="#hmc" x="498.9" y="996.6"/><use href="#hmc" x="500.9" y="994.6"/><use href="#hmc" x="502.9" y="992.6"/><use href="#hmc" x="504.8" y="990.5"/><use href="#hmc" x="506.9" y="988.0"/><use href="#hmc" x="508.9" y="985.4"/><use href="#hmc" x="510.8" y="982.8"/><use href="#hmc" x="512.8" y="979.9"/><use href="#hmc" x="514.7" y="976.8"/><use href="#hmc" x="516.6" y="973.2"/><use href="#hmc" x="518.5" y="969.1"/><use href="#hmc" x="520.4" y="964.5"/><use href="#hmc" x="522.4" y="959.7"/><use href="#hmc" x="524.3" y="955.1"/><use href="#hmc" x="526.2" y="950.0"/><use href="#hmc" x="528.1" y="944.6"/><use href="#hmc" x="530.0" y="939.0"/><use href="#hmc" x="531.9" y="933.1"/><use href="#hmc" x="533.8" y="927.1"/><use href="#hmc" x="535.8" y="920.7"/><use href="#hmc" x="537.6" y="914.6"/><use href="#hmc" x="539.5" y="908.2"/><use href="#hmc" x="541.5" y="901.5"/><use href="#hmc" x="543.4" y="894.8"/><use href="#hmc" x="545.3" y="888.5"/><use href="#hmc" x="547.2" y="882.6"/><use href="#hmc" x="549.2" y="876.3"/><use href="#hmc" x="551.2" y="869.7"/><use href="#hmc" x="553.1" y="862.9"/><use href="#hmc" x="555.0" y="854.6"/><use href="#hmc" x="556.9" y="843.7"/><use href="#hmc" x="558.8" y="829.9"/><use href="#hmc" x="560.7" y="814.5"/><use href="#hmc" x="562.5" y="799.0"/><use href="#hmc" x="564.4" y="782.3"/><use href="#hmc" x="566.3" y="768.0"/><use href="#hmc" x="568.1" y="756.2"/><use href="#hmc" x="570.1" y="746.4"/><use href="#hmc" x="571.9" y="737.9"/><use href="#hmc" x="573.8" y="730.1"/><use href="#hmc" x="575.7" y="723.1"/><use href="#hmc" x="577.6" y="716.8"/><use href="#hmc" x="579.5" y="711.4"/><use href="#hmc" x="581.4" y="707.2"/><use href="#hmc" x="583.3" y="703.5"/><use href="#hmc" x="585.2" y="700.1"/><use href="#hmc" x="587.1" y="696.7"/><use href="#hmc" x="589.0" y="693.4"/><use href="#hmc" x="590.9" y="690.3"/><use href="#hmc" x="592.9" y="687.3"/><use href="#hmc" x="594.8" y="684.8"/><use href="#hmc" x="596.7" y="682.4"/><use href="#hmc" x="598.7" y="680.2"/><use href="#hmc" x="600.7" y="678.2"/><use href="#hmc" x="602.7" y="676.7"/><use href="#hmc" x="604.5" y="675.4"/><use href="#hmc" x="605.9" y="674.5"/><use href="#hmc" x="607.1" y="673.8"/><use href="#hmc" x="608.4" y="673.2"/><use href="#hmc" x="609.7" y="672.5"/><use href="#hmc" x="611.0" y="671.8"/><use href="#hmc" x="612.4" y="671.2"/><use href="#hmc" x="613.8" y="670.6"/><use href="#hmc" x="615.3" y="669.9"/><use href="#hmc" x="616.7" y="669.3"/><use href="#hmc" x="618.2" y="668.7"/><use href="#hmc" x="619.7" y="668.1"/><use href="#hmc" x="621.2" y="667.5"/><use href="#hmc" x="622.6" y="667.1"/><use href="#hmc" x="624.1" y="666.6"/><use href="#hmc" x="625.5" y="666.2"/><use href="#hmc" x="627.0" y="665.8"/><use href="#hmc" x="628.5" y="665.4"/><use href="#hmc" x="630.1" y="664.9"/><use href="#hmc" x="631.4" y="664.6"/><use href="#hmc" x="632.8" y="664.1"/><use href="#hmc" x="634.2" y="663.7"/><use href="#hmc" x="635.8" y="663.1"/><use href="#hmc" x="637.4" y="662.5"/><use href="#hmc" x="638.7" y="662.0"/><use href="#hmc" x="640.0" y="661.5"/><use href="#hmc" x="641.4" y="660.9"/><use href="#hmc" x="642.9" y="660.2"/><use href="#hmc" x="644.4" y="659.5"/><use href="#hmc" x="645.9" y="658.8"/><use href="#hmc" x="647.6" y="658.0"/><use href="#hmc" x="649.2" y="657.1"/><use href="#hmc" x="650.9" y="656.3"/><use href="#hmc" x="652.6" y="655.4"/><use href="#hmc" x="653.8" y="654.8"/><use href="#hmc" x="655.0" y="654.2"/><use href="#hmc" x="656.2" y="653.6"/><use href="#hmc" x="657.4" y="653.0"/><use href="#hmc" x="658.6" y="652.4"/><use href="#hmc" x="659.8" y="651.8"/><use href="#hmc" x="661.1" y="651.1"/><use href="#hmc" x="662.3" y="650.5"/><use href="#hmc" x="663.6" y="649.9"/><use href="#hmc" x="664.8" y="649.3"/><use href="#hmc" x="666.1" y="648.8"/><use href="#hmc" x="667.4" y="648.2"/><use href="#hmc" x="668.6" y="647.6"/><use href="#hmc" x="669.9" y="647.1"/><use href="#hmc" x="671.2" y="646.5"/><use href="#hmc" x="672.5" y="646.0"/><use href="#hmc" x="673.7" y="645.5"/><use href="#hmc" x="675.0" y="645.0"/><use href="#hmc" x="676.3" y="644.5"/><use href="#hmc" x="677.6" y="644.0"/><use href="#hmc" x="679.0" y="643.6"/><use href="#hmc" x="680.5" y="643.1"/><use href="#hmc" x="682.0" y="642.6"/><use href="#hmc" x="683.5" y="642.1"/><use href="#hmc" x="685.0" y="641.6"/><use href="#hmc" x="686.6" y="641.2"/><use href="#hmc" x="688.2" y="640.7"/><use href="#hmc" x="689.7" y="640.2"/><use href="#hmc" x="691.3" y="639.8"/><use href="#hmc" x="692.9" y="639.3"/><use href="#hmc" x="694.5" y="638.8"/><use href="#hmc" x="696.1" y="638.4"/><use href="#hmc" x="697.7" y="638.0"/><use href="#hmc" x="699.2" y="637.5"/><use href="#hmc" x="700.8" y="637.1"/><use href="#hmc" x="702.3" y="636.7"/><use href="#hmc" x="703.7" y="636.3"/><use href="#hmc" x="705.1" y="635.9"/><use href="#hmc" x="706.5" y="635.6"/><use href="#hmc" x="707.9" y="635.2"/><use href="#hmc" x="709.1" y="634.9"/><use href="#hmc" x="710.9" y="634.4"/><use href="#hmc" x="712.5" y="634.0"/><use href="#hmc" x="714.0" y="633.6"/><use href="#hmc" x="715.3" y="633.2"/></g>
<g style="color:#e8c020"><use href="#hmc" x="171.0" y="1016.0"/><use href="#hmc" x="172.4" y="1016.0"/><use href="#hmc" x="174.0" y="1015.9"/><use href="#hmc" x="175.7" y="1015.9"/><use href="#hmc" x="177.6" y="1015.9"/><use href="#hmc" x="179.6" y="1015.8"/><use href="#hmc" x="181.7" y="1015.8"/><use href="#hmc" x="184.0" y="1015.8"/><use href="#hmc" x="186.4" y="1015.7"/><use href="#hmc" x="188.9" y="1015.7"/><use href="#hmc" x="191.4" y="1015.6"/><use href="#hmc" x="192.8" y="1015.6"/><use href="#hmc" x="194.1" y="1015.6"/><use href="#hmc" x="195.5" y="1015.5"/><use href="#hmc" x="196.9" y="1015.5"/><use href="#hmc" x="198.3" y="1015.5"/><use href="#hmc" x="199.7" y="1015.5"/><use href="#hmc" x="201.1" y="1015.4"/><use href="#hmc" x="202.6" y="1015.4"/><use href="#hmc" x="204.0" y="1015.4"/><use href="#hmc" x="205.5" y="1015.4"/><use href="#hmc" x="207.0" y="1015.3"/><use href="#hmc" x="208.5" y="1015.3"/><use href="#hmc" x="210.0" y="1015.3"/><use href="#hmc" x="211.5" y="1015.2"/><use href="#hmc" x="213.0" y="1015.2"/><use href="#hmc" x="214.5" y="1015.2"/><use href="#hmc" x="216.1" y="1015.2"/><use href="#hmc" x="217.6" y="1015.1"/><use href="#hmc" x="219.1" y="1015.1"/><use href="#hmc" x="220.7" y="1015.1"/><use href="#hmc" x="222.2" y="1015.0"/><use href="#hmc" x="223.7" y="1015.0"/><use href="#hmc" x="225.3" y="1015.0"/><use href="#hmc" x="226.8" y="1015.0"/><use href="#hmc" x="228.3" y="1014.9"/><use href="#hmc" x="229.8" y="1014.9"/><use href="#hmc" x="231.4" y="1014.9"/><use href="#hmc" x="232.9" y="1014.8"/><use href="#hmc" x="234.4" y="1014.8"/><use href="#hmc" x="235.9" y="1014.8"/><use href="#hmc" x="237.3" y="1014.8"/><use href="#hmc" x="238.8" y="1014.7"/><use href="#hmc" x="240.3" y="1014.7"/><use href="#hmc" x="241.7" y="1014.7"/><use href="#hmc" x="243.1" y="1014.6"/><use href="#hmc" x="244.5" y="1014.6"/><use href="#hmc" x="245.9" y="1014.6"/><use href="#hmc" x="247.3" y="1014.6"/><use href="#hmc" x="248.7" y="1014.5"/><use href="#hmc" x="250.0" y="1014.5"/><use href="#hmc" x="251.3" y="1014.5"/><use href="#hmc" x="252.7" y="1014.4"/><use href="#hmc" x="254.0" y="1014.4"/><use href="#hmc" x="255.3" y="1014.4"/><use href="#hmc" x="256.7" y="1014.4"/><use href="#hmc" x="258.0" y="1014.3"/><use href="#hmc" x="259.3" y="1014.3"/><use href="#hmc" x="260.7" y="1014.3"/><use href="#hmc" x="262.0" y="1014.3"/><use href="#hmc" x="263.4" y="1014.2"/><use href="#hmc" x="264.7" y="1014.2"/><use href="#hmc" x="266.1" y="1014.2"/><use href="#hmc" x="267.5" y="1014.1"/><use href="#hmc" x="268.8" y="1014.1"/><use href="#hmc" x="270.2" y="1014.1"/><use href="#hmc" x="271.5" y="1014.1"/><use href="#hmc" x="272.9" y="1014.0"/><use href="#hmc" x="274.2" y="1014.0"/><use href="#hmc" x="275.6" y="1014.0"/><use href="#hmc" x="277.0" y="1014.0"/><use href="#hmc" x="278.3" y="1013.9"/><use href="#hmc" x="279.7" y="1013.9"/><use href="#hmc" x="281.0" y="1013.9"/><use href="#hmc" x="282.4" y="1013.8"/><use href="#hmc" x="283.8" y="1013.8"/><use href="#hmc" x="285.1" y="1013.8"/><use href="#hmc" x="286.5" y="1013.8"/><use href="#hmc" x="287.8" y="1013.7"/><use href="#hmc" x="289.2" y="1013.7"/><use href="#hmc" x="290.6" y="1013.7"/><use href="#hmc" x="291.9" y="1013.6"/><use href="#hmc" x="293.3" y="1013.6"/><use href="#hmc" x="294.6" y="1013.6"/><use href="#hmc" x="296.0" y="1013.6"/><use href="#hmc" x="297.3" y="1013.5"/><use href="#hmc" x="298.7" y="1013.5"/><use href="#hmc" x="300.0" y="1013.5"/><use href="#hmc" x="301.4" y="1013.4"/><use href="#hmc" x="302.7" y="1013.4"/><use href="#hmc" x="304.0" y="1013.4"/><use href="#hmc" x="305.4" y="1013.4"/><use href="#hmc" x="306.7" y="1013.3"/><use href="#hmc" x="308.0" y="1013.3"/><use href="#hmc" x="309.4" y="1013.3"/><use href="#hmc" x="310.7" y="1013.2"/><use href="#hmc" x="312.0" y="1013.2"/><use href="#hmc" x="313.3" y="1013.2"/><use href="#hmc" x="314.6" y="1013.1"/><use href="#hmc" x="315.9" y="1013.1"/><use href="#hmc" x="317.2" y="1013.1"/><use href="#hmc" x="319.8" y="1013.0"/><use href="#hmc" x="322.4" y="1013.0"/><use href="#hmc" x="325.0" y="1012.9"/><use href="#hmc" x="327.5" y="1012.9"/><use href="#hmc" x="330.0" y="1012.8"/><use href="#hmc" x="332.5" y="1012.7"/><use href="#hmc" x="335.0" y="1012.7"/><use href="#hmc" x="337.4" y="1012.6"/><use href="#hmc" x="339.9" y="1012.6"/><use href="#hmc" x="342.3" y="1012.5"/><use href="#hmc" x="344.7" y="1012.4"/><use href="#hmc" x="347.1" y="1012.4"/><use href="#hmc" x="349.4" y="1012.3"/><use href="#hmc" x="351.8" y="1012.3"/><use href="#hmc" x="354.2" y="1012.2"/><use href="#hmc" x="356.5" y="1012.1"/><use href="#hmc" x="358.8" y="1012.1"/><use href="#hmc" x="361.1" y="1012.0"/><use href="#hmc" x="363.5" y="1011.9"/><use href="#hmc" x="365.8" y="1011.9"/><use href="#hmc" x="368.1" y="1011.8"/><use href="#hmc" x="370.3" y="1011.8"/><use href="#hmc" x="372.6" y="1011.7"/><use href="#hmc" x="374.9" y="1011.6"/><use href="#hmc" x="377.2" y="1011.6"/><use href="#hmc" x="379.5" y="1011.5"/><use href="#hmc" x="381.7" y="1011.5"/><use href="#hmc" x="384.0" y="1011.4"/><use href="#hmc" x="386.3" y="1011.3"/><use href="#hmc" x="388.6" y="1011.3"/><use href="#hmc" x="390.8" y="1011.2"/><use href="#hmc" x="393.1" y="1011.2"/><use href="#hmc" x="395.4" y="1011.1"/><use href="#hmc" x="397.7" y="1011.1"/><use href="#hmc" x="400.0" y="1011.0"/><use href="#hmc" x="402.3" y="1011.0"/><use href="#hmc" x="404.7" y="1010.9"/><use href="#hmc" x="407.1" y="1010.9"/><use href="#hmc" x="409.5" y="1010.9"/><use href="#hmc" x="412.0" y="1010.8"/><use href="#hmc" x="414.5" y="1010.8"/><use href="#hmc" x="417.0" y="1010.8"/><use href="#hmc" x="419.5" y="1010.8"/><use href="#hmc" x="422.1" y="1010.8"/><use href="#hmc" x="424.6" y="1010.8"/><use href="#hmc" x="427.1" y="1010.8"/><use href="#hmc" x="429.7" y="1010.8"/><use href="#hmc" x="432.2" y="1010.8"/><use href="#hmc" x="434.7" y="1010.8"/><use href="#hmc" x="437.1" y="1010.8"/><use href="#hmc" x="439.6" y="1010.8"/><use href="#hmc" x="442.0" y="1010.8"/><use href="#hmc" x="444.4" y="1010.8"/><use href="#hmc" x="446.7" y="1010.7"/><use href="#hmc" x="449.0" y="1010.7"/><use href="#hmc" x="451.2" y="1010.6"/><use href="#hmc" x="453.4" y="1010.6"/><use href="#hmc" x="455.5" y="1010.5"/><use href="#hmc" x="457.5" y="1010.4"/><use href="#hmc" x="459.4" y="1010.3"/><use href="#hmc" x="461.3" y="1010.2"/><use href="#hmc" x="463.1" y="1010.0"/><use href="#hmc" x="464.8" y="1009.9"/><use href="#hmc" x="466.4" y="1009.7"/><use href="#hmc" x="467.9" y="1009.5"/><use href="#hmc" x="469.3" y="1009.3"/><use href="#hmc" x="470.6" y="1009.1"/><use href="#hmc" x="472.4" y="1008.7"/><use href="#hmc" x="473.9" y="1008.3"/><use href="#hmc" x="475.3" y="1008.0"/><use href="#hmc" x="476.9" y="1007.4"/><use href="#hmc" x="478.3" y="1006.8"/><use href="#hmc" x="480.4" y="1005.4"/><use href="#hmc" x="482.6" y="1003.3"/><use href="#hmc" x="484.9" y="1000.7"/><use href="#hmc" x="487.2" y="998.4"/><use href="#hmc" x="489.6" y="996.2"/><use href="#hmc" x="491.9" y="993.8"/><use href="#hmc" x="494.2" y="991.2"/><use href="#hmc" x="496.5" y="988.5"/><use href="#hmc" x="498.7" y="985.6"/><use href="#hmc" x="501.0" y="982.3"/><use href="#hmc" x="503.1" y="978.9"/><use href="#hmc" x="505.2" y="974.9"/><use href="#hmc" x="507.5" y="969.9"/><use href="#hmc" x="509.6" y="964.2"/><use href="#hmc" x="511.7" y="958.1"/><use href="#hmc" x="513.9" y="951.6"/><use href="#hmc" x="516.0" y="944.8"/><use href="#hmc" x="518.2" y="937.0"/><use href="#hmc" x="520.3" y="929.6"/><use href="#hmc" x="522.5" y="922.7"/><use href="#hmc" x="524.6" y="915.9"/><use href="#hmc" x="526.8" y="909.7"/><use href="#hmc" x="528.9" y="903.7"/><use href="#hmc" x="531.1" y="895.0"/><use href="#hmc" x="533.3" y="882.7"/><use href="#hmc" x="535.4" y="868.7"/><use href="#hmc" x="537.6" y="854.6"/><use href="#hmc" x="539.8" y="841.9"/><use href="#hmc" x="541.9" y="829.6"/><use href="#hmc" x="544.1" y="818.3"/><use href="#hmc" x="546.3" y="808.6"/><use href="#hmc" x="548.4" y="800.1"/><use href="#hmc" x="550.6" y="792.3"/><use href="#hmc" x="552.7" y="784.9"/><use href="#hmc" x="554.8" y="777.3"/><use href="#hmc" x="557.0" y="768.7"/><use href="#hmc" x="559.1" y="759.2"/><use href="#hmc" x="561.3" y="749.7"/><use href="#hmc" x="563.5" y="741.4"/><use href="#hmc" x="565.7" y="733.8"/><use href="#hmc" x="567.9" y="727.2"/><use href="#hmc" x="570.0" y="721.3"/><use href="#hmc" x="572.2" y="715.8"/><use href="#hmc" x="574.4" y="710.9"/><use href="#hmc" x="576.6" y="706.4"/><use href="#hmc" x="578.7" y="702.5"/><use href="#hmc" x="580.9" y="698.9"/><use href="#hmc" x="583.1" y="695.5"/><use href="#hmc" x="585.3" y="692.5"/><use href="#hmc" x="587.4" y="689.5"/><use href="#hmc" x="589.6" y="686.6"/><use href="#hmc" x="591.8" y="684.1"/><use href="#hmc" x="594.0" y="682.1"/><use href="#hmc" x="596.2" y="680.4"/><use href="#hmc" x="598.4" y="678.9"/><use href="#hmc" x="600.5" y="677.5"/><use href="#hmc" x="601.8" y="676.8"/><use href="#hmc" x="603.1" y="676.1"/><use href="#hmc" x="604.4" y="675.3"/><use href="#hmc" x="605.8" y="674.6"/><use href="#hmc" x="607.2" y="673.9"/><use href="#hmc" x="608.6" y="673.2"/><use href="#hmc" x="610.1" y="672.5"/><use href="#hmc" x="611.5" y="671.8"/><use href="#hmc" x="613.0" y="671.2"/><use href="#hmc" x="614.5" y="670.5"/><use href="#hmc" x="616.0" y="669.9"/><use href="#hmc" x="617.4" y="669.3"/><use href="#hmc" x="618.9" y="668.7"/><use href="#hmc" x="620.4" y="668.2"/><use href="#hmc" x="621.9" y="667.6"/><use href="#hmc" x="623.4" y="667.1"/><use href="#hmc" x="624.9" y="666.7"/><use href="#hmc" x="626.5" y="666.2"/><use href="#hmc" x="628.0" y="665.7"/><use href="#hmc" x="629.7" y="665.1"/><use href="#hmc" x="630.9" y="664.8"/><use href="#hmc" x="632.2" y="664.3"/><use href="#hmc" x="633.5" y="663.9"/><use href="#hmc" x="634.8" y="663.4"/><use href="#hmc" x="636.2" y="663.0"/><use href="#hmc" x="637.6" y="662.5"/><use href="#hmc" x="639.0" y="661.9"/><use href="#hmc" x="640.5" y="661.3"/><use href="#hmc" x="642.0" y="660.7"/><use href="#hmc" x="643.6" y="660.1"/><use href="#hmc" x="645.2" y="659.4"/><use href="#hmc" x="646.8" y="658.7"/><use href="#hmc" x="648.4" y="657.9"/><use href="#hmc" x="650.1" y="657.2"/><use href="#hmc" x="651.8" y="656.4"/><use href="#hmc" x="653.5" y="655.6"/><use href="#hmc" x="655.3" y="654.8"/><use href="#hmc" x="657.1" y="654.0"/><use href="#hmc" x="658.3" y="653.5"/><use href="#hmc" x="659.5" y="653.0"/><use href="#hmc" x="660.7" y="652.4"/><use href="#hmc" x="661.9" y="651.9"/><use href="#hmc" x="663.1" y="651.4"/><use href="#hmc" x="664.3" y="650.9"/><use href="#hmc" x="665.6" y="650.3"/><use href="#hmc" x="666.8" y="649.8"/><use href="#hmc" x="668.1" y="649.3"/><use href="#hmc" x="669.3" y="648.9"/><use href="#hmc" x="670.6" y="648.4"/><use href="#hmc" x="671.8" y="647.9"/><use href="#hmc" x="673.1" y="647.5"/><use href="#hmc" x="674.4" y="647.0"/><use href="#hmc" x="675.6" y="646.6"/><use href="#hmc" x="677.0" y="646.2"/><use href="#hmc" x="678.3" y="645.8"/><use href="#hmc" x="679.8" y="645.4"/><use href="#hmc" x="681.2" y="644.9"/><use href="#hmc" x="682.7" y="644.5"/><use href="#hmc" x="684.2" y="644.1"/><use href="#hmc" x="685.8" y="643.7"/><use href="#hmc" x="687.4" y="643.3"/><use href="#hmc" x="688.9" y="642.9"/><use href="#hmc" x="690.5" y="642.5"/><use href="#hmc" x="692.1" y="642.1"/><use href="#hmc" x="693.7" y="641.7"/><use href="#hmc" x="695.3" y="641.3"/><use href="#hmc" x="696.9" y="640.9"/><use href="#hmc" x="698.5" y="640.6"/><use href="#hmc" x="700.0" y="640.2"/><use href="#hmc" x="701.5" y="639.9"/><use href="#hmc" x="703.0" y="639.5"/><use href="#hmc" x="704.4" y="639.2"/><use href="#hmc" x="705.8" y="638.9"/><use href="#hmc" x="707.2" y="638.5"/><use href="#hmc" x="708.5" y="638.3"/><use href="#hmc" x="710.3" y="637.8"/><use href="#hmc" x="712.0" y="637.4"/><use href="#hmc" x="713.5" y="637.1"/><use href="#hmc" x="714.9" y="636.8"/></g>
<g style="color:#f0901e"><use href="#hmc" x="171.0" y="1015.5"/><use href="#hmc" x="172.4" y="1015.5"/><use href="#hmc" x="174.0" y="1015.4"/><use href="#hmc" x="175.7" y="1015.4"/><use href="#hmc" x="177.6" y="1015.4"/><use href="#hmc" x="179.6" y="1015.3"/><use href="#hmc" x="181.7" y="1015.3"/><use href="#hmc" x="184.0" y="1015.3"/><use href="#hmc" x="186.4" y="1015.2"/><use href="#hmc" x="188.9" y="1015.2"/><use href="#hmc" x="191.4" y="1015.1"/><use href="#hmc" x="192.8" y="1015.1"/><use href="#hmc" x="194.1" y="1015.1"/><use href="#hmc" x="195.5" y="1015.1"/><use href="#hmc" x="196.9" y="1015.0"/><use href="#hmc" x="198.3" y="1015.0"/><use href="#hmc" x="199.7" y="1015.0"/><use href="#hmc" x="201.1" y="1015.0"/><use href="#hmc" x="202.6" y="1014.9"/><use href="#hmc" x="204.0" y="1014.9"/><use href="#hmc" x="205.5" y="1014.9"/><use href="#hmc" x="207.0" y="1014.8"/><use href="#hmc" x="208.5" y="1014.8"/><use href="#hmc" x="210.0" y="1014.8"/><use href="#hmc" x="211.5" y="1014.8"/><use href="#hmc" x="213.0" y="1014.7"/><use href="#hmc" x="214.5" y="1014.7"/><use href="#hmc" x="216.1" y="1014.7"/><use href="#hmc" x="217.6" y="1014.7"/><use href="#hmc" x="219.1" y="1014.6"/><use href="#hmc" x="220.7" y="1014.6"/><use href="#hmc" x="222.2" y="1014.6"/><use href="#hmc" x="223.7" y="1014.5"/><use href="#hmc" x="225.3" y="1014.5"/><use href="#hmc" x="226.8" y="1014.5"/><use href="#hmc" x="228.3" y="1014.4"/><use href="#hmc" x="229.8" y="1014.4"/><use href="#hmc" x="231.4" y="1014.4"/><use href="#hmc" x="232.9" y="1014.4"/><use href="#hmc" x="234.4" y="1014.3"/><use href="#hmc" x="235.9" y="1014.3"/><use href="#hmc" x="237.3" y="1014.3"/><use href="#hmc" x="238.8" y="1014.2"/><use href="#hmc" x="240.3" y="1014.2"/><use href="#hmc" x="241.7" y="1014.2"/><use href="#hmc" x="243.1" y="1014.1"/><use href="#hmc" x="244.5" y="1014.1"/><use href="#hmc" x="245.9" y="1014.1"/><use href="#hmc" x="247.3" y="1014.1"/><use href="#hmc" x="248.7" y="1014.0"/><use href="#hmc" x="250.0" y="1014.0"/><use href="#hmc" x="251.3" y="1014.0"/><use href="#hmc" x="252.7" y="1013.9"/><use href="#hmc" x="254.0" y="1013.9"/><use href="#hmc" x="255.3" y="1013.9"/><use href="#hmc" x="256.7" y="1013.9"/><use href="#hmc" x="258.0" y="1013.8"/><use href="#hmc" x="259.3" y="1013.8"/><use href="#hmc" x="260.7" y="1013.8"/><use href="#hmc" x="262.0" y="1013.7"/><use href="#hmc" x="263.4" y="1013.7"/><use href="#hmc" x="264.7" y="1013.7"/><use href="#hmc" x="266.1" y="1013.6"/><use href="#hmc" x="267.5" y="1013.6"/><use href="#hmc" x="268.8" y="1013.6"/><use href="#hmc" x="270.2" y="1013.5"/><use href="#hmc" x="271.5" y="1013.5"/><use href="#hmc" x="272.9" y="1013.5"/><use href="#hmc" x="274.2" y="1013.5"/><use href="#hmc" x="275.6" y="1013.4"/><use href="#hmc" x="277.0" y="1013.4"/><use href="#hmc" x="278.3" y="1013.4"/><use href="#hmc" x="279.7" y="1013.3"/><use href="#hmc" x="281.0" y="1013.3"/><use href="#hmc" x="282.4" y="1013.3"/><use href="#hmc" x="283.8" y="1013.2"/><use href="#hmc" x="285.1" y="1013.2"/><use href="#hmc" x="286.5" y="1013.2"/><use href="#hmc" x="287.8" y="1013.1"/><use href="#hmc" x="289.2" y="1013.1"/><use href="#hmc" x="290.6" y="1013.1"/><use href="#hmc" x="291.9" y="1013.0"/><use href="#hmc" x="293.3" y="1013.0"/><use href="#hmc" x="294.6" y="1013.0"/><use href="#hmc" x="296.0" y="1012.9"/><use href="#hmc" x="297.3" y="1012.9"/><use href="#hmc" x="298.7" y="1012.9"/><use href="#hmc" x="300.0" y="1012.8"/><use href="#hmc" x="301.4" y="1012.8"/><use href="#hmc" x="302.7" y="1012.8"/><use href="#hmc" x="304.0" y="1012.7"/><use href="#hmc" x="305.4" y="1012.7"/><use href="#hmc" x="306.7" y="1012.7"/><use href="#hmc" x="308.0" y="1012.6"/><use href="#hmc" x="309.4" y="1012.6"/><use href="#hmc" x="310.7" y="1012.5"/><use href="#hmc" x="312.0" y="1012.5"/><use href="#hmc" x="313.3" y="1012.5"/><use href="#hmc" x="314.6" y="1012.4"/><use href="#hmc" x="315.9" y="1012.4"/><use href="#hmc" x="317.2" y="1012.4"/><use href="#hmc" x="319.8" y="1012.3"/><use href="#hmc" x="322.4" y="1012.2"/><use href="#hmc" x="325.0" y="1012.1"/><use href="#hmc" x="327.5" y="1012.1"/><use href="#hmc" x="330.0" y="1012.0"/><use href="#hmc" x="332.5" y="1011.9"/><use href="#hmc" x="335.0" y="1011.8"/><use href="#hmc" x="337.4" y="1011.8"/><use href="#hmc" x="339.9" y="1011.7"/><use href="#hmc" x="342.3" y="1011.6"/><use href="#hmc" x="344.8" y="1011.5"/><use href="#hmc" x="347.2" y="1011.5"/><use href="#hmc" x="349.6" y="1011.4"/><use href="#hmc" x="352.0" y="1011.3"/><use href="#hmc" x="354.4" y="1011.2"/><use href="#hmc" x="356.8" y="1011.1"/><use href="#hmc" x="359.1" y="1011.1"/><use href="#hmc" x="361.5" y="1011.0"/><use href="#hmc" x="363.8" y="1010.9"/><use href="#hmc" x="366.1" y="1010.8"/><use href="#hmc" x="368.5" y="1010.7"/><use href="#hmc" x="370.8" y="1010.7"/><use href="#hmc" x="373.1" y="1010.6"/><use href="#hmc" x="375.4" y="1010.5"/><use href="#hmc" x="377.7" y="1010.4"/><use href="#hmc" x="379.9" y="1010.3"/><use href="#hmc" x="382.2" y="1010.2"/><use href="#hmc" x="384.5" y="1010.1"/><use href="#hmc" x="386.7" y="1010.1"/><use href="#hmc" x="388.9" y="1010.0"/><use href="#hmc" x="391.2" y="1009.9"/><use href="#hmc" x="393.4" y="1009.8"/><use href="#hmc" x="395.6" y="1009.7"/><use href="#hmc" x="397.8" y="1009.6"/><use href="#hmc" x="400.0" y="1009.5"/><use href="#hmc" x="402.2" y="1009.4"/><use href="#hmc" x="404.4" y="1009.3"/><use href="#hmc" x="406.7" y="1009.3"/><use href="#hmc" x="409.0" y="1009.2"/><use href="#hmc" x="411.2" y="1009.1"/><use href="#hmc" x="413.5" y="1009.1"/><use href="#hmc" x="415.8" y="1009.0"/><use href="#hmc" x="418.1" y="1008.9"/><use href="#hmc" x="420.4" y="1008.9"/><use href="#hmc" x="422.7" y="1008.8"/><use href="#hmc" x="425.0" y="1008.8"/><use href="#hmc" x="427.3" y="1008.7"/><use href="#hmc" x="429.5" y="1008.7"/><use href="#hmc" x="431.8" y="1008.6"/><use href="#hmc" x="434.0" y="1008.5"/><use href="#hmc" x="436.2" y="1008.5"/><use href="#hmc" x="438.3" y="1008.4"/><use href="#hmc" x="440.4" y="1008.3"/><use href="#hmc" x="442.5" y="1008.2"/><use href="#hmc" x="444.5" y="1008.1"/><use href="#hmc" x="446.5" y="1008.0"/><use href="#hmc" x="448.4" y="1007.9"/><use href="#hmc" x="450.3" y="1007.7"/><use href="#hmc" x="452.1" y="1007.6"/><use href="#hmc" x="453.9" y="1007.4"/><use href="#hmc" x="455.6" y="1007.2"/><use href="#hmc" x="457.2" y="1007.0"/><use href="#hmc" x="458.7" y="1006.8"/><use href="#hmc" x="460.2" y="1006.6"/><use href="#hmc" x="461.6" y="1006.3"/><use href="#hmc" x="462.9" y="1006.0"/><use href="#hmc" x="464.7" y="1005.6"/><use href="#hmc" x="466.3" y="1005.2"/><use href="#hmc" x="467.8" y="1004.7"/><use href="#hmc" x="469.1" y="1004.2"/><use href="#hmc" x="470.6" y="1003.5"/><use href="#hmc" x="472.9" y="1002.1"/><use href="#hmc" x="475.1" y="1000.2"/><use href="#hmc" x="477.3" y="997.6"/><use href="#hmc" x="479.6" y="994.7"/><use href="#hmc" x="481.9" y="992.1"/><use href="#hmc" x="484.1" y="989.2"/><use href="#hmc" x="486.3" y="985.6"/><use href="#hmc" x="488.5" y="981.5"/><use href="#hmc" x="490.7" y="977.3"/><use href="#hmc" x="492.8" y="972.8"/><use href="#hmc" x="495.1" y="968.1"/><use href="#hmc" x="497.3" y="963.1"/><use href="#hmc" x="499.4" y="957.7"/><use href="#hmc" x="501.5" y="952.1"/><use href="#hmc" x="503.7" y="946.0"/><use href="#hmc" x="505.9" y="939.6"/><use href="#hmc" x="508.0" y="932.9"/><use href="#hmc" x="510.1" y="926.2"/><use href="#hmc" x="512.3" y="919.1"/><use href="#hmc" x="514.4" y="911.8"/><use href="#hmc" x="516.6" y="904.6"/><use href="#hmc" x="518.7" y="896.9"/><use href="#hmc" x="520.9" y="888.0"/><use href="#hmc" x="523.1" y="877.6"/><use href="#hmc" x="525.2" y="867.5"/><use href="#hmc" x="527.3" y="857.8"/><use href="#hmc" x="529.6" y="848.0"/><use href="#hmc" x="531.8" y="838.2"/><use href="#hmc" x="534.0" y="828.3"/><use href="#hmc" x="536.1" y="819.2"/><use href="#hmc" x="538.4" y="809.8"/><use href="#hmc" x="540.6" y="800.8"/><use href="#hmc" x="542.8" y="791.9"/><use href="#hmc" x="544.9" y="783.5"/><use href="#hmc" x="547.1" y="775.3"/><use href="#hmc" x="549.3" y="767.1"/><use href="#hmc" x="551.4" y="759.6"/><use href="#hmc" x="553.6" y="752.4"/><use href="#hmc" x="555.7" y="745.2"/><use href="#hmc" x="557.8" y="738.4"/><use href="#hmc" x="560.0" y="731.8"/><use href="#hmc" x="562.2" y="726.1"/><use href="#hmc" x="564.3" y="720.7"/><use href="#hmc" x="566.5" y="715.5"/><use href="#hmc" x="568.6" y="710.9"/><use href="#hmc" x="570.8" y="706.6"/><use href="#hmc" x="573.0" y="702.9"/><use href="#hmc" x="575.2" y="699.4"/><use href="#hmc" x="577.3" y="696.3"/><use href="#hmc" x="579.5" y="693.4"/><use href="#hmc" x="581.6" y="690.8"/><use href="#hmc" x="583.8" y="688.3"/><use href="#hmc" x="586.0" y="686.2"/><use href="#hmc" x="588.2" y="684.2"/><use href="#hmc" x="590.5" y="682.2"/><use href="#hmc" x="592.9" y="680.4"/><use href="#hmc" x="595.0" y="678.8"/><use href="#hmc" x="597.2" y="677.3"/><use href="#hmc" x="599.4" y="675.9"/><use href="#hmc" x="600.7" y="675.1"/><use href="#hmc" x="602.1" y="674.4"/><use href="#hmc" x="603.4" y="673.7"/><use href="#hmc" x="604.8" y="673.0"/><use href="#hmc" x="606.2" y="672.3"/><use href="#hmc" x="607.7" y="671.7"/><use href="#hmc" x="609.1" y="671.1"/><use href="#hmc" x="610.4" y="670.5"/><use href="#hmc" x="611.6" y="670.0"/><use href="#hmc" x="612.9" y="669.5"/><use href="#hmc" x="614.2" y="669.0"/><use href="#hmc" x="615.6" y="668.4"/><use href="#hmc" x="617.0" y="667.9"/><use href="#hmc" x="618.4" y="667.3"/><use href="#hmc" x="619.9" y="666.8"/><use href="#hmc" x="621.3" y="666.3"/><use href="#hmc" x="622.8" y="665.8"/><use href="#hmc" x="624.4" y="665.3"/><use href="#hmc" x="625.9" y="664.8"/><use href="#hmc" x="627.5" y="664.3"/><use href="#hmc" x="629.2" y="663.7"/><use href="#hmc" x="630.4" y="663.3"/><use href="#hmc" x="631.7" y="662.9"/><use href="#hmc" x="633.0" y="662.4"/><use href="#hmc" x="634.3" y="662.0"/><use href="#hmc" x="635.7" y="661.5"/><use href="#hmc" x="637.1" y="661.0"/><use href="#hmc" x="638.5" y="660.5"/><use href="#hmc" x="640.0" y="660.0"/><use href="#hmc" x="641.5" y="659.4"/><use href="#hmc" x="643.0" y="658.8"/><use href="#hmc" x="644.6" y="658.2"/><use href="#hmc" x="646.2" y="657.5"/><use href="#hmc" x="647.9" y="656.8"/><use href="#hmc" x="649.5" y="656.1"/><use href="#hmc" x="651.2" y="655.4"/><use href="#hmc" x="652.9" y="654.7"/><use href="#hmc" x="654.7" y="653.9"/><use href="#hmc" x="656.5" y="653.2"/><use href="#hmc" x="658.3" y="652.5"/><use href="#hmc" x="659.5" y="652.0"/><use href="#hmc" x="660.7" y="651.5"/><use href="#hmc" x="661.9" y="651.0"/><use href="#hmc" x="663.1" y="650.5"/><use href="#hmc" x="664.3" y="650.0"/><use href="#hmc" x="665.6" y="649.6"/><use href="#hmc" x="666.8" y="649.1"/><use href="#hmc" x="668.1" y="648.6"/><use href="#hmc" x="669.3" y="648.2"/><use href="#hmc" x="670.6" y="647.7"/><use href="#hmc" x="671.8" y="647.3"/><use href="#hmc" x="673.1" y="646.9"/><use href="#hmc" x="674.4" y="646.5"/><use href="#hmc" x="675.6" y="646.1"/><use href="#hmc" x="677.0" y="645.7"/><use href="#hmc" x="678.3" y="645.3"/><use href="#hmc" x="679.8" y="644.9"/><use href="#hmc" x="681.2" y="644.5"/><use href="#hmc" x="682.7" y="644.1"/><use href="#hmc" x="684.2" y="643.7"/><use href="#hmc" x="685.8" y="643.3"/><use href="#hmc" x="687.4" y="643.0"/><use href="#hmc" x="688.9" y="642.6"/><use href="#hmc" x="690.5" y="642.2"/><use href="#hmc" x="692.1" y="641.8"/><use href="#hmc" x="693.7" y="641.4"/><use href="#hmc" x="695.3" y="641.1"/><use href="#hmc" x="696.9" y="640.7"/><use href="#hmc" x="698.5" y="640.4"/><use href="#hmc" x="700.0" y="640.0"/><use href="#hmc" x="701.5" y="639.7"/><use href="#hmc" x="703.0" y="639.4"/><use href="#hmc" x="704.4" y="639.0"/><use href="#hmc" x="705.8" y="638.7"/><use href="#hmc" x="707.2" y="638.4"/><use href="#hmc" x="708.5" y="638.2"/><use href="#hmc" x="710.3" y="637.8"/><use href="#hmc" x="712.0" y="637.4"/><use href="#hmc" x="713.5" y="637.1"/><use href="#hmc" x="714.9" y="636.8"/></g>
<g style="color:#f83820"><use href="#hmc" x="171.0" y="1015.0"/><use href="#hmc" x="172.4" y="1015.0"/><use href="#hmc" x="174.0" y="1014.9"/><use href="#hmc" x="175.7" y="1014.9"/><use href="#hmc" x="177.6" y="1014.9"/><use href="#hmc" x="179.6" y="1014.8"/><use href="#hmc" x="181.7" y="1014.8"/><use href="#hmc" x="184.0" y="1014.7"/><use href="#hmc" x="186.4" y="1014.7"/><use href="#hmc" x="188.9" y="1014.6"/><use href="#hmc" x="191.4" y="1014.6"/><use href="#hmc" x="192.8" y="1014.5"/><use href="#hmc" x="194.1" y="1014.5"/><use href="#hmc" x="195.5" y="1014.5"/><use href="#hmc" x="196.9" y="1014.4"/><use href="#hmc" x="198.3" y="1014.4"/><use href="#hmc" x="199.7" y="1014.4"/><use href="#hmc" x="201.1" y="1014.4"/><use href="#hmc" x="202.6" y="1014.3"/><use href="#hmc" x="204.0" y="1014.3"/><use href="#hmc" x="205.5" y="1014.3"/><use href="#hmc" x="207.0" y="1014.2"/><use href="#hmc" x="208.5" y="1014.2"/><use href="#hmc" x="210.0" y="1014.2"/><use href="#hmc" x="211.5" y="1014.1"/><use href="#hmc" x="213.0" y="1014.1"/><use href="#hmc" x="214.5" y="1014.1"/><use href="#hmc" x="216.1" y="1014.0"/><use href="#hmc" x="217.6" y="1014.0"/><use href="#hmc" x="219.1" y="1014.0"/><use href="#hmc" x="220.7" y="1013.9"/><use href="#hmc" x="222.2" y="1013.9"/><use href="#hmc" x="223.7" y="1013.8"/><use href="#hmc" x="225.3" y="1013.8"/><use href="#hmc" x="226.8" y="1013.8"/><use href="#hmc" x="228.3" y="1013.7"/><use href="#hmc" x="229.8" y="1013.7"/><use href="#hmc" x="231.4" y="1013.7"/><use href="#hmc" x="232.9" y="1013.6"/><use href="#hmc" x="234.4" y="1013.6"/><use href="#hmc" x="235.9" y="1013.6"/><use href="#hmc" x="237.3" y="1013.5"/><use href="#hmc" x="238.8" y="1013.5"/><use href="#hmc" x="240.3" y="1013.5"/><use href="#hmc" x="241.7" y="1013.4"/><use href="#hmc" x="243.1" y="1013.4"/><use href="#hmc" x="244.5" y="1013.3"/><use href="#hmc" x="245.9" y="1013.3"/><use href="#hmc" x="247.3" y="1013.3"/><use href="#hmc" x="248.7" y="1013.2"/><use href="#hmc" x="250.0" y="1013.2"/><use href="#hmc" x="251.3" y="1013.2"/><use href="#hmc" x="252.7" y="1013.1"/><use href="#hmc" x="254.0" y="1013.1"/><use href="#hmc" x="255.3" y="1013.1"/><use href="#hmc" x="256.7" y="1013.0"/><use href="#hmc" x="258.0" y="1013.0"/><use href="#hmc" x="259.3" y="1012.9"/><use href="#hmc" x="260.7" y="1012.9"/><use href="#hmc" x="262.0" y="1012.9"/><use href="#hmc" x="263.4" y="1012.8"/><use href="#hmc" x="264.7" y="1012.8"/><use href="#hmc" x="266.1" y="1012.8"/><use href="#hmc" x="267.5" y="1012.7"/><use href="#hmc" x="268.8" y="1012.7"/><use href="#hmc" x="270.2" y="1012.6"/><use href="#hmc" x="271.5" y="1012.6"/><use href="#hmc" x="272.9" y="1012.6"/><use href="#hmc" x="274.2" y="1012.5"/><use href="#hmc" x="275.6" y="1012.5"/><use href="#hmc" x="277.0" y="1012.4"/><use href="#hmc" x="278.3" y="1012.4"/><use href="#hmc" x="279.7" y="1012.4"/><use href="#hmc" x="281.0" y="1012.3"/><use href="#hmc" x="282.4" y="1012.3"/><use href="#hmc" x="283.8" y="1012.2"/><use href="#hmc" x="285.1" y="1012.2"/><use href="#hmc" x="286.5" y="1012.2"/><use href="#hmc" x="287.8" y="1012.1"/><use href="#hmc" x="289.2" y="1012.1"/><use href="#hmc" x="290.6" y="1012.0"/><use href="#hmc" x="291.9" y="1012.0"/><use href="#hmc" x="293.3" y="1011.9"/><use href="#hmc" x="294.6" y="1011.9"/><use href="#hmc" x="296.0" y="1011.9"/><use href="#hmc" x="297.3" y="1011.8"/><use href="#hmc" x="298.7" y="1011.8"/><use href="#hmc" x="300.0" y="1011.7"/><use href="#hmc" x="301.4" y="1011.7"/><use href="#hmc" x="302.7" y="1011.6"/><use href="#hmc" x="304.0" y="1011.6"/><use href="#hmc" x="305.4" y="1011.6"/><use href="#hmc" x="306.7" y="1011.5"/><use href="#hmc" x="308.0" y="1011.5"/><use href="#hmc" x="309.4" y="1011.4"/><use href="#hmc" x="310.7" y="1011.4"/><use href="#hmc" x="312.0" y="1011.3"/><use href="#hmc" x="313.3" y="1011.3"/><use href="#hmc" x="314.6" y="1011.2"/><use href="#hmc" x="315.9" y="1011.2"/><use href="#hmc" x="317.2" y="1011.2"/><use href="#hmc" x="319.8" y="1011.1"/><use href="#hmc" x="322.4" y="1011.0"/><use href="#hmc" x="325.0" y="1010.9"/><use href="#hmc" x="327.5" y="1010.8"/><use href="#hmc" x="330.0" y="1010.7"/><use href="#hmc" x="332.5" y="1010.6"/><use href="#hmc" x="335.0" y="1010.5"/><use href="#hmc" x="337.5" y="1010.4"/><use href="#hmc" x="340.0" y="1010.3"/><use href="#hmc" x="342.5" y="1010.2"/><use href="#hmc" x="345.0" y="1010.1"/><use href="#hmc" x="347.5" y="1010.0"/><use href="#hmc" x="350.0" y="1009.9"/><use href="#hmc" x="352.5" y="1009.8"/><use href="#hmc" x="355.0" y="1009.7"/><use href="#hmc" x="357.5" y="1009.6"/><use href="#hmc" x="359.9" y="1009.5"/><use href="#hmc" x="362.4" y="1009.4"/><use href="#hmc" x="364.8" y="1009.3"/><use href="#hmc" x="367.2" y="1009.2"/><use href="#hmc" x="369.6" y="1009.1"/><use href="#hmc" x="371.9" y="1009.0"/><use href="#hmc" x="374.3" y="1008.9"/><use href="#hmc" x="376.6" y="1008.8"/><use href="#hmc" x="378.9" y="1008.7"/><use href="#hmc" x="381.2" y="1008.6"/><use href="#hmc" x="383.4" y="1008.5"/><use href="#hmc" x="385.6" y="1008.4"/><use href="#hmc" x="387.8" y="1008.3"/><use href="#hmc" x="389.9" y="1008.2"/><use href="#hmc" x="392.0" y="1008.1"/><use href="#hmc" x="394.1" y="1008.0"/><use href="#hmc" x="396.1" y="1007.9"/><use href="#hmc" x="398.1" y="1007.8"/><use href="#hmc" x="400.0" y="1007.7"/><use href="#hmc" x="401.9" y="1007.6"/><use href="#hmc" x="403.8" y="1007.5"/><use href="#hmc" x="405.6" y="1007.4"/><use href="#hmc" x="407.4" y="1007.3"/><use href="#hmc" x="409.2" y="1007.2"/><use href="#hmc" x="410.9" y="1007.2"/><use href="#hmc" x="412.6" y="1007.1"/><use href="#hmc" x="414.3" y="1007.0"/><use href="#hmc" x="416.0" y="1006.9"/><use href="#hmc" x="417.6" y="1006.8"/><use href="#hmc" x="419.2" y="1006.8"/><use href="#hmc" x="420.8" y="1006.7"/><use href="#hmc" x="422.3" y="1006.6"/><use href="#hmc" x="423.8" y="1006.5"/><use href="#hmc" x="425.3" y="1006.4"/><use href="#hmc" x="426.8" y="1006.4"/><use href="#hmc" x="428.2" y="1006.3"/><use href="#hmc" x="429.6" y="1006.2"/><use href="#hmc" x="431.0" y="1006.1"/><use href="#hmc" x="432.4" y="1006.0"/><use href="#hmc" x="433.8" y="1005.9"/><use href="#hmc" x="435.1" y="1005.7"/><use href="#hmc" x="436.4" y="1005.6"/><use href="#hmc" x="438.3" y="1005.4"/><use href="#hmc" x="440.2" y="1005.2"/><use href="#hmc" x="442.0" y="1005.0"/><use href="#hmc" x="443.8" y="1004.7"/><use href="#hmc" x="445.6" y="1004.4"/><use href="#hmc" x="447.3" y="1004.1"/><use href="#hmc" x="448.9" y="1003.8"/><use href="#hmc" x="450.4" y="1003.5"/><use href="#hmc" x="451.9" y="1003.2"/><use href="#hmc" x="453.3" y="1002.9"/><use href="#hmc" x="454.7" y="1002.6"/><use href="#hmc" x="456.0" y="1002.3"/><use href="#hmc" x="457.3" y="1002.0"/><use href="#hmc" x="458.9" y="1001.5"/><use href="#hmc" x="460.5" y="1001.0"/><use href="#hmc" x="462.0" y="1000.4"/><use href="#hmc" x="463.4" y="999.8"/><use href="#hmc" x="464.9" y="999.1"/><use href="#hmc" x="466.2" y="998.4"/><use href="#hmc" x="468.6" y="996.9"/><use href="#hmc" x="471.0" y="995.2"/><use href="#hmc" x="473.3" y="993.2"/><use href="#hmc" x="475.7" y="990.6"/><use href="#hmc" x="477.9" y="987.7"/><use href="#hmc" x="480.3" y="984.3"/><use href="#hmc" x="482.7" y="980.5"/><use href="#hmc" x="484.9" y="976.8"/><use href="#hmc" x="487.2" y="973.0"/><use href="#hmc" x="489.5" y="968.6"/><use href="#hmc" x="491.7" y="963.6"/><use href="#hmc" x="494.0" y="957.7"/><use href="#hmc" x="496.3" y="951.3"/><use href="#hmc" x="498.5" y="944.0"/><use href="#hmc" x="500.7" y="936.0"/><use href="#hmc" x="502.9" y="928.5"/><use href="#hmc" x="505.2" y="920.7"/><use href="#hmc" x="507.4" y="910.7"/><use href="#hmc" x="509.6" y="897.4"/><use href="#hmc" x="512.0" y="887.5"/><use href="#hmc" x="514.3" y="878.8"/><use href="#hmc" x="516.5" y="870.6"/><use href="#hmc" x="518.8" y="861.7"/><use href="#hmc" x="521.0" y="852.3"/><use href="#hmc" x="523.3" y="842.0"/><use href="#hmc" x="525.6" y="831.3"/><use href="#hmc" x="527.9" y="821.4"/><use href="#hmc" x="530.2" y="812.7"/><use href="#hmc" x="532.5" y="804.7"/><use href="#hmc" x="534.8" y="797.4"/><use href="#hmc" x="537.1" y="790.3"/><use href="#hmc" x="539.3" y="783.5"/><use href="#hmc" x="541.7" y="776.0"/><use href="#hmc" x="544.0" y="768.1"/><use href="#hmc" x="546.2" y="759.7"/><use href="#hmc" x="548.5" y="751.0"/><use href="#hmc" x="550.8" y="743.1"/><use href="#hmc" x="553.0" y="735.6"/><use href="#hmc" x="555.2" y="728.8"/><use href="#hmc" x="557.6" y="722.6"/><use href="#hmc" x="559.8" y="717.0"/><use href="#hmc" x="562.0" y="712.0"/><use href="#hmc" x="564.3" y="707.2"/><use href="#hmc" x="566.6" y="703.1"/><use href="#hmc" x="568.8" y="699.4"/><use href="#hmc" x="571.2" y="695.9"/><use href="#hmc" x="573.5" y="692.8"/><use href="#hmc" x="575.8" y="689.8"/><use href="#hmc" x="578.0" y="687.2"/><use href="#hmc" x="580.3" y="684.6"/><use href="#hmc" x="582.6" y="682.2"/><use href="#hmc" x="585.0" y="679.8"/><use href="#hmc" x="587.3" y="677.8"/><use href="#hmc" x="589.7" y="676.0"/><use href="#hmc" x="592.0" y="674.5"/><use href="#hmc" x="593.4" y="673.7"/><use href="#hmc" x="594.7" y="673.0"/><use href="#hmc" x="596.1" y="672.3"/><use href="#hmc" x="597.4" y="671.6"/><use href="#hmc" x="598.9" y="671.0"/><use href="#hmc" x="600.3" y="670.4"/><use href="#hmc" x="601.8" y="669.7"/><use href="#hmc" x="603.3" y="669.1"/><use href="#hmc" x="604.5" y="668.6"/><use href="#hmc" x="605.7" y="668.1"/><use href="#hmc" x="607.0" y="667.6"/><use href="#hmc" x="608.2" y="667.1"/><use href="#hmc" x="609.7" y="666.6"/><use href="#hmc" x="611.1" y="666.0"/><use href="#hmc" x="612.5" y="665.5"/><use href="#hmc" x="613.9" y="665.0"/><use href="#hmc" x="615.3" y="664.5"/><use href="#hmc" x="616.6" y="664.1"/><use href="#hmc" x="617.9" y="663.6"/><use href="#hmc" x="619.3" y="663.2"/><use href="#hmc" x="620.8" y="662.7"/><use href="#hmc" x="622.1" y="662.3"/><use href="#hmc" x="623.4" y="661.9"/><use href="#hmc" x="624.8" y="661.4"/><use href="#hmc" x="626.4" y="660.9"/><use href="#hmc" x="628.0" y="660.4"/><use href="#hmc" x="629.8" y="659.9"/><use href="#hmc" x="631.0" y="659.5"/><use href="#hmc" x="632.3" y="659.1"/><use href="#hmc" x="633.7" y="658.6"/><use href="#hmc" x="635.1" y="658.2"/><use href="#hmc" x="636.6" y="657.7"/><use href="#hmc" x="638.1" y="657.3"/><use href="#hmc" x="639.6" y="656.8"/><use href="#hmc" x="641.2" y="656.3"/><use href="#hmc" x="642.8" y="655.8"/><use href="#hmc" x="644.4" y="655.3"/><use href="#hmc" x="646.0" y="654.8"/><use href="#hmc" x="647.7" y="654.3"/><use href="#hmc" x="649.4" y="653.8"/><use href="#hmc" x="651.1" y="653.2"/><use href="#hmc" x="652.8" y="652.7"/><use href="#hmc" x="654.5" y="652.2"/><use href="#hmc" x="656.2" y="651.7"/><use href="#hmc" x="658.0" y="651.2"/><use href="#hmc" x="659.7" y="650.7"/><use href="#hmc" x="661.4" y="650.2"/><use href="#hmc" x="663.1" y="649.7"/><use href="#hmc" x="664.7" y="649.2"/><use href="#hmc" x="666.4" y="648.8"/><use href="#hmc" x="668.0" y="648.3"/><use href="#hmc" x="669.6" y="647.9"/><use href="#hmc" x="671.2" y="647.4"/><use href="#hmc" x="672.8" y="647.0"/><use href="#hmc" x="674.3" y="646.6"/><use href="#hmc" x="675.7" y="646.2"/><use href="#hmc" x="677.2" y="645.9"/><use href="#hmc" x="678.8" y="645.5"/><use href="#hmc" x="680.3" y="645.1"/><use href="#hmc" x="681.9" y="644.8"/><use href="#hmc" x="683.4" y="644.4"/><use href="#hmc" x="685.0" y="644.0"/><use href="#hmc" x="686.6" y="643.7"/><use href="#hmc" x="688.2" y="643.3"/><use href="#hmc" x="689.8" y="643.0"/><use href="#hmc" x="691.4" y="642.7"/><use href="#hmc" x="693.0" y="642.3"/><use href="#hmc" x="694.6" y="642.0"/><use href="#hmc" x="696.1" y="641.7"/><use href="#hmc" x="697.7" y="641.4"/><use href="#hmc" x="699.2" y="641.1"/><use href="#hmc" x="700.7" y="640.8"/><use href="#hmc" x="702.1" y="640.5"/><use href="#hmc" x="703.5" y="640.2"/><use href="#hmc" x="704.9" y="640.0"/><use href="#hmc" x="706.3" y="639.7"/><use href="#hmc" x="707.5" y="639.5"/><use href="#hmc" x="709.4" y="639.1"/><use href="#hmc" x="711.1" y="638.8"/><use href="#hmc" x="712.6" y="638.5"/><use href="#hmc" x="714.0" y="638.2"/><use href="#hmc" x="715.6" y="637.9"/></g>
<g style="color:#ff1020"><use href="#hmc" x="171.0" y="1014.5"/><use href="#hmc" x="172.4" y="1014.5"/><use href="#hmc" x="174.0" y="1014.4"/><use href="#hmc" x="175.7" y="1014.4"/><use href="#hmc" x="177.6" y="1014.3"/><use href="#hmc" x="179.6" y="1014.3"/><use href="#hmc" x="181.7" y="1014.2"/><use href="#hmc" x="184.0" y="1014.2"/><use href="#hmc" x="186.4" y="1014.1"/><use href="#hmc" x="188.9" y="1014.1"/><use href="#hmc" x="191.4" y="1014.0"/><use href="#hmc" x="192.8" y="1014.0"/><use href="#hmc" x="194.1" y="1014.0"/><use href="#hmc" x="195.5" y="1013.9"/><use href="#hmc" x="196.9" y="1013.9"/><use href="#hmc" x="198.3" y="1013.9"/><use href="#hmc" x="199.7" y="1013.8"/><use href="#hmc" x="201.1" y="1013.8"/><use href="#hmc" x="202.6" y="1013.8"/><use href="#hmc" x="204.0" y="1013.7"/><use href="#hmc" x="205.5" y="1013.7"/><use href="#hmc" x="207.0" y="1013.7"/><use href="#hmc" x="208.5" y="1013.6"/><use href="#hmc" x="210.0" y="1013.6"/><use href="#hmc" x="211.5" y="1013.5"/><use href="#hmc" x="213.0" y="1013.5"/><use href="#hmc" x="214.5" y="1013.5"/><use href="#hmc" x="216.1" y="1013.4"/><use href="#hmc" x="217.6" y="1013.4"/><use href="#hmc" x="219.1" y="1013.4"/><use href="#hmc" x="220.7" y="1013.3"/><use href="#hmc" x="222.2" y="1013.3"/><use href="#hmc" x="223.7" y="1013.2"/><use href="#hmc" x="225.3" y="1013.2"/><use href="#hmc" x="226.8" y="1013.2"/><use href="#hmc" x="228.3" y="1013.1"/><use href="#hmc" x="229.8" y="1013.1"/><use href="#hmc" x="231.4" y="1013.0"/><use href="#hmc" x="232.9" y="1013.0"/><use href="#hmc" x="234.4" y="1013.0"/><use href="#hmc" x="235.9" y="1012.9"/><use href="#hmc" x="237.3" y="1012.9"/><use href="#hmc" x="238.8" y="1012.8"/><use href="#hmc" x="240.3" y="1012.8"/><use href="#hmc" x="241.7" y="1012.7"/><use href="#hmc" x="243.1" y="1012.7"/><use href="#hmc" x="244.5" y="1012.7"/><use href="#hmc" x="245.9" y="1012.6"/><use href="#hmc" x="247.3" y="1012.6"/><use href="#hmc" x="248.7" y="1012.5"/><use href="#hmc" x="250.0" y="1012.5"/><use href="#hmc" x="251.3" y="1012.5"/><use href="#hmc" x="252.7" y="1012.4"/><use href="#hmc" x="254.0" y="1012.4"/><use href="#hmc" x="255.3" y="1012.3"/><use href="#hmc" x="256.7" y="1012.3"/><use href="#hmc" x="258.0" y="1012.2"/><use href="#hmc" x="259.3" y="1012.2"/><use href="#hmc" x="260.7" y="1012.2"/><use href="#hmc" x="262.0" y="1012.1"/><use href="#hmc" x="263.4" y="1012.1"/><use href="#hmc" x="264.7" y="1012.0"/><use href="#hmc" x="266.1" y="1012.0"/><use href="#hmc" x="267.5" y="1011.9"/><use href="#hmc" x="268.8" y="1011.9"/><use href="#hmc" x="270.2" y="1011.8"/><use href="#hmc" x="271.5" y="1011.8"/><use href="#hmc" x="272.9" y="1011.7"/><use href="#hmc" x="274.2" y="1011.7"/><use href="#hmc" x="275.6" y="1011.6"/><use href="#hmc" x="277.0" y="1011.6"/><use href="#hmc" x="278.3" y="1011.5"/><use href="#hmc" x="279.7" y="1011.5"/><use href="#hmc" x="281.0" y="1011.4"/><use href="#hmc" x="282.4" y="1011.4"/><use href="#hmc" x="283.8" y="1011.3"/><use href="#hmc" x="285.1" y="1011.3"/><use href="#hmc" x="286.5" y="1011.2"/><use href="#hmc" x="287.8" y="1011.2"/><use href="#hmc" x="289.2" y="1011.1"/><use href="#hmc" x="290.6" y="1011.1"/><use href="#hmc" x="291.9" y="1011.0"/><use href="#hmc" x="293.3" y="1011.0"/><use href="#hmc" x="294.6" y="1010.9"/><use href="#hmc" x="296.0" y="1010.9"/><use href="#hmc" x="297.3" y="1010.8"/><use href="#hmc" x="298.7" y="1010.8"/><use href="#hmc" x="300.0" y="1010.7"/><use href="#hmc" x="301.4" y="1010.7"/><use href="#hmc" x="302.7" y="1010.6"/><use href="#hmc" x="304.0" y="1010.6"/><use href="#hmc" x="305.4" y="1010.5"/><use href="#hmc" x="306.7" y="1010.5"/><use href="#hmc" x="308.0" y="1010.4"/><use href="#hmc" x="309.4" y="1010.4"/><use href="#hmc" x="310.7" y="1010.3"/><use href="#hmc" x="312.0" y="1010.3"/><use href="#hmc" x="313.3" y="1010.2"/><use href="#hmc" x="314.6" y="1010.1"/><use href="#hmc" x="315.9" y="1010.1"/><use href="#hmc" x="317.2" y="1010.0"/><use href="#hmc" x="319.8" y="1009.9"/><use href="#hmc" x="322.4" y="1009.8"/><use href="#hmc" x="325.0" y="1009.7"/><use href="#hmc" x="327.5" y="1009.6"/><use href="#hmc" x="330.0" y="1009.5"/><use href="#hmc" x="332.5" y="1009.4"/><use href="#hmc" x="335.0" y="1009.3"/><use href="#hmc" x="337.6" y="1009.2"/><use href="#hmc" x="340.1" y="1009.0"/><use href="#hmc" x="342.7" y="1008.9"/><use href="#hmc" x="345.3" y="1008.8"/><use href="#hmc" x="347.9" y="1008.7"/><use href="#hmc" x="350.4" y="1008.6"/><use href="#hmc" x="353.0" y="1008.4"/><use href="#hmc" x="355.6" y="1008.3"/><use href="#hmc" x="358.1" y="1008.2"/><use href="#hmc" x="360.6" y="1008.1"/><use href="#hmc" x="363.2" y="1007.9"/><use href="#hmc" x="365.7" y="1007.8"/><use href="#hmc" x="368.1" y="1007.7"/><use href="#hmc" x="370.6" y="1007.6"/><use href="#hmc" x="373.0" y="1007.4"/><use href="#hmc" x="375.4" y="1007.3"/><use href="#hmc" x="377.7" y="1007.2"/><use href="#hmc" x="380.0" y="1007.1"/><use href="#hmc" x="382.3" y="1007.0"/><use href="#hmc" x="384.5" y="1006.8"/><use href="#hmc" x="386.6" y="1006.7"/><use href="#hmc" x="388.7" y="1006.6"/><use href="#hmc" x="390.8" y="1006.5"/><use href="#hmc" x="392.7" y="1006.4"/><use href="#hmc" x="394.7" y="1006.3"/><use href="#hmc" x="396.5" y="1006.2"/><use href="#hmc" x="398.3" y="1006.1"/><use href="#hmc" x="400.0" y="1006.0"/><use href="#hmc" x="401.6" y="1005.9"/><use href="#hmc" x="403.2" y="1005.8"/><use href="#hmc" x="404.6" y="1005.8"/><use href="#hmc" x="406.0" y="1005.7"/><use href="#hmc" x="407.4" y="1005.6"/><use href="#hmc" x="409.2" y="1005.5"/><use href="#hmc" x="411.0" y="1005.4"/><use href="#hmc" x="412.6" y="1005.3"/><use href="#hmc" x="414.1" y="1005.3"/><use href="#hmc" x="415.6" y="1005.2"/><use href="#hmc" x="416.9" y="1005.1"/><use href="#hmc" x="418.6" y="1005.0"/><use href="#hmc" x="420.3" y="1004.9"/><use href="#hmc" x="421.8" y="1004.8"/><use href="#hmc" x="423.4" y="1004.7"/><use href="#hmc" x="424.9" y="1004.5"/><use href="#hmc" x="426.5" y="1004.4"/><use href="#hmc" x="428.2" y="1004.2"/><use href="#hmc" x="429.5" y="1004.1"/><use href="#hmc" x="430.9" y="1003.9"/><use href="#hmc" x="432.3" y="1003.7"/><use href="#hmc" x="433.7" y="1003.6"/><use href="#hmc" x="435.1" y="1003.4"/><use href="#hmc" x="436.5" y="1003.3"/><use href="#hmc" x="437.9" y="1003.1"/><use href="#hmc" x="439.3" y="1002.9"/><use href="#hmc" x="440.6" y="1002.7"/><use href="#hmc" x="442.0" y="1002.6"/><use href="#hmc" x="443.3" y="1002.4"/><use href="#hmc" x="444.6" y="1002.2"/><use href="#hmc" x="445.9" y="1002.0"/><use href="#hmc" x="447.6" y="1001.6"/><use href="#hmc" x="449.2" y="1001.3"/><use href="#hmc" x="450.7" y="1000.9"/><use href="#hmc" x="452.2" y="1000.5"/><use href="#hmc" x="453.7" y="1000.1"/><use href="#hmc" x="455.0" y="999.6"/><use href="#hmc" x="456.2" y="999.1"/><use href="#hmc" x="457.6" y="998.4"/><use href="#hmc" x="460.1" y="996.9"/><use href="#hmc" x="462.6" y="994.9"/><use href="#hmc" x="465.1" y="992.2"/><use href="#hmc" x="467.5" y="989.1"/><use href="#hmc" x="470.0" y="985.7"/><use href="#hmc" x="472.5" y="981.6"/><use href="#hmc" x="475.0" y="976.9"/><use href="#hmc" x="477.4" y="972.0"/><use href="#hmc" x="479.9" y="966.8"/><use href="#hmc" x="482.3" y="960.8"/><use href="#hmc" x="484.8" y="954.5"/><use href="#hmc" x="487.2" y="948.3"/><use href="#hmc" x="489.7" y="941.7"/><use href="#hmc" x="492.1" y="934.8"/><use href="#hmc" x="494.6" y="927.1"/><use href="#hmc" x="497.1" y="919.1"/><use href="#hmc" x="499.5" y="911.2"/><use href="#hmc" x="501.9" y="903.1"/><use href="#hmc" x="504.4" y="894.4"/><use href="#hmc" x="506.9" y="885.5"/><use href="#hmc" x="509.3" y="876.3"/><use href="#hmc" x="511.9" y="866.5"/><use href="#hmc" x="514.5" y="856.7"/><use href="#hmc" x="517.1" y="847.0"/><use href="#hmc" x="519.6" y="837.1"/><use href="#hmc" x="522.1" y="826.8"/><use href="#hmc" x="524.6" y="816.8"/><use href="#hmc" x="527.1" y="807.4"/><use href="#hmc" x="529.5" y="799.0"/><use href="#hmc" x="532.0" y="791.1"/><use href="#hmc" x="534.5" y="783.0"/><use href="#hmc" x="537.0" y="774.7"/><use href="#hmc" x="539.4" y="765.3"/><use href="#hmc" x="541.9" y="755.2"/><use href="#hmc" x="544.4" y="745.6"/><use href="#hmc" x="546.8" y="736.7"/><use href="#hmc" x="549.3" y="728.7"/><use href="#hmc" x="551.8" y="721.7"/><use href="#hmc" x="554.3" y="715.4"/><use href="#hmc" x="556.9" y="709.6"/><use href="#hmc" x="559.3" y="704.5"/><use href="#hmc" x="561.8" y="700.0"/><use href="#hmc" x="564.4" y="695.8"/><use href="#hmc" x="566.8" y="692.2"/><use href="#hmc" x="569.3" y="688.9"/><use href="#hmc" x="571.9" y="685.9"/><use href="#hmc" x="574.5" y="683.5"/><use href="#hmc" x="576.9" y="681.4"/><use href="#hmc" x="579.5" y="679.6"/><use href="#hmc" x="582.0" y="677.9"/><use href="#hmc" x="584.5" y="676.2"/><use href="#hmc" x="586.7" y="674.9"/><use href="#hmc" x="587.9" y="674.2"/><use href="#hmc" x="589.2" y="673.5"/><use href="#hmc" x="590.5" y="672.7"/><use href="#hmc" x="591.8" y="672.0"/><use href="#hmc" x="593.1" y="671.4"/><use href="#hmc" x="594.5" y="670.7"/><use href="#hmc" x="595.8" y="670.1"/><use href="#hmc" x="597.2" y="669.4"/><use href="#hmc" x="598.5" y="668.8"/><use href="#hmc" x="599.9" y="668.3"/><use href="#hmc" x="601.3" y="667.7"/><use href="#hmc" x="602.6" y="667.2"/><use href="#hmc" x="604.0" y="666.7"/><use href="#hmc" x="605.4" y="666.2"/><use href="#hmc" x="606.8" y="665.8"/><use href="#hmc" x="608.3" y="665.3"/><use href="#hmc" x="609.7" y="664.8"/><use href="#hmc" x="611.3" y="664.4"/><use href="#hmc" x="612.6" y="664.0"/><use href="#hmc" x="613.9" y="663.6"/><use href="#hmc" x="615.3" y="663.2"/><use href="#hmc" x="616.7" y="662.8"/><use href="#hmc" x="618.1" y="662.4"/><use href="#hmc" x="619.5" y="662.1"/><use href="#hmc" x="621.0" y="661.7"/><use href="#hmc" x="622.5" y="661.4"/><use href="#hmc" x="624.0" y="661.0"/><use href="#hmc" x="625.5" y="660.6"/><use href="#hmc" x="627.1" y="660.3"/><use href="#hmc" x="628.7" y="659.9"/><use href="#hmc" x="630.4" y="659.5"/><use href="#hmc" x="631.7" y="659.2"/><use href="#hmc" x="633.0" y="658.9"/><use href="#hmc" x="634.3" y="658.5"/><use href="#hmc" x="635.7" y="658.2"/><use href="#hmc" x="637.1" y="657.8"/><use href="#hmc" x="638.5" y="657.4"/><use href="#hmc" x="640.0" y="657.0"/><use href="#hmc" x="641.5" y="656.5"/><use href="#hmc" x="643.0" y="656.0"/><use href="#hmc" x="644.6" y="655.5"/><use href="#hmc" x="646.2" y="654.9"/><use href="#hmc" x="647.9" y="654.4"/><use href="#hmc" x="649.5" y="653.8"/><use href="#hmc" x="651.2" y="653.2"/><use href="#hmc" x="652.9" y="652.6"/><use href="#hmc" x="654.7" y="652.0"/><use href="#hmc" x="656.5" y="651.3"/><use href="#hmc" x="658.3" y="650.7"/><use href="#hmc" x="660.1" y="650.1"/><use href="#hmc" x="661.9" y="649.4"/><use href="#hmc" x="663.7" y="648.8"/><use href="#hmc" x="665.0" y="648.4"/><use href="#hmc" x="666.2" y="648.0"/><use href="#hmc" x="667.4" y="647.6"/><use href="#hmc" x="668.7" y="647.2"/><use href="#hmc" x="670.0" y="646.8"/><use href="#hmc" x="671.2" y="646.5"/><use href="#hmc" x="672.5" y="646.1"/><use href="#hmc" x="673.7" y="645.7"/><use href="#hmc" x="675.0" y="645.4"/><use href="#hmc" x="676.3" y="645.1"/><use href="#hmc" x="677.6" y="644.7"/><use href="#hmc" x="679.0" y="644.4"/><use href="#hmc" x="680.5" y="644.1"/><use href="#hmc" x="682.0" y="643.7"/><use href="#hmc" x="683.5" y="643.4"/><use href="#hmc" x="685.0" y="643.1"/><use href="#hmc" x="686.6" y="642.7"/><use href="#hmc" x="688.2" y="642.4"/><use href="#hmc" x="689.7" y="642.1"/><use href="#hmc" x="691.3" y="641.7"/><use href="#hmc" x="692.9" y="641.4"/><use href="#hmc" x="694.5" y="641.1"/><use href="#hmc" x="696.1" y="640.8"/><use href="#hmc" x="697.7" y="640.5"/><use href="#hmc" x="699.2" y="640.2"/><use href="#hmc" x="700.8" y="639.9"/><use href="#hmc" x="702.3" y="639.6"/><use href="#hmc" x="703.7" y="639.3"/><use href="#hmc" x="705.1" y="639.1"/><use href="#hmc" x="706.5" y="638.8"/><use href="#hmc" x="707.9" y="638.6"/><use href="#hmc" x="709.7" y="638.2"/><use href="#hmc" x="711.5" y="637.9"/><use href="#hmc" x="713.0" y="637.6"/><use href="#hmc" x="714.4" y="637.3"/><use href="#hmc" x="716.0" y="637.0"/></g>
</g>
<rect x="110.5" y="624.2" width="601.5" height="407.3" fill="none" stroke="#000" stroke-width="2.6"/>
<path d="M110.5 1031.5V1024.5M230.8 1031.5V1024.5M351.1 1031.5V1024.5M471.4 1031.5V1024.5M591.7 1031.5V1024.5M712 1031.5V1024.5M170.65 1031.5V1028M290.95 1031.5V1028M411.25 1031.5V1028M531.55 1031.5V1028M651.85 1031.5V1028M110.5 1015.83H117.5M110.5 937.51H117.5M110.5 859.18H117.5M110.5 780.85H117.5M110.5 702.53H117.5M110.5 624.2H117.5M110.5 976.67H114M110.5 898.34H114M110.5 820.02H114M110.5 741.69H114M110.5 663.36H114" stroke="#000" stroke-width="2.4" fill="none"/>
<text x="103.3" y="1024.63" text-anchor="end" fill="#231815" style="font-size:27.5px;letter-spacing:0.8px;" font-family='"Liberation Sans", sans-serif' >0.0</text>
<text x="103.3" y="946.31" text-anchor="end" fill="#231815" style="font-size:27.5px;letter-spacing:0.8px;" font-family='"Liberation Sans", sans-serif' >0.1</text>
<text x="103.3" y="867.98" text-anchor="end" fill="#231815" style="font-size:27.5px;letter-spacing:0.8px;" font-family='"Liberation Sans", sans-serif' >0.2</text>
<text x="103.3" y="789.65" text-anchor="end" fill="#231815" style="font-size:27.5px;letter-spacing:0.8px;" font-family='"Liberation Sans", sans-serif' >0.3</text>
<text x="103.3" y="711.33" text-anchor="end" fill="#231815" style="font-size:27.5px;letter-spacing:0.8px;" font-family='"Liberation Sans", sans-serif' >0.4</text>
<text x="103.3" y="633" text-anchor="end" fill="#231815" style="font-size:27.5px;letter-spacing:0.8px;" font-family='"Liberation Sans", sans-serif' >0.5</text>
<text x="111" y="1060.8" text-anchor="middle" fill="#231815" style="font-size:27.5px;letter-spacing:0.8px;" font-family='"Liberation Sans", sans-serif' >0</text>
<text x="231.3" y="1060.8" text-anchor="middle" fill="#231815" style="font-size:27.5px;letter-spacing:0.8px;" font-family='"Liberation Sans", sans-serif' >20</text>
<text x="351.6" y="1060.8" text-anchor="middle" fill="#231815" style="font-size:27.5px;letter-spacing:0.8px;" font-family='"Liberation Sans", sans-serif' >40</text>
<text x="471.9" y="1060.8" text-anchor="middle" fill="#231815" style="font-size:27.5px;letter-spacing:0.8px;" font-family='"Liberation Sans", sans-serif' >60</text>
<text x="592.2" y="1060.8" text-anchor="middle" fill="#231815" style="font-size:27.5px;letter-spacing:0.8px;" font-family='"Liberation Sans", sans-serif' >80</text>
<text x="712.5" y="1060.8" text-anchor="middle" fill="#231815" style="font-size:27.5px;letter-spacing:0.8px;" font-family='"Liberation Sans", sans-serif' >100</text>
<text transform="translate(51.8 864.8) rotate(-90)" y="0" fill="#231815" style="font-size:32px"><tspan x="0.0" font-style="italic">R</tspan><tspan x="31.7">(</tspan><tspan x="41.7" font-family="Liberation Serif">Ω</tspan><tspan x="67.0">)</tspan></text>
<text y="1100.7" fill="#231815" style="font-size:32px"><tspan x="376.8" font-style="italic">T</tspan><tspan x="406.0">(</tspan><tspan x="413.1">K</tspan><tspan x="441.0">)</tspan></text>
<path d="M601.6 808.8H650" stroke="#2e6b2e" stroke-width="2"/>
<use href="#hm" x="625.8" y="808.8" style="color:#2e6b2e"/>
<text x="657.2" y="816" text-anchor="start" fill="#000" style="font-size:20.2px;" font-family='"Liberation Sans", sans-serif' >0.0 T</text>
<path d="M601.6 834.2H650" stroke="#6b8e23" stroke-width="2"/>
<use href="#hm" x="625.8" y="834.2" style="color:#6b8e23"/>
<text x="657.2" y="841.42" text-anchor="start" fill="#000" style="font-size:20.2px;" font-family='"Liberation Sans", sans-serif' >0.1 T</text>
<path d="M601.6 859.6H650" stroke="#e8c020" stroke-width="2"/>
<use href="#hm" x="625.8" y="859.6" style="color:#e8c020"/>
<text x="657.2" y="866.84" text-anchor="start" fill="#000" style="font-size:20.2px;" font-family='"Liberation Sans", sans-serif' >2.0 T</text>
<path d="M601.6 885.1H650" stroke="#f0901e" stroke-width="2"/>
<use href="#hm" x="625.8" y="885.1" style="color:#f0901e"/>
<text x="657.2" y="892.26" text-anchor="start" fill="#000" style="font-size:20.2px;" font-family='"Liberation Sans", sans-serif' >4.0 T</text>
<path d="M601.6 910.5H650" stroke="#f83820" stroke-width="2"/>
<use href="#hm" x="625.8" y="910.5" style="color:#f83820"/>
<text x="657.2" y="917.68" text-anchor="start" fill="#000" style="font-size:20.2px;" font-family='"Liberation Sans", sans-serif' >6.0 T</text>
<path d="M601.6 935.9H650" stroke="#ff1020" stroke-width="2"/>
<use href="#hm" x="625.8" y="935.9" style="color:#ff1020"/>
<text x="657.2" y="943.1" text-anchor="start" fill="#000" style="font-size:20.2px;" font-family='"Liberation Sans", sans-serif' >7.0 T</text>
<text x="428.0" y="654.9" fill="#000" style="font-size:22.5px">La<tspan dx="0.2" style="font-size:11.7px;font-weight:bold">3</tspan><tspan dx="1.3">Ni</tspan><tspan dx="0.1" style="font-size:11.7px;font-weight:bold">2</tspan><tspan dx="0.8">O</tspan><tspan dx="0.8" style="font-size:11.7px;font-weight:bold">7</tspan></text>
<text x="428.0" y="681.8" fill="#000" style="font-size:22.5px">Orthorhombic</text>
<text x="428.0" y="709.4" fill="#000" style="font-size:22.5px">PTM:<tspan font-style="italic">He</tspan></text>
<text x="428" y="763.8" text-anchor="start" fill="#000" style="font-size:22.5px;" font-family='"Liberation Sans", sans-serif' >S1</text>
<text x="428" y="790.6" text-anchor="start" fill="#000" style="font-size:22.5px;" font-family='"Liberation Sans", sans-serif' >20.1 GPa</text>
<rect x="192" y="633.9" width="222.3" height="311.8" fill="#fff" stroke="#000" stroke-width="1.7"/>
<g clip-path="url(#clipCI)">
<g fill="#1a5c2e"><circle cx="193.5" cy="892.7" r="4.8"/><circle cx="196.1" cy="891.8" r="4.8"/><circle cx="198.7" cy="894.2" r="4.8"/><circle cx="201.3" cy="891.4" r="4.8"/><circle cx="203.9" cy="893.7" r="4.8"/><circle cx="206.5" cy="892.9" r="4.8"/><circle cx="209.1" cy="891.4" r="4.8"/><circle cx="211.7" cy="893.5" r="4.8"/><circle cx="214.3" cy="891.3" r="4.8"/><circle cx="216.9" cy="893.2" r="4.8"/><circle cx="219.5" cy="891.4" r="4.8"/><circle cx="222.1" cy="891.5" r="4.8"/><circle cx="224.7" cy="893.1" r="4.8"/><circle cx="227.3" cy="895.1" r="4.8"/><circle cx="229.9" cy="891.7" r="4.8"/><circle cx="232.5" cy="892.2" r="4.8"/><circle cx="235.1" cy="894.1" r="4.8"/><circle cx="237.7" cy="895.6" r="4.8"/><circle cx="240.3" cy="893.9" r="4.8"/><circle cx="242.9" cy="893.0" r="4.8"/><circle cx="245.5" cy="895.8" r="4.8"/><circle cx="248.1" cy="891.3" r="4.8"/><circle cx="250.7" cy="895.2" r="4.8"/><circle cx="253.3" cy="892.5" r="4.8"/><circle cx="255.9" cy="891.8" r="4.8"/><circle cx="258.5" cy="891.7" r="4.8"/><circle cx="261.1" cy="892.6" r="4.8"/><circle cx="263.7" cy="895.0" r="4.8"/><circle cx="266.3" cy="892.0" r="4.8"/><circle cx="268.9" cy="893.9" r="4.8"/><circle cx="271.5" cy="894.2" r="4.8"/><circle cx="274.1" cy="892.9" r="4.8"/><circle cx="276.1" cy="886.7" r="4.8"/><circle cx="278.3" cy="884.6" r="4.8"/><circle cx="282.3" cy="882.3" r="4.8"/><circle cx="284.7" cy="880.3" r="4.8"/><circle cx="286.9" cy="877.4" r="4.8"/><circle cx="289.5" cy="875.6" r="4.8"/><circle cx="290.6" cy="873.2" r="4.8"/><circle cx="293.0" cy="872.1" r="4.8"/><circle cx="295.4" cy="868.4" r="4.8"/><circle cx="297.8" cy="865.9" r="4.8"/><circle cx="298.9" cy="865.8" r="4.8"/><circle cx="300.4" cy="862.5" r="4.8"/><circle cx="302.3" cy="860.5" r="4.8"/><circle cx="304.9" cy="857.7" r="4.8"/><circle cx="306.6" cy="854.9" r="4.8"/><circle cx="307.8" cy="852.3" r="4.8"/><circle cx="308.6" cy="848.9" r="4.8"/></g>
<path d="M192.0 893.7H414.3" stroke="#000" stroke-width="3.6" stroke-dasharray="17.5 9" stroke-dashoffset="6"/>
<path d="M310.2 841.3C310.4 839.5 310.9 833.5 311.2 830.6C311.5 827.7 311.9 826.5 312.2 823.9C312.5 821.3 312.6 817.7 313.1 815.1C313.6 812.5 314.6 810.6 315.1 808.4C315.6 806.1 315.7 803.9 316.0 801.6C316.3 799.3 316.7 798.0 317.0 794.8C317.3 791.6 317.7 785.8 317.8 782.4C317.9 779.0 317.7 778.1 317.8 774.3C317.9 770.5 318.2 764.3 318.6 759.7C319.0 755.1 320.0 749.3 320.3 746.7C320.6 744.1 320.1 747.8 320.3 744.2C320.5 740.6 321.3 730.5 321.6 725.2C321.9 719.9 321.6 717.1 321.9 712.6C322.2 708.1 322.9 702.7 323.2 698.0C323.5 693.3 323.5 688.6 323.8 684.5C324.1 680.4 324.5 678.8 324.8 673.3C325.1 667.8 325.2 656.7 325.4 651.3C325.6 645.9 325.8 644.3 326.1 640.8C326.4 637.2 326.9 631.8 327.0 630.0" fill="none" stroke="#000" stroke-width="1.6"/>
<g fill="#1a5c2e"><circle cx="310.2" cy="841.3" r="4.8"/><circle cx="311.2" cy="830.6" r="4.8"/><circle cx="312.2" cy="823.9" r="4.8"/><circle cx="313.1" cy="815.1" r="4.8"/><circle cx="315.1" cy="808.4" r="4.8"/><circle cx="316.0" cy="801.6" r="4.8"/><circle cx="317.0" cy="794.8" r="4.8"/><circle cx="317.8" cy="782.4" r="4.8"/><circle cx="317.8" cy="774.3" r="4.8"/><circle cx="318.6" cy="759.7" r="4.8"/><circle cx="320.3" cy="746.7" r="4.8"/><circle cx="320.3" cy="744.2" r="4.8"/><circle cx="321.6" cy="725.2" r="4.8"/><circle cx="321.9" cy="712.6" r="4.8"/><circle cx="323.2" cy="698.0" r="4.8"/><circle cx="323.8" cy="684.5" r="4.8"/><circle cx="324.8" cy="673.3" r="4.8"/><circle cx="325.4" cy="651.3" r="4.8"/><circle cx="326.1" cy="640.8" r="4.8"/></g>
</g>
<rect x="192" y="633.9" width="222.3" height="311.8" fill="none" stroke="#000" stroke-width="1.7"/>
<path d="M216.7 945.7V941.2M266.1 945.7V941.2M315.5 945.7V941.2M364.9 945.7V941.2M241.4 945.7V943.2M290.8 945.7V943.2M340.2 945.7V943.2M389.6 945.7V943.2M192 945.7H196.5M192 893.73H196.5M192 841.77H196.5M192 789.8H196.5M192 737.83H196.5M192 685.87H196.5M192 633.9H196.5M192 919.72H194.5M192 867.75H194.5M192 815.78H194.5M192 763.82H194.5M192 711.85H194.5M192 659.88H194.5" stroke="#000" stroke-width="1.3" fill="none"/>
<text x="188.5" y="950.7" text-anchor="end" fill="#231815" style="font-size:14px;letter-spacing:0.35px;" font-family='"Liberation Sans", sans-serif' >-0.001</text>
<text x="188.5" y="898.73" text-anchor="end" fill="#231815" style="font-size:14px;letter-spacing:0.35px;" font-family='"Liberation Sans", sans-serif' >0.000</text>
<text x="188.5" y="846.77" text-anchor="end" fill="#231815" style="font-size:14px;letter-spacing:0.35px;" font-family='"Liberation Sans", sans-serif' >0.001</text>
<text x="188.5" y="794.8" text-anchor="end" fill="#231815" style="font-size:14px;letter-spacing:0.35px;" font-family='"Liberation Sans", sans-serif' >0.002</text>
<text x="188.5" y="742.83" text-anchor="end" fill="#231815" style="font-size:14px;letter-spacing:0.35px;" font-family='"Liberation Sans", sans-serif' >0.003</text>
<text x="188.5" y="690.87" text-anchor="end" fill="#231815" style="font-size:14px;letter-spacing:0.35px;" font-family='"Liberation Sans", sans-serif' >0.004</text>
<text x="188.5" y="638.9" text-anchor="end" fill="#231815" style="font-size:14px;letter-spacing:0.35px;" font-family='"Liberation Sans", sans-serif' >0.005</text>
<text x="217.2" y="961.3" text-anchor="middle" fill="#231815" style="font-size:14.5px;letter-spacing:0.4px;" font-family='"Liberation Sans", sans-serif' >20</text>
<text x="266.6" y="961.3" text-anchor="middle" fill="#231815" style="font-size:14.5px;letter-spacing:0.4px;" font-family='"Liberation Sans", sans-serif' >40</text>
<text x="316" y="961.3" text-anchor="middle" fill="#231815" style="font-size:14.5px;letter-spacing:0.4px;" font-family='"Liberation Sans", sans-serif' >60</text>
<text x="365.4" y="961.3" text-anchor="middle" fill="#231815" style="font-size:14.5px;letter-spacing:0.4px;" font-family='"Liberation Sans", sans-serif' >80</text>
<text x="414.8" y="961.3" text-anchor="middle" fill="#231815" style="font-size:14.5px;letter-spacing:0.4px;" font-family='"Liberation Sans", sans-serif' >100</text>
<text transform="translate(131.8 827.5) rotate(-90)" fill="#231815" style="font-size:21.5px"><tspan x="0" font-style="italic">R</tspan><tspan x="15.5">/</tspan><tspan x="23.5" font-style="italic">R</tspan><tspan x="40" dy="6" style="font-size:15px;letter-spacing:0.4px">100K</tspan></text>
<text y="983.5" fill="#231815" style="font-size:19.7px"><tspan x="274.4" font-style="italic">T</tspan><tspan x="293.5">(</tspan><tspan x="298.7">K</tspan><tspan x="319">)</tspan></text>
<text x="244" y="828.7" text-anchor="start" fill="#000" style="font-size:21px;" font-family='"Liberation Sans", sans-serif' >45.0 K</text>
<path d="M276.4 851.9V874" stroke="#000" stroke-width="1.4"/><path d="M272.5 870.3H280.3L276.4 886.7Z" fill="#000"/>
<g clip-path="url(#clipD)">
<rect x="1361.7" y="1019.9" width="17.4" height="17.4" fill="#fff" stroke="#00e6ee" stroke-width="1.5"/>
<rect x="1356.8" y="1020.8" width="17.4" height="17.4" fill="#fff" stroke="#00e6ee" stroke-width="1.5"/>
<rect x="1352.3" y="1019.3" width="17.4" height="17.4" fill="#fff" stroke="#00e6ee" stroke-width="1.5"/>
<rect x="1347.3" y="1017.7" width="17.4" height="17.4" fill="#fff" stroke="#00e6ee" stroke-width="1.5"/>
<rect x="1340.8" y="1015.3" width="17.4" height="17.4" fill="#fff" stroke="#00e6ee" stroke-width="1.5"/>
<rect x="1333.6" y="1012.3" width="17.4" height="17.4" fill="#fff" stroke="#00e6ee" stroke-width="1.5"/>
<rect x="1327.6" y="1009.7" width="17.4" height="17.4" fill="#fff" stroke="#00e6ee" stroke-width="1.5"/>
<rect x="1322.2" y="1007.5" width="17.4" height="17.4" fill="#fff" stroke="#00e6ee" stroke-width="1.5"/>
<rect x="1315.4" y="1004.9" width="17.4" height="17.4" fill="#fff" stroke="#00e6ee" stroke-width="1.5"/>
<path d="M1417.1 1018.6L1427.6 1037.8H1406.6Z" fill="#fff" stroke="#50b4f0" stroke-width="1.5" stroke-linejoin="miter"/>
<path d="M1413.5 1016.7L1424.0 1035.9H1403.0Z" fill="#fff" stroke="#50b4f0" stroke-width="1.5" stroke-linejoin="miter"/>
<path d="M1408.7 1015.0L1419.2 1034.2H1398.2Z" fill="#fff" stroke="#50b4f0" stroke-width="1.5" stroke-linejoin="miter"/>
<path d="M1400.9 1012.8L1411.4 1032.0H1390.4Z" fill="#fff" stroke="#50b4f0" stroke-width="1.5" stroke-linejoin="miter"/>
<path d="M1394.9 1010.2L1405.4 1029.4H1384.4Z" fill="#fff" stroke="#50b4f0" stroke-width="1.5" stroke-linejoin="miter"/>
<path d="M1389.5 1007.8L1400.0 1027.0H1379.0Z" fill="#fff" stroke="#50b4f0" stroke-width="1.5" stroke-linejoin="miter"/>
<path d="M1385.9 1005.4L1396.4 1024.6H1375.4Z" fill="#fff" stroke="#50b4f0" stroke-width="1.5" stroke-linejoin="miter"/>
<path d="M1382.9 1004.2L1393.4 1023.4H1372.4Z" fill="#fff" stroke="#50b4f0" stroke-width="1.5" stroke-linejoin="miter"/>
<path d="M1379.3 1002.0L1389.8 1021.2H1368.8Z" fill="#fff" stroke="#50b4f0" stroke-width="1.5" stroke-linejoin="miter"/>
<path d="M1375.9 1000.2L1386.4 1019.4H1365.4Z" fill="#fff" stroke="#50b4f0" stroke-width="1.5" stroke-linejoin="miter"/>
<circle cx="1462.7" cy="1030.0" r="8" fill="#fff" stroke="#ff3232" stroke-width="1.4"/>
<circle cx="1448.9" cy="1034.0" r="9.8" fill="#fff" stroke="#ff3232" stroke-width="1.4"/>
<circle cx="1445.1" cy="1032.9" r="9.8" fill="#fff" stroke="#ff3232" stroke-width="1.4"/>
<circle cx="1441.4" cy="1030.1" r="9.8" fill="#fff" stroke="#ff3232" stroke-width="1.4"/>
<circle cx="1439.1" cy="1028.3" r="9.8" fill="#fff" stroke="#ff3232" stroke-width="1.4"/>
<circle cx="1436.3" cy="1025.9" r="9.8" fill="#fff" stroke="#ff3232" stroke-width="1.4"/>
<circle cx="1433.0" cy="1023.6" r="9.8" fill="#fff" stroke="#ff3232" stroke-width="1.4"/>
<circle cx="1430.2" cy="1021.2" r="9.8" fill="#fff" stroke="#ff3232" stroke-width="1.4"/>
<circle cx="1427.4" cy="1018.4" r="9.8" fill="#fff" stroke="#ff3232" stroke-width="1.4"/>
<circle cx="1426.5" cy="1013.4" r="9.8" fill="#fff" stroke="#ff3232" stroke-width="1.4"/>
<path d="M899.5 632.9L901.8 633.0L904.0 633.1L906.3 633.2L908.5 633.3M934.5 636.7L936.5 637.1L938.5 637.5L940.5 638.0L942.6 638.4L944.6 638.9M969.4 646.6L971.4 647.3L973.5 648.1L975.6 649.0L977.6 649.8L979.7 650.6M1004.3 662.2L1006.4 663.4L1008.6 664.5L1010.7 665.7L1012.8 666.8L1014.9 668.0M1038.2 682.2L1040.4 683.7L1042.5 685.1L1044.7 686.6L1046.9 688.0L1049.0 689.5M1071.1 705.5L1073.3 707.1L1075.5 708.8L1077.7 710.5L1079.9 712.2L1082.1 714.0M1105.0 732.5L1107.3 734.4L1109.5 736.3L1111.7 738.2L1114.0 740.1L1116.2 742.0M1139.1 762.0L1141.3 764.0L1143.6 766.1L1145.8 768.1L1148.1 770.1L1150.3 772.2M1172.0 792.0L1174.3 794.1L1176.6 796.2L1178.8 798.3L1181.1 800.4L1183.4 802.5M1205.4 823.2L1207.5 825.1L1209.6 827.1L1211.7 829.0L1213.7 830.9L1215.8 832.9L1217.9 834.8M1240.1 855.7L1242.4 857.8L1244.6 859.9L1246.9 862.0L1249.1 864.1L1251.4 866.2M1273.6 886.8L1275.9 888.8L1278.1 890.9L1280.4 892.9L1282.6 895.0L1284.8 897.0M1297.3 908.2L1299.5 910.2L1301.7 912.2L1304.0 914.2L1306.2 916.2L1308.4 918.2M1332.0 938.9L1334.2 940.8L1336.4 942.7L1338.7 944.6L1340.9 946.5L1343.1 948.4M1365.5 967.3L1367.7 969.1L1369.9 970.9L1372.1 972.8L1374.4 974.6L1376.6 976.4M1399.1 994.4L1401.1 996.0L1403.1 997.6L1405.2 999.2L1407.2 1000.8L1409.3 1002.3L1411.3 1003.9M1432.6 1020.0L1434.9 1021.7L1437.2 1023.4L1439.4 1025.1L1441.7 1026.7L1444.0 1028.4" fill="none" stroke="#ff3232" stroke-width="5" stroke-linecap="round" stroke-linejoin="round"/>
<path d="M899.5 846.9L901.5 846.9L903.5 846.9L905.5 847.0L907.5 847.0L909.5 847.1L911.5 847.2L913.5 847.2M940.5 849.5L942.5 849.7L944.5 850.0L946.5 850.2L948.5 850.5L950.5 850.8L952.5 851.1M977.4 855.6L979.7 856.1L981.9 856.6L984.2 857.1L986.4 857.6L988.7 858.1M1012.5 864.4L1014.7 865.0L1017.0 865.7L1019.2 866.3L1021.5 867.0L1023.7 867.7M1047.5 875.6L1049.5 876.3L1051.6 877.0L1053.6 877.8L1055.7 878.5L1057.8 879.3M1081.4 888.3L1083.5 889.1L1085.6 890.0L1087.6 890.8L1089.7 891.7L1091.8 892.5M1115.4 902.5L1117.5 903.4L1119.6 904.3L1121.6 905.2L1123.7 906.1L1125.8 907.0M1149.5 917.5L1151.8 918.6L1154.1 919.6L1156.3 920.7L1158.6 921.7L1160.9 922.7M1183.3 933.0L1185.3 933.9L1187.4 934.9L1189.4 935.8L1191.5 936.8L1193.5 937.7L1195.6 938.7L1197.6 939.6M1219.5 949.7L1221.8 950.7L1224.1 951.8L1226.4 952.9L1228.7 953.9L1231.0 955.0M1254.3 965.5L1256.3 966.4L1258.4 967.4L1260.4 968.3L1262.5 969.2L1264.5 970.1M1284.0 978.7L1286.3 979.7L1288.6 980.7L1291.0 981.8L1293.3 982.8L1295.6 983.8M1318.8 993.6L1321.1 994.6L1323.4 995.6L1325.7 996.5L1328.0 997.5L1330.3 998.4M1353.5 1007.8L1355.8 1008.7L1358.0 1009.6L1360.3 1010.5L1362.5 1011.4L1364.8 1012.2M1386.3 1020.5L1388.6 1021.3L1390.9 1022.2L1393.1 1023.0L1395.4 1023.9L1397.6 1024.7L1399.9 1025.5L1402.2 1026.4" fill="none" stroke="#50b4f0" stroke-width="5" stroke-linecap="round" stroke-linejoin="round"/>
<path d="M899.5 915.9L901.5 915.9L903.5 915.9L905.5 916.0L907.5 916.0L909.5 916.0L911.5 916.1L913.5 916.2M937.5 917.5L939.5 917.7L941.5 917.8L943.5 918.0L945.5 918.2L947.5 918.4L949.5 918.6L951.5 918.8M975.5 921.8L977.5 922.1L979.5 922.4L981.5 922.7L983.6 923.0L985.6 923.3L987.6 923.7L989.6 924.0M1012.6 928.2L1014.6 928.7L1016.6 929.1L1018.6 929.5L1020.6 929.9L1022.6 930.3L1024.7 930.8M1048.5 936.3L1050.8 936.9L1053.0 937.4L1055.2 938.0L1057.4 938.6L1059.7 939.1M1083.5 945.5L1085.5 946.0L1087.6 946.6L1089.6 947.2L1091.6 947.7L1093.7 948.3L1095.7 948.9M1119.5 955.8L1121.7 956.5L1124.0 957.1L1126.2 957.8L1128.5 958.5L1130.7 959.2M1154.6 966.4L1156.8 967.1L1159.1 967.8L1161.3 968.5L1163.6 969.2L1165.8 969.8M1187.6 976.5L1189.6 977.2L1191.7 977.8L1193.7 978.4L1195.8 979.1L1197.9 979.7L1199.9 980.3M1222.1 987.1L1224.4 987.8L1226.6 988.5L1228.9 989.1L1231.1 989.8L1233.4 990.5M1256.8 997.4L1258.8 998.0L1260.8 998.6L1262.9 999.2L1264.9 999.8L1266.9 1000.4M1276.7 1003.2L1279.0 1003.8L1281.2 1004.5L1283.5 1005.1L1285.7 1005.8L1288.0 1006.4M1311.4 1012.9L1313.5 1013.4L1315.6 1014.0L1317.7 1014.6L1319.8 1015.1L1321.9 1015.7L1324.0 1016.3M1346.2 1022.1L1348.3 1022.6L1350.4 1023.1L1352.4 1023.6L1354.5 1024.2L1356.6 1024.7L1358.7 1025.2M1380.4 1030.5L1382.6 1031.0L1384.9 1031.5L1387.1 1031.5L1389.3 1031.5L1391.5 1031.5" fill="none" stroke="#00e6ee" stroke-width="5" stroke-linecap="round" stroke-linejoin="round"/>
</g>
<rect x="896.5" y="624" width="601.3" height="407.5" fill="none" stroke="#000" stroke-width="2.6"/>
<path d="M896.5 1031.5V1024.5M1037.98 1031.5V1024.5M1179.46 1031.5V1024.5M1320.95 1031.5V1024.5M1462.43 1031.5V1024.5M967.24 1031.5V1028M1108.72 1031.5V1028M1250.21 1031.5V1028M1391.69 1031.5V1028M896.5 1031.5H903.5M896.5 929.62H903.5M896.5 827.75H903.5M896.5 725.88H903.5M896.5 624H903.5M896.5 980.56H900M896.5 878.69H900M896.5 776.81H900M896.5 674.94H900" stroke="#000" stroke-width="2.4" fill="none"/>
<text x="888.9" y="1039" text-anchor="end" fill="#000" style="font-size:27.5px;" font-family='"Liberation Sans", sans-serif' >0</text>
<text x="889.7" y="938.62" text-anchor="end" fill="#000" style="font-size:27.5px;" font-family='"Liberation Sans", sans-serif' >40</text>
<text x="889.7" y="836.75" text-anchor="end" fill="#000" style="font-size:27.5px;" font-family='"Liberation Sans", sans-serif' >80</text>
<text x="889.7" y="734.88" text-anchor="end" fill="#000" style="font-size:27.5px;" font-family='"Liberation Sans", sans-serif' >120</text>
<text x="889.7" y="633" text-anchor="end" fill="#000" style="font-size:27.5px;" font-family='"Liberation Sans", sans-serif' >160</text>
<text x="896.8" y="1060.3" text-anchor="middle" fill="#000" style="font-size:27.5px;" font-family='"Liberation Sans", sans-serif' >0</text>
<text x="1038.28" y="1060.3" text-anchor="middle" fill="#000" style="font-size:27.5px;" font-family='"Liberation Sans", sans-serif' >20</text>
<text x="1179.76" y="1060.3" text-anchor="middle" fill="#000" style="font-size:27.5px;" font-family='"Liberation Sans", sans-serif' >40</text>
<text x="1321.25" y="1060.3" text-anchor="middle" fill="#000" style="font-size:27.5px;" font-family='"Liberation Sans", sans-serif' >60</text>
<text x="1462.73" y="1060.3" text-anchor="middle" fill="#000" style="font-size:27.5px;" font-family='"Liberation Sans", sans-serif' >80</text>
<text transform="translate(838.6 886.4) rotate(-90)" fill="#000" style="font-size:32px"><tspan font-style="italic" font-family="Liberation Serif">μ</tspan><tspan style="font-size:21px" dy="9">0</tspan><tspan font-style="italic" dy="-9">H</tspan><tspan style="font-size:21px;font-style:italic" dy="9">c</tspan><tspan style="font-size:21px" >2</tspan><tspan dy="-9"> (T)</tspan></text>
<text y="1086.7" fill="#000" style="font-size:32px"><tspan x="1162.0" font-style="italic">T</tspan><tspan x="1191.0">(</tspan><tspan x="1198.0">K</tspan><tspan x="1226.0">)</tspan></text>
<text x="1188.7" y="657.8" fill="#000" style="font-size:22.5px">La<tspan dx="0.2" style="font-size:11.7px;font-weight:bold">3</tspan><tspan dx="1.3">Ni</tspan><tspan dx="0.1" style="font-size:11.7px;font-weight:bold">2</tspan><tspan dx="0.8">O</tspan><tspan dx="0.8" style="font-size:11.7px;font-weight:bold">7</tspan></text>
<text x="1188.7" y="684.6" fill="#000" style="font-size:22.5px">Orthorhombic</text>
<text x="1188.7" y="711.5" fill="#000" style="font-size:22.5px">PTM:<tspan font-style="italic">He</tspan></text>
<text x="1188.8" y="765.3" text-anchor="start" fill="#000" style="font-size:22px;" font-family='"Liberation Sans", sans-serif' >S1</text>
<text x="1188.8" y="792.2" text-anchor="start" fill="#000" style="font-size:22px;" font-family='"Liberation Sans", sans-serif' >20.1 GPa</text>
<circle cx="1353.9" cy="654.3" r="10" fill="none" stroke="#ff3232" stroke-width="1.4"/>
<path d="M1353.9 670.8L1365.7 691H1342.1Z" fill="none" stroke="#50b4f0" stroke-width="1.5"/>
<rect x="1344.8" y="706" width="18" height="17.7" fill="none" stroke="#00e6ee" stroke-width="1.5"/>
<text x="1383.3" y="661.2" fill="#000" style="font-size:21.5px">90% <tspan font-style="italic">R</tspan><tspan font-style="italic" style="font-size:14px" dy="5.4">N</tspan></text>
<text x="1383.3" y="691.9" fill="#000" style="font-size:21.5px">50% <tspan font-style="italic">R</tspan><tspan font-style="italic" style="font-size:14px" dy="5.4">N</tspan></text>
<text x="1383.3" y="722.1" fill="#000" style="font-size:21.5px">10% <tspan font-style="italic">R</tspan><tspan font-style="italic" style="font-size:14px" dy="5.4">N</tspan></text>
</svg></body></html>
